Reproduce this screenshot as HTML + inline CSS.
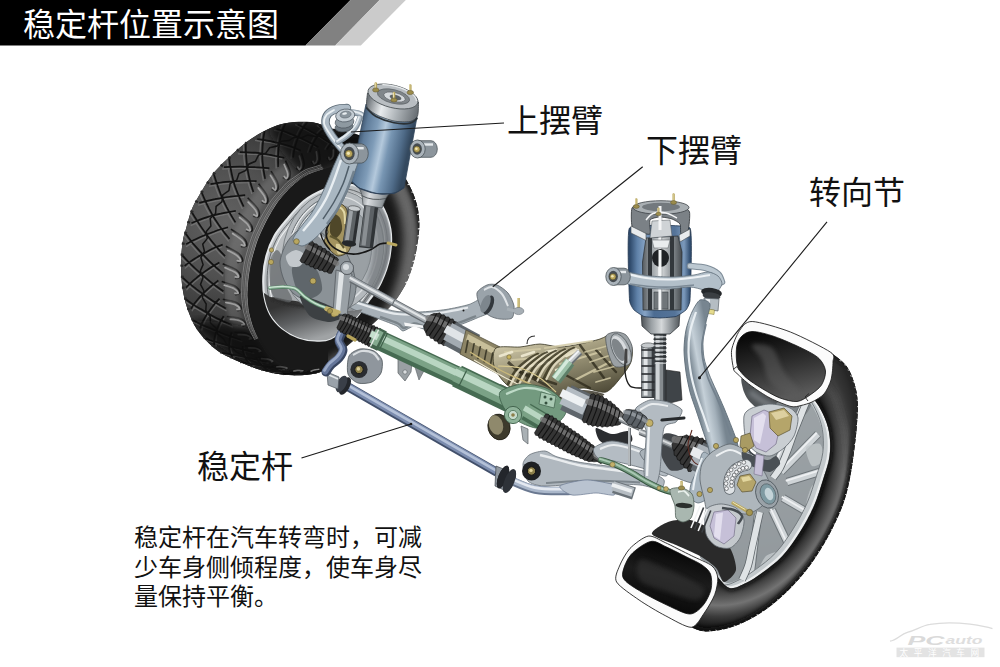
<!DOCTYPE html>
<html lang="zh-CN">
<head>
<meta charset="utf-8">
<title>稳定杆位置示意图</title>
<style>
html,body{margin:0;padding:0;background:#fff;}
body{width:1000px;height:667px;overflow:hidden;position:relative;font-family:"Liberation Sans","Noto Sans CJK SC",sans-serif;}
#stage{position:absolute;left:0;top:0;width:1000px;height:667px;display:block;}
.t{position:absolute;margin:0;color:transparent;white-space:nowrap;line-height:1;font-family:"Liberation Sans","Noto Sans CJK SC",sans-serif;}
</style>
</head>
<body>
<svg id="stage" width="1000" height="667" viewBox="0 0 1000 667">
<defs>

<radialGradient id="gTread" gradientUnits="userSpaceOnUse" cx="226" cy="222" r="140">
<stop offset="0" stop-color="#626262"/><stop offset=".4" stop-color="#505050"/><stop offset=".75" stop-color="#363636"/><stop offset="1" stop-color="#222"/></radialGradient>
<radialGradient id="gSide" gradientUnits="userSpaceOnUse" cx="330" cy="262" r="100" gradientTransform="rotate(15 330 262) translate(330 262) scale(.72 1) translate(-330 -262)">
<stop offset=".66" stop-color="#3b3b3b"/><stop offset=".8" stop-color="#4e4e4e"/><stop offset=".92" stop-color="#2b2b2b"/><stop offset="1" stop-color="#141414"/></radialGradient>
<linearGradient id="gRim" gradientUnits="userSpaceOnUse" x1="270" y1="200" x2="380" y2="330">
<stop offset="0" stop-color="#c9cdd0"/><stop offset=".5" stop-color="#a9adb0"/><stop offset="1" stop-color="#7d8185"/></linearGradient>
<linearGradient id="gBarrel" gradientUnits="userSpaceOnUse" x1="300" y1="300" x2="312" y2="340">
<stop offset="0" stop-color="#343434"/><stop offset=".45" stop-color="#5c5e60"/><stop offset="1" stop-color="#a0a3a5"/></linearGradient>
<clipPath id="cTread"><path d="M328.6 128.1C326 123.7 324.7 125.8 322.6 125.1C320.5 124.4 313.9 122.4 310.6 122.1C307.3 121.8 298.3 121.8 294.5 122.1C290.7 122.4 282.1 123.9 278.4 125.1C274.7 126.3 266.1 130.1 262.4 132.1C258.7 134.1 250.1 139.4 246.3 142.2C242.5 145 233.9 152.7 230.2 156.2C226.5 159.7 217.5 168.3 214.2 172.3C210.9 176.3 204.7 186.2 202.1 190.4C199.5 194.6 194 204 192.1 208.4C190.2 212.8 187.2 224.8 186.1 228.5C185 232.2 183.6 236.3 183 240C182.4 243.7 181.1 255 181 260.2C180.9 265.4 181.4 279.2 182 284.3C182.6 289.4 184.6 299.6 186 304.3C187.4 309 191.7 320.2 194 324.4C196.3 328.6 203 337.2 206.1 340.5C209.2 343.8 216.2 350 220.2 352.5C224.2 355 235.5 360.2 240.2 362.2C244.9 364.2 255.6 368.4 260.3 369.8C265 371.2 275.7 373.7 280.4 374.3C285.1 374.9 296.2 375.4 300.4 375.3C304.6 375.2 313.5 374 316.5 373.3C319.5 372.6 326.1 369.9 326.5 369.3C326.9 368.7 322.4 368.4 320 368.5C317.6 368.6 309.3 370 306 370C302.7 370 295.1 369.3 292 368.5C288.9 367.7 281.8 364.7 279 363C276.2 361.3 270.2 356.3 268 354C265.8 351.7 262.2 346 260.5 343C258.8 340 254.8 331.6 253.5 328C252.2 324.4 249.7 315.7 249 312C248.3 308.3 247.6 299.9 247.5 296C247.4 292.1 248 283 248.5 279C249 275 250.3 265.8 251.4 261.3C252.5 256.8 255.9 245 257.7 240.2C259.5 235.4 264.4 224.9 266.7 220.5C269 216.1 274.6 206.5 277.5 202.5C280.4 198.5 287.9 189.8 291.5 186.5C295.1 183.2 302.5 177.1 308 174.5C313.5 171.9 334.4 165.9 338.7 164.5C343 163.1 346.2 166.7 345 162.5C343.8 158.3 331.2 132.5 328.6 128.1Z"/></clipPath>
<clipPath id="cTire"><path d="M328.6 128.1C325.2 127.2 325.6 126.1 322.6 125.1C319.6 124.1 315.3 122.6 310.6 122.1C305.9 121.6 299.9 121.6 294.5 122.1C289.1 122.6 283.8 123.4 278.4 125.1C273 126.8 267.8 129.2 262.4 132.1C257 134.9 251.7 138.2 246.3 142.2C240.9 146.2 235.5 151.2 230.2 156.2C224.8 161.2 218.9 166.6 214.2 172.3C209.5 178 205.8 184.4 202.1 190.4C198.4 196.4 194.8 202.1 192.1 208.4C189.4 214.8 187.6 223.2 186.1 228.5C184.6 233.8 183.8 234.7 183 240C182.2 245.3 181.2 252.8 181 260.2C180.8 267.6 181.2 276.9 182 284.3C182.8 291.7 184 297.6 186 304.3C188 311 190.7 318.4 194 324.4C197.3 330.4 201.7 335.8 206.1 340.5C210.5 345.2 214.5 348.9 220.2 352.5C225.9 356.1 233.5 359.3 240.2 362.2C246.9 365.1 253.6 367.8 260.3 369.8C267 371.8 273.7 373.4 280.4 374.3C287.1 375.2 294.4 375.5 300.4 375.3C306.4 375.1 312.1 374.3 316.5 373.3C320.9 372.3 323.9 370.9 326.5 369.3C329.1 367.8 329.2 367.2 332 364C334.8 360.8 338.7 354.5 343 350C347.3 345.5 352.8 341.5 358 337C363.2 332.5 369 327.7 374 323C379 318.3 384 313.3 388 309C392 304.7 394.9 301.4 398 297C401.1 292.6 404.2 287.4 406.5 282.6C408.8 277.8 410.5 272.6 412 268C413.5 263.4 414.4 260.3 415.5 255C416.6 249.7 418 241.5 418.6 236C419.2 230.5 419.5 226.8 419.3 222C419.1 217.2 418.6 211.9 417.5 207C416.4 202.1 414.8 197.3 412.7 192.3C410.6 187.3 407.6 182.1 404.7 177C401.8 171.9 399.1 167 395 162C390.9 157 385.8 151.4 380 147C374.2 142.6 366.2 138.2 360 135.5C353.8 132.8 348.2 131.7 343 130.5C337.8 129.3 332 129 328.6 128.1Z"/></clipPath>
<clipPath id="cRim"><path d="M323.8 189.7C330.7 186.9 338.1 183.9 345 184C351.9 184.1 359.1 186.8 365 190C370.9 193.2 376.4 197 380.6 203.5C384.8 210 388.8 220.3 390.3 229.2C391.8 238.1 391 248.1 389.4 257C387.8 265.9 384.1 275.5 380.8 282.6C377.5 289.7 374.2 293.1 369.4 299.7C364.6 306.3 358.5 315.5 352 322C345.5 328.5 336.8 335.4 330.6 338.5C324.4 341.6 320 340.7 314.6 340.5C309.2 340.3 303.9 339.5 298.5 337.5C293.1 335.5 287.1 332.2 282.4 328.4C277.7 324.5 273.4 319.8 270.4 314.4C267.4 309 265.6 302.7 264.4 296.3C263.2 289.9 263.1 282.9 263.4 276.2C263.7 269.5 264.6 262.8 266.4 256.1C268.2 249.4 271 242 274.4 236C277.8 230 281.6 225.8 286.5 220C291.4 214.2 297.7 206.1 303.9 201C310.1 195.9 316.9 192.5 323.8 189.7Z"/></clipPath>
<filter id="b1"><feGaussianBlur stdDeviation="1"/></filter>
<filter id="b2"><feGaussianBlur stdDeviation="2"/></filter>
<filter id="b4"><feGaussianBlur stdDeviation="4"/></filter>


<radialGradient id="gRT" gradientUnits="userSpaceOnUse" cx="742" cy="470" r="150" gradientTransform="translate(742 470) rotate(20) scale(.78 1.08) translate(-742 -470)">
<stop offset=".70" stop-color="#171717"/><stop offset=".79" stop-color="#4a4a4a"/><stop offset=".86" stop-color="#737373"/><stop offset=".93" stop-color="#3c3c3c"/><stop offset="1" stop-color="#161616"/></radialGradient>
<linearGradient id="gCav" gradientUnits="userSpaceOnUse" x1="760" y1="335" x2="775" y2="400">
<stop offset="0" stop-color="#0a0a0a"/><stop offset=".45" stop-color="#2a2a2a"/><stop offset="1" stop-color="#5a5a5a"/></linearGradient>
<linearGradient id="gCav2" gradientUnits="userSpaceOnUse" x1="670" y1="545" x2="655" y2="605">
<stop offset="0" stop-color="#050505"/><stop offset=".5" stop-color="#1c1c1c"/><stop offset="1" stop-color="#0a0a0a"/></linearGradient>
<linearGradient id="gRimR" gradientUnits="userSpaceOnUse" x1="760" y1="400" x2="800" y2="590">
<stop offset="0" stop-color="#c9ced1"/><stop offset=".5" stop-color="#b4babd"/><stop offset="1" stop-color="#9aa0a4"/></linearGradient>
<clipPath id="cRT"><path d="M830.5 352.2C833.2 354.5 842.6 360.8 846.6 366.2C850.6 371.6 852.8 378.3 854.6 384.3C856.5 390.3 857.3 395.6 857.7 402.4C858.1 409.2 857.5 416.7 856.9 425C856.3 433.3 855.2 442.8 854 452C852.8 461.2 851.5 471.3 849.6 480.3C847.7 489.3 846 496.7 842.5 506C839 515.3 834 526 828.5 536C823 546 816.2 557 809.6 566C803 575 795.7 583 788.7 590C781.7 597 774.6 603.1 767.5 608.3C760.4 613.5 753 617.8 746 621.3C739 624.8 732.2 627.3 725.2 629C718.2 630.7 709.9 631.7 704.3 631.4C698.6 631.1 693.5 628 691.3 627.3L717.3 576.5C719.4 578.4 724.9 586.9 729.7 588C734.5 589.1 740.6 585.5 746 583C751.4 580.5 755.9 577.5 762 573C768.1 568.5 776.2 562.8 782.5 556C788.8 549.2 794.8 540.3 800 532C805.2 523.7 810.2 514.7 814 506C817.8 497.3 820.4 488.3 823 480C825.6 471.7 828.6 463.9 829.6 456C830.6 448.1 830.3 439.8 829.2 432.8C828.1 425.8 825.5 419.5 823 414C820.5 408.5 816.9 403 814.5 400C812.1 397 809.4 396.7 808.4 396Z"/></clipPath>


<linearGradient id="gGear" gradientUnits="userSpaceOnUse" x1="540" y1="335" x2="560" y2="410">
<stop offset="0" stop-color="#cfc8aa"/><stop offset=".3" stop-color="#a59e80"/><stop offset=".65" stop-color="#77725a"/><stop offset="1" stop-color="#45412f"/></linearGradient>
<linearGradient id="gCyl" gradientUnits="userSpaceOnUse" x1="0" y1="0" x2="0" y2="1">
<stop offset="0" stop-color="#6b7075"/><stop offset=".3" stop-color="#d4d8db"/><stop offset=".6" stop-color="#9da3a8"/><stop offset="1" stop-color="#4f5458"/></linearGradient>


<linearGradient id="gShk" gradientUnits="userSpaceOnUse" x1="357" y1="140" x2="408" y2="151">
<stop offset="0" stop-color="#3a5068"/><stop offset=".12" stop-color="#5f7c9a"/><stop offset=".32" stop-color="#7f9cb8"/><stop offset=".48" stop-color="#b4c9dc"/><stop offset=".62" stop-color="#7896b3"/><stop offset=".85" stop-color="#4f6b88"/><stop offset="1" stop-color="#34495f"/></linearGradient>
<linearGradient id="gCap" gradientUnits="userSpaceOnUse" x1="368" y1="100" x2="417" y2="114">
<stop offset="0" stop-color="#6f757a"/><stop offset=".3" stop-color="#e9ecee"/><stop offset=".6" stop-color="#b0b6ba"/><stop offset="1" stop-color="#6a7075"/></linearGradient>
<linearGradient id="gCol" gradientUnits="userSpaceOnUse" x1="358" y1="190" x2="392" y2="197">
<stop offset="0" stop-color="#5d6368"/><stop offset=".35" stop-color="#d9dcdf"/><stop offset=".7" stop-color="#9da3a7"/><stop offset="1" stop-color="#53595d"/></linearGradient>



<linearGradient id="gShkR" gradientUnits="userSpaceOnUse" x1="630" y1="0" x2="690" y2="0">
<stop offset="0" stop-color="#2f4a6b"/><stop offset=".12" stop-color="#5f81a8"/><stop offset=".25" stop-color="#86a3c4"/><stop offset=".4" stop-color="#4c6c92"/><stop offset=".75" stop-color="#557499"/><stop offset=".9" stop-color="#7b99bb"/><stop offset="1" stop-color="#324e70"/></linearGradient>
<linearGradient id="gIn" gradientUnits="userSpaceOnUse" x1="641" y1="0" x2="682" y2="0">
<stop offset="0" stop-color="#4a4f53"/><stop offset=".25" stop-color="#9aa0a4"/><stop offset=".5" stop-color="#d5d8da"/><stop offset=".75" stop-color="#8b9195"/><stop offset="1" stop-color="#454a4e"/></linearGradient>
<linearGradient id="gKn" gradientUnits="userSpaceOnUse" x1="686" y1="340" x2="708" y2="336">
<stop offset="0" stop-color="#7b8994"/><stop offset=".35" stop-color="#c5d0d8"/><stop offset=".7" stop-color="#a3b0ba"/><stop offset="1" stop-color="#778590"/></linearGradient>

</defs>
<rect width="1000" height="667" fill="#fff"/>
<!-- ===== illustration ===== -->
<g id="lwheel">
<path d="M328.6 128.1C325.2 127.2 325.6 126.1 322.6 125.1C319.6 124.1 315.3 122.6 310.6 122.1C305.9 121.6 299.9 121.6 294.5 122.1C289.1 122.6 283.8 123.4 278.4 125.1C273 126.8 267.8 129.2 262.4 132.1C257 134.9 251.7 138.2 246.3 142.2C240.9 146.2 235.5 151.2 230.2 156.2C224.8 161.2 218.9 166.6 214.2 172.3C209.5 178 205.8 184.4 202.1 190.4C198.4 196.4 194.8 202.1 192.1 208.4C189.4 214.8 187.6 223.2 186.1 228.5C184.6 233.8 183.8 234.7 183 240C182.2 245.3 181.2 252.8 181 260.2C180.8 267.6 181.2 276.9 182 284.3C182.8 291.7 184 297.6 186 304.3C188 311 190.7 318.4 194 324.4C197.3 330.4 201.7 335.8 206.1 340.5C210.5 345.2 214.5 348.9 220.2 352.5C225.9 356.1 233.5 359.3 240.2 362.2C246.9 365.1 253.6 367.8 260.3 369.8C267 371.8 273.7 373.4 280.4 374.3C287.1 375.2 294.4 375.5 300.4 375.3C306.4 375.1 312.1 374.3 316.5 373.3C320.9 372.3 323.9 370.9 326.5 369.3C329.1 367.8 329.2 367.2 332 364C334.8 360.8 338.7 354.5 343 350C347.3 345.5 352.8 341.5 358 337C363.2 332.5 369 327.7 374 323C379 318.3 384 313.3 388 309C392 304.7 394.9 301.4 398 297C401.1 292.6 404.2 287.4 406.5 282.6C408.8 277.8 410.5 272.6 412 268C413.5 263.4 414.4 260.3 415.5 255C416.6 249.7 418 241.5 418.6 236C419.2 230.5 419.5 226.8 419.3 222C419.1 217.2 418.6 211.9 417.5 207C416.4 202.1 414.8 197.3 412.7 192.3C410.6 187.3 407.6 182.1 404.7 177C401.8 171.9 399.1 167 395 162C390.9 157 385.8 151.4 380 147C374.2 142.6 366.2 138.2 360 135.5C353.8 132.8 348.2 131.7 343 130.5C337.8 129.3 332 129 328.6 128.1Z" fill="#191919"/>
<g clip-path="url(#cTire)">
<path d="M383.3 168.7C384.9 170.3 390 174.7 392.9 178.3C395.8 181.9 398.4 186 400.7 190.4C402.9 194.8 404.9 199.7 406.5 204.7C408.1 209.8 409.3 215.2 410.1 220.8C411 226.4 411.4 232.2 411.5 238.1C411.6 244 411.2 250.1 410.5 256.1C409.8 262.2 408.7 268.3 407.3 274.3C405.8 280.4 404 286.4 401.8 292.2C399.7 298 397.1 303.7 394.3 309.1C391.5 314.5 388.4 319.7 385 324.6C381.7 329.4 378 334 374.2 338.2C370.4 342.3 366.4 346.1 362.2 349.4C358.1 352.8 353.8 355.7 349.4 358.1C345.1 360.4 338.4 362.8 336.2 363.8" fill="none" stroke="#6e6e6e" stroke-width="17" filter="url(#b4)" opacity=".95" stroke-linecap="round"/>
<ellipse cx="331" cy="262" rx="90" ry="124" fill="none" transform="rotate(17 331 262)" stroke="#0c0c0c" stroke-width="10" filter="url(#b2)" opacity=".9"/>
</g>
<path d="M328.6 128.1C326 123.7 324.7 125.8 322.6 125.1C320.5 124.4 313.9 122.4 310.6 122.1C307.3 121.8 298.3 121.8 294.5 122.1C290.7 122.4 282.1 123.9 278.4 125.1C274.7 126.3 266.1 130.1 262.4 132.1C258.7 134.1 250.1 139.4 246.3 142.2C242.5 145 233.9 152.7 230.2 156.2C226.5 159.7 217.5 168.3 214.2 172.3C210.9 176.3 204.7 186.2 202.1 190.4C199.5 194.6 194 204 192.1 208.4C190.2 212.8 187.2 224.8 186.1 228.5C185 232.2 183.6 236.3 183 240C182.4 243.7 181.1 255 181 260.2C180.9 265.4 181.4 279.2 182 284.3C182.6 289.4 184.6 299.6 186 304.3C187.4 309 191.7 320.2 194 324.4C196.3 328.6 203 337.2 206.1 340.5C209.2 343.8 216.2 350 220.2 352.5C224.2 355 235.5 360.2 240.2 362.2C244.9 364.2 255.6 368.4 260.3 369.8C265 371.2 275.7 373.7 280.4 374.3C285.1 374.9 296.2 375.4 300.4 375.3C304.6 375.2 313.5 374 316.5 373.3C319.5 372.6 326.1 369.9 326.5 369.3C326.9 368.7 322.4 368.4 320 368.5C317.6 368.6 309.3 370 306 370C302.7 370 295.1 369.3 292 368.5C288.9 367.7 281.8 364.7 279 363C276.2 361.3 270.2 356.3 268 354C265.8 351.7 262.2 346 260.5 343C258.8 340 254.8 331.6 253.5 328C252.2 324.4 249.7 315.7 249 312C248.3 308.3 247.6 299.9 247.5 296C247.4 292.1 248 283 248.5 279C249 275 250.3 265.8 251.4 261.3C252.5 256.8 255.9 245 257.7 240.2C259.5 235.4 264.4 224.9 266.7 220.5C269 216.1 274.6 206.5 277.5 202.5C280.4 198.5 287.9 189.8 291.5 186.5C295.1 183.2 302.5 177.1 308 174.5C313.5 171.9 334.4 165.9 338.7 164.5C343 163.1 346.2 166.7 345 162.5C343.8 158.3 331.2 132.5 328.6 128.1Z" fill="url(#gTread)"/>
<g clip-path="url(#cTread)">
<path d="M328.6 128.1C328.9 128.7 329.7 130.5 330.3 131.7C330.9 132.8 331.4 134 332 135.2C332.6 136.4 333.1 137.6 333.7 138.8C334.2 139.9 334.8 141.1 335.4 142.3C335.9 143.5 336.5 144.7 337.1 145.9C337.6 147.1 338.5 148.8 338.8 149.4M328.6 128.1C328.9 128.7 329.7 130.5 330.3 131.7C330.9 132.8 331.4 134 332 135.2C332.6 136.4 333.9 137.8 333.7 138.8C333.4 139.8 331.6 140.2 330.6 141.3C329.5 142.3 328.4 143.7 327.4 145.1C326.4 146.5 325.1 148.8 324.7 149.6M325.8 126.7C325.2 127 323.2 127.7 322 128.6C320.7 129.4 319.4 130.5 318.2 131.8C317.1 133 316 134.5 314.9 136C313.9 137.6 312.9 139.4 311.9 141.2C311 143 310.2 144.8 309.5 146.7C308.7 148.6 307.8 151.8 307.5 152.8M304.4 122.1C303.8 122.9 301.9 125.2 300.9 127C299.8 128.7 298.7 130.5 297.8 132.5C296.9 134.4 296.1 136.5 295.3 138.6C294.5 140.7 293.8 142.6 293.2 144.8C292.6 146.9 292.1 149.2 291.7 151.5C291.3 153.9 291.1 157.6 291 158.8M282.4 124.4C282 125.4 280.6 128.6 279.9 130.9C279.2 133.2 278.6 135.8 278.1 138.2C277.6 140.6 277.1 143.1 276.8 145.6C276.4 148.1 276.2 150.6 276.1 153.2C275.9 155.8 275.9 158.4 275.9 160.9C275.9 163.4 276.1 167.2 276.2 168.4M261.9 132.5C261.7 133.8 261.1 137.9 260.8 140.5C260.5 143.2 260.3 145.8 260.2 148.5C260 151.1 259.9 153.6 260 156.3C260.1 159 260.4 161.8 260.7 164.6C261 167.3 261.4 170 261.9 172.7C262.3 175.4 263.2 179.3 263.4 180.6M243.4 144.7C243.5 146.1 243.5 150.4 243.7 153.3C243.8 156.1 244 158.9 244.3 161.6C244.6 164.4 245 167.1 245.4 169.8C245.9 172.6 246.4 175.3 247 178C247.7 180.7 248.4 183.4 249.2 186C250 188.7 251.5 192.7 251.9 194M226.9 159.5C227.1 160.9 227.6 165.2 228.1 168C228.6 170.8 229.2 173.6 229.8 176.3C230.5 179.1 231.2 181.8 232.1 184.6C233 187.3 234.1 190.2 235.2 193C236.3 195.7 237.4 198.4 238.6 201.1C239.8 203.7 241.8 207.6 242.4 208.9M211.9 175.8C212.4 177.2 213.7 181.7 214.7 184.6C215.7 187.5 216.7 190.3 217.8 193.1C218.9 195.9 220 198.6 221.3 201.3C222.6 204.1 224 206.8 225.4 209.4C226.8 212.1 228.3 214.7 229.8 217.2C231.3 219.7 233.6 223.4 234.4 224.6M199.9 194.4C200.5 195.8 202.3 200.1 203.6 202.9C204.9 205.7 206.2 208.4 207.7 211.1C209.1 213.8 210.7 216.5 212.3 219.1C214 221.7 215.8 224.4 217.6 226.9C219.4 229.5 221.3 231.9 223.1 234.4C225 236.8 227.9 240.2 228.8 241.4M190.3 214.3C191.2 215.7 193.8 220 195.6 222.7C197.4 225.4 199.2 228 201 230.6C202.8 233.2 204.7 235.7 206.6 238.2C208.4 240.6 210.3 243 212.3 245.4C214.3 247.7 216.4 250 218.4 252.2C220.5 254.4 223.7 257.5 224.8 258.6M184.2 235.6C185.2 236.9 188 240.8 190 243.4C192.1 245.9 194.3 248.4 196.5 250.8C198.7 253.2 200.8 255.5 203 257.7C205.2 260 207.3 262.2 209.6 264.3C211.8 266.4 214.2 268.5 216.4 270.4C218.7 272.4 222 275.2 223.2 276.2M181.3 257.6C182.4 258.8 185.9 262.4 188.2 264.7C190.6 267 193 269.2 195.4 271.4C197.7 273.5 200 275.6 202.4 277.6C204.7 279.6 207 281.6 209.3 283.4C211.7 285.3 214.1 287.1 216.5 288.8C218.9 290.5 222.4 292.9 223.5 293.8M181.8 279.7C183 280.8 186.6 284 189.1 286.1C191.6 288.1 194.3 290 196.8 291.9C199.4 293.8 201.8 295.6 204.3 297.4C206.7 299.1 209.1 300.8 211.6 302.4C214.1 304 216.8 305.4 219.3 306.9C221.8 308.3 225.4 310.3 226.6 311M185.5 301.6C186.8 302.5 190.9 305.2 193.6 307C196.3 308.7 199.1 310.3 201.8 311.9C204.4 313.4 207 315 209.6 316.4C212.2 317.9 214.6 319.3 217.3 320.5C219.9 321.8 222.8 322.9 225.4 324C228 325.1 231.7 326.7 233 327.2M193.2 322.3C194.7 323 199.1 325.2 202 326.5C204.9 327.8 208 329 210.8 330.2C213.6 331.3 216.3 332.6 219 333.6C221.8 334.7 224.4 335.7 227.1 336.6C229.7 337.6 232.5 338.3 235 339.2C237.5 340 241.1 341.3 242.3 341.7M206 340.4C207.5 340.8 212.3 342.2 215.3 343C218.3 343.9 221.2 344.8 224 345.6C226.8 346.5 229.4 347.4 232.1 348.2C234.8 348.9 237.5 349.3 240.1 349.9C242.7 350.5 245.2 351.1 247.5 351.7C249.9 352.3 253.2 353.3 254.3 353.6M223.4 354C224.8 354.3 229.5 355 232.3 355.5C235.2 356 238 356.5 240.7 357.1C243.3 357.6 245.8 358.2 248.3 358.8C250.8 359.3 253.1 359.8 255.4 360.3C257.8 360.8 260.1 361.3 262.3 361.8C264.5 362.3 267.6 363 268.6 363.3M243.4 363.4C244.8 363.6 248.9 364.2 251.5 364.6C254.1 365.1 256.6 365.5 259 365.9C261.4 366.4 263.7 366.9 266 367.3C268.3 367.6 270.5 367.9 272.7 368.1C274.8 368.4 277 368.6 279 368.9C281 369.1 283.9 369.5 284.9 369.6M264.4 370.7C265.6 370.8 269.3 371.1 271.7 371.3C274.1 371.5 276.4 371.8 278.6 371.9C280.9 372.1 283 372.3 285.1 372.4C287.2 372.4 289.3 372.3 291.3 372.3C293.2 372.2 295.2 372.1 297 372C298.9 371.9 301.4 371.8 302.3 371.7M286.1 374.6C287.3 374.5 290.7 374.4 292.8 374.3C295 374.2 297.1 374.2 299.1 374C301.1 373.8 303.1 373.5 305 373.2C306.8 372.9 308.6 372.6 310.4 372.2C312.1 371.8 313.8 371.5 315.3 371C316.9 370.6 319 369.7 319.7 369.5M308.3 374.3C309.2 374.1 312.3 373.7 314.2 373.1C316 372.6 317.8 371.8 319.5 371.1C321.1 370.5 323.6 369.5 324.3 369.1C325 368.8 324 369 323.8 369C323.6 368.9 323.4 368.9 323.1 368.9C322.9 368.9 322.6 368.8 322.5 368.8M326.5 369.3C326.4 369.3 326.1 369.2 325.8 369.2C325.6 369.2 325.4 369.2 325.2 369.1C324.9 369.1 324.7 369.1 324.5 369.1C324.3 369 324 369 323.8 369C323.6 368.9 323.4 368.9 323.1 368.9C322.9 368.9 322.6 368.8 322.5 368.8M326.5 369.3C326.4 369.3 326.1 369.2 325.8 369.2C325.6 369.2 325.4 369.2 325.2 369.1C324.9 369.1 324.7 369.1 324.5 369.1C324.3 369 324 369 323.8 369C323.6 368.9 323.4 368.9 323.1 368.9C322.9 368.9 322.6 368.8 322.5 368.8M326.5 369.3C326.4 369.3 326.1 369.2 325.8 369.2C325.6 369.2 325.4 369.2 325.2 369.1C324.9 369.1 324.7 369.1 324.5 369.1C324.3 369 324 369 323.8 369C323.6 368.9 323.4 368.9 323.1 368.9C322.9 368.9 322.6 368.8 322.5 368.8M329.4 129.8C329.6 130.3 330.3 131.7 330.8 132.7C331.2 133.6 331.7 134.6 332.2 135.6C332.6 136.5 333.1 137.5 333.5 138.4C334 139.4 334.4 140.3 334.9 141.3C335.3 142.2 335.8 143.2 336.3 144.2C336.7 145.1 337.4 146.5 337.6 147M329.4 129.8C329.6 130.3 330.3 131.7 330.8 132.7C331.2 133.6 331.7 134.6 332.2 135.6C332.6 136.5 333.1 137.5 333.5 138.4C334 139.4 334.4 140.3 334.9 141.3C335.3 142.2 335.8 143.2 336.3 144.2C336.7 145.1 337.4 146.5 337.6 147M316.8 125.5C317.9 126.2 321.2 128.4 323.3 129.9C325.4 131.4 327.6 133.1 329.3 134.5C331 135.9 332.6 137.3 333.5 138.4C334.5 139.5 334.4 140.3 334.9 141.3C335.3 142.2 335.8 143.2 336.3 144.2C336.7 145.1 337.4 146.5 337.6 147M295.2 124.6C296.4 125.2 300.1 127.1 302.4 128.3C304.8 129.6 307.1 130.8 309.4 132C311.7 133.2 313.9 134.3 316.1 135.5C318.2 136.7 320.3 138.1 322.3 139.4C324.4 140.6 326.4 141.9 328.3 143.1C330.2 144.3 333 146 333.9 146.6M274.1 130.1C275.4 130.4 279.1 131.3 281.6 132C284.1 132.8 286.6 133.8 289.1 134.8C291.5 135.8 294 136.8 296.3 137.8C298.7 138.8 301 139.8 303.3 140.8C305.6 141.9 307.8 143 310 144.1C312.2 145.2 315.3 146.8 316.4 147.4M255 140.4C256.3 140.6 260.2 141.1 262.7 141.5C265.3 141.9 267.7 142.2 270.2 142.7C272.7 143.2 275.2 143.9 277.6 144.5C280.1 145.1 282.4 145.7 284.8 146.3C287.2 147 289.5 147.7 291.8 148.5C294.1 149.3 297.5 150.7 298.7 151.1M237.9 153.8C239.2 153.8 243.1 153.9 245.7 154C248.3 154.1 250.8 154.2 253.2 154.4C255.7 154.5 258.2 154.7 260.6 155C263.1 155.3 265.7 155.8 268.2 156.2C270.6 156.6 273 157.1 275.4 157.5C277.8 158 281.3 158.8 282.4 159M222.2 169C223.6 168.9 227.6 168.7 230.3 168.6C233 168.5 235.6 168.5 238.2 168.4C240.8 168.4 243.3 168.4 245.9 168.4C248.4 168.5 251 168.6 253.5 168.8C256 168.9 258.4 169 260.8 169.2C263.2 169.4 266.7 169.7 267.9 169.8M209.1 186.3C210.4 186.1 214.4 185.4 217 185C219.6 184.6 222.1 184.2 224.7 183.9C227.2 183.6 229.7 183.3 232.3 183.1C234.9 182.9 237.6 182.9 240.1 182.8C242.7 182.7 245.2 182.6 247.7 182.6C250.1 182.6 253.8 182.7 255.1 182.7M198 205.1C199.4 204.8 203.4 203.8 206 203.1C208.6 202.5 211.2 201.9 213.7 201.3C216.3 200.8 218.8 200.3 221.4 199.8C223.9 199.4 226.5 199 229 198.6C231.6 198.3 234.1 198 236.6 197.7C239.1 197.5 242.8 197.1 244 197M190.7 225.6C191.9 225.1 195.5 223.6 197.9 222.6C200.2 221.7 202.6 220.8 205 219.9C207.3 219.1 209.6 218.2 212.1 217.5C214.6 216.8 217.2 216.2 219.7 215.6C222.3 215.1 224.8 214.5 227.3 214.1C229.8 213.6 233.5 212.9 234.8 212.7M185.9 246.8C186.9 246.2 190 244.2 192.2 243.1C194.4 241.9 196.9 240.8 199.2 239.7C201.5 238.6 203.9 237.6 206.2 236.7C208.6 235.7 210.9 234.8 213.3 233.9C215.6 233 217.9 232.2 220.3 231.4C222.6 230.6 226.1 229.6 227.2 229.2M184.7 268.5C185.6 267.8 188.4 265.6 190.3 264.1C192.2 262.7 194.2 261.4 196.2 260C198.2 258.7 200.4 257.5 202.5 256.2C204.6 255 206.7 253.8 208.8 252.7C210.9 251.6 213.1 250.5 215.3 249.5C217.5 248.5 221 247.2 222.1 246.7M186.4 290.2C187.2 289.4 189.3 286.9 191 285.3C192.6 283.7 194.4 282.1 196.2 280.6C198 279.1 199.8 277.6 201.7 276.2C203.5 274.7 205.4 273.4 207.3 272C209.2 270.7 211.1 269.4 213.1 268.2C215.1 266.9 218.1 265.2 219.1 264.6M191.9 311.3C192.4 310.4 193.9 307.8 195.1 306.1C196.3 304.3 197.6 302.6 199 301C200.4 299.3 201.9 297.6 203.4 296C205 294.4 206.5 292.8 208.1 291.3C209.7 289.8 211.4 288.3 213.1 286.9C214.8 285.5 217.5 283.4 218.4 282.7M201.7 330.5C201.9 329.7 202.6 327.2 203.2 325.5C203.8 323.8 204.5 322.2 205.4 320.4C206.3 318.7 207.5 316.9 208.6 315.2C209.7 313.5 210.9 311.8 212.1 310.2C213.3 308.5 214.5 306.9 215.8 305.3C217.1 303.8 219.2 301.5 219.9 300.7M216.2 346.6C216.2 345.8 216 343.6 216.1 342.1C216.1 340.6 216.1 339.2 216.4 337.6C216.7 336 217.3 334.2 217.8 332.6C218.4 330.9 219 329.3 219.6 327.7C220.3 326.1 221 324.5 221.8 322.9C222.6 321.3 224 319 224.4 318.2M234.4 358.1C234.1 357.5 233.1 355.9 232.6 354.7C232.1 353.6 231.7 352.4 231.4 351.2C231 350 230.8 348.7 230.8 347.3C230.7 345.9 230.9 344.4 231 342.9C231.1 341.4 231.4 339.9 231.6 338.4C231.9 337 232.5 334.8 232.7 334M254.4 366.7C253.9 366.3 252.3 365 251.4 364.1C250.5 363.1 249.6 362.3 248.8 361.3C248.1 360.3 247.4 359.3 246.9 358.2C246.3 357.1 245.9 355.9 245.5 354.7C245.1 353.6 244.7 352.4 244.5 351.2C244.3 350 244.2 348.1 244.1 347.5M275.3 372.7C274.6 372.4 272.6 371.5 271.3 370.9C270.1 370.3 268.8 369.7 267.7 369C266.6 368.4 265.5 367.7 264.6 366.8C263.6 366 262.7 365.1 261.9 364.1C261.1 363.2 260.3 362.3 259.6 361.3C258.9 360.4 258 359 257.7 358.5M296.9 374.8C296.1 374.7 293.7 374.3 292.2 374.1C290.7 373.8 289.2 373.6 287.8 373.3C286.3 373 285 372.7 283.7 372.2C282.4 371.8 281.2 371.1 280 370.5C278.8 369.9 277.7 369.3 276.6 368.7C275.5 368.1 274.1 367.1 273.5 366.8M318.5 372.3C317.6 372.4 315 372.9 313.3 373.1C311.6 373.3 309.9 373.3 308.3 373.3C306.7 373.4 305.1 373.4 303.6 373.4C302 373.3 300.5 373.2 299.1 373C297.7 372.8 296.3 372.4 294.9 372.2C293.6 371.9 291.6 371.5 291 371.4M326.2 369.3C326.1 369.2 325.8 369.2 325.6 369.2C325.5 369.2 325.5 369.1 325.1 369.1C324.7 369.2 324.2 369.3 323 369.6C321.9 369.8 319.8 370.4 318.2 370.8C316.7 371.1 315.1 371.4 313.6 371.6C312.1 371.7 309.9 371.7 309.1 371.7M326.2 369.3C326.1 369.2 325.8 369.2 325.6 369.2C325.5 369.2 325.3 369.1 325.1 369.1C324.9 369.1 324.7 369.1 324.6 369.1C324.4 369 324.2 369 324 369C323.8 369 323.6 368.9 323.5 368.9C323.3 368.9 323 368.9 322.9 368.9M326.2 369.3C326.1 369.2 325.8 369.2 325.6 369.2C325.5 369.2 325.3 369.1 325.1 369.1C324.9 369.1 324.7 369.1 324.6 369.1C324.4 369 324.2 369 324 369C323.8 369 323.6 368.9 323.5 368.9C323.3 368.9 323 368.9 322.9 368.9" fill="none" stroke="#8c8c8c" stroke-width="1.3" opacity=".5"/>
<path d="M328.6 128.1C328.9 128.7 329.7 130.5 330.3 131.7C330.9 132.8 331.4 134 332 135.2C332.6 136.4 333.1 137.6 333.7 138.8C334.2 139.9 334.8 141.1 335.4 142.3C335.9 143.5 336.5 144.7 337.1 145.9C337.6 147.1 338.5 148.8 338.8 149.4M328.6 128.1C328.9 128.7 329.7 130.5 330.3 131.7C330.9 132.8 331.4 134 332 135.2C332.6 136.4 333.5 137.7 333.7 138.8C333.9 139.9 333.7 140.7 333 141.8C332.4 142.8 330.9 143.8 329.9 145.1C328.9 146.4 327.5 148.7 327.1 149.5M328.6 128.1C328 128.3 326.1 128.6 324.8 129.3C323.6 130 322.2 131.1 321 132.2C319.9 133.3 318.7 134.4 317.7 135.9C316.6 137.4 315.5 139.2 314.6 140.9C313.6 142.7 312.8 144.5 312 146.3C311.2 148.2 310.2 151.2 309.9 152.2M307.5 122.1C306.9 122.9 305 125.2 303.8 126.9C302.7 128.5 301.6 130.1 300.7 132C299.7 133.8 298.8 136 298 138C297.2 140 296.5 142.1 295.8 144.2C295.2 146.3 294.6 148.4 294.1 150.6C293.7 152.8 293.3 156.4 293.1 157.5M285.5 123.8C285 124.8 283.5 127.7 282.7 129.9C281.9 132.1 281.3 134.6 280.7 137C280.1 139.4 279.6 141.9 279.3 144.3C278.9 146.8 278.5 149.2 278.3 151.7C278.1 154.3 278.1 156.9 278.1 159.5C278.1 162 278.2 165.8 278.2 167M264.7 131.1C264.4 132.4 263.7 136.3 263.3 138.9C263 141.6 262.8 144.3 262.6 146.9C262.4 149.5 262.3 152 262.3 154.7C262.3 157.3 262.4 160 262.7 162.7C262.9 165.4 263.3 168.2 263.7 170.9C264.1 173.6 264.9 177.5 265.2 178.9M245.8 142.7C245.8 144.1 245.8 148.4 245.9 151.3C246 154.1 246.2 156.9 246.5 159.7C246.7 162.5 247 165.2 247.4 167.9C247.8 170.6 248.3 173.4 248.9 176.1C249.5 178.7 250.1 181.4 250.8 184.1C251.6 186.7 253 190.7 253.4 192M229.1 157.3C229.3 158.7 229.8 163.1 230.2 165.9C230.7 168.7 231.2 171.5 231.8 174.2C232.4 177 233 179.7 233.8 182.4C234.6 185.2 235.6 188 236.7 190.7C237.7 193.5 238.9 196.2 240 198.9C241.2 201.6 243.1 205.4 243.7 206.7M213.6 173.2C214.1 174.7 215.4 179.2 216.4 182.1C217.3 185 218.3 187.9 219.4 190.7C220.4 193.5 221.5 196.2 222.7 198.9C223.9 201.7 225.3 204.4 226.6 207.1C228 209.7 229.5 212.4 230.9 214.9C232.4 217.5 234.7 221.2 235.5 222.4M201.4 191.7C202 193.1 203.8 197.5 205.1 200.3C206.3 203.1 207.7 205.9 209 208.6C210.4 211.3 211.7 213.9 213.3 216.5C214.8 219.1 216.7 221.8 218.5 224.4C220.2 226.9 222 229.4 223.9 231.9C225.7 234.3 228.6 237.8 229.5 239M191.2 211.3C192.1 212.8 194.7 217.1 196.5 219.8C198.2 222.6 200 225.2 201.8 227.9C203.6 230.5 205.4 233 207.3 235.5C209.2 238 211.1 240.4 213 242.8C214.9 245.1 216.9 247.4 218.9 249.6C220.9 251.9 224.1 255.1 225.1 256.1M185 232.6C185.9 233.9 188.6 237.9 190.6 240.4C192.5 243 194.7 245.5 196.9 247.9C199 250.3 201.2 252.7 203.3 255C205.5 257.3 207.6 259.5 209.8 261.6C212 263.8 214.3 265.9 216.6 267.9C218.8 269.9 222.2 272.7 223.3 273.7M181.6 254.5C182.7 255.7 185.9 259.4 188.2 261.7C190.5 264 193 266.3 195.3 268.5C197.7 270.7 200 272.8 202.3 274.8C204.7 276.9 207 278.9 209.3 280.8C211.6 282.7 213.9 284.5 216.3 286.3C218.6 288 222.2 290.5 223.4 291.3M181.7 276.6C182.9 277.7 186.3 281 188.8 283.1C191.2 285.2 193.9 287.1 196.4 289.1C198.9 291 201.4 292.8 203.9 294.6C206.3 296.4 208.7 298.1 211.1 299.7C213.6 301.4 216.2 302.9 218.6 304.4C221.1 305.9 224.8 307.9 226.1 308.6M184.8 298.5C186.1 299.5 189.9 302.4 192.6 304.1C195.2 305.9 198.1 307.5 200.8 309.1C203.5 310.7 206.2 312.3 208.7 313.8C211.3 315.3 213.7 316.8 216.3 318.1C218.8 319.4 221.6 320.6 224.2 321.7C226.8 322.9 230.6 324.5 231.9 325M192 319.5C193.4 320.2 197.4 322.7 200.3 324C203.2 325.4 206.3 326.6 209.2 327.8C212.1 329 214.9 330.2 217.6 331.3C220.3 332.4 222.8 333.6 225.4 334.6C228.1 335.6 230.8 336.4 233.4 337.2C236 338.1 239.6 339.3 240.9 339.7M204.1 337.9C205.6 338.4 210.1 340.1 213.1 341C216.1 342 219.1 342.8 222 343.6C224.8 344.5 227.5 345.4 230.2 346.2C232.9 347 235.5 347.6 238.1 348.3C240.7 349 243.2 349.5 245.6 350.1C248 350.8 251.4 351.7 252.5 352.1M220.6 352.7C222.1 352.9 226.8 353.6 229.7 354.1C232.7 354.6 235.5 355.1 238.2 355.6C240.9 356.2 243.5 356.8 246 357.3C248.5 357.9 250.8 358.5 253.2 359C255.5 359.6 257.8 360 260.1 360.5C262.3 361 265.4 361.8 266.5 362M240.5 362.3C241.9 362.5 246.1 363.1 248.7 363.5C251.4 363.9 253.9 364.4 256.4 364.8C258.8 365.2 261.2 365.8 263.5 366.2C265.8 366.6 268 367 270.1 367.3C272.3 367.7 274.5 367.9 276.5 368.1C278.6 368.4 281.5 368.7 282.5 368.9M261.3 370C262.6 370.1 266.4 370.4 268.8 370.6C271.2 370.8 273.6 371 275.8 371.2C278.1 371.4 280.3 371.8 282.4 371.9C284.5 372 286.6 372.1 288.6 372.1C290.6 372 292.5 371.9 294.4 371.8C296.3 371.8 299 371.7 299.9 371.6M283 374.4C284.2 374.4 287.7 374.2 289.9 374.1C292 374 294.2 374 296.2 373.9C298.3 373.7 300.3 373.7 302.2 373.4C304.1 373.2 305.9 372.8 307.7 372.5C309.5 372.2 311.2 371.8 312.8 371.4C314.4 371 316.6 370.3 317.4 370M305.2 374.7C306.2 374.5 309.3 373.9 311.2 373.5C313.1 373.1 315 372.7 316.7 372.1C318.5 371.5 320.5 370.5 321.7 370C322.8 369.5 323.6 369.2 323.8 369C324.1 368.8 323.4 368.9 323.1 368.9C322.9 368.9 322.6 368.8 322.5 368.8M326.5 369.3C326.4 369.3 326.1 369.2 325.8 369.2C325.6 369.2 325.4 369.2 325.2 369.1C324.9 369.1 324.7 369.1 324.5 369.1C324.3 369 324 369 323.8 369C323.6 368.9 323.4 368.9 323.1 368.9C322.9 368.9 322.6 368.8 322.5 368.8M326.5 369.3C326.4 369.3 326.1 369.2 325.8 369.2C325.6 369.2 325.4 369.2 325.2 369.1C324.9 369.1 324.7 369.1 324.5 369.1C324.3 369 324 369 323.8 369C323.6 368.9 323.4 368.9 323.1 368.9C322.9 368.9 322.6 368.8 322.5 368.8M326.5 369.3C326.4 369.3 326.1 369.2 325.8 369.2C325.6 369.2 325.4 369.2 325.2 369.1C324.9 369.1 324.7 369.1 324.5 369.1C324.3 369 324 369 323.8 369C323.6 368.9 323.4 368.9 323.1 368.9C322.9 368.9 322.6 368.8 322.5 368.8M329.4 129.8C329.6 130.3 330.3 131.7 330.8 132.7C331.2 133.6 331.7 134.6 332.2 135.6C332.6 136.5 333.1 137.5 333.5 138.4C334 139.4 334.4 140.3 334.9 141.3C335.3 142.2 335.8 143.2 336.3 144.2C336.7 145.1 337.4 146.5 337.6 147M329.4 129.8C329.6 130.3 330.3 131.7 330.8 132.7C331.2 133.6 331.7 134.6 332.2 135.6C332.6 136.5 333.1 137.5 333.5 138.4C334 139.4 334.4 140.3 334.9 141.3C335.3 142.2 335.8 143.2 336.3 144.2C336.7 145.1 337.4 146.5 337.6 147M319.3 126.1C320.4 126.8 323.6 129 325.7 130.6C327.7 132.1 330.2 134 331.5 135.3C332.8 136.6 333 137.4 333.5 138.4C334.1 139.4 334.4 140.3 334.9 141.3C335.3 142.2 335.8 143.2 336.3 144.2C336.7 145.1 337.4 146.5 337.6 147M297.8 124.5C299 125.1 302.6 127 305 128.3C307.3 129.5 309.6 130.7 311.8 131.9C314.1 133.1 316.3 134.3 318.4 135.5C320.5 136.8 322.6 138.3 324.6 139.5C326.6 140.8 328.6 142 330.5 143.2C332.4 144.4 335 146.2 335.9 146.8M276.5 129C277.8 129.4 281.6 130.4 284.1 131.3C286.6 132.2 289.1 133.3 291.5 134.3C294 135.3 296.3 136.3 298.7 137.3C301 138.3 303.3 139.3 305.6 140.4C307.8 141.4 310 142.7 312.2 143.8C314.3 144.9 317.5 146.6 318.5 147.1M257.2 139C258.5 139.2 262.3 139.7 264.9 140.1C267.4 140.6 269.9 141 272.4 141.6C274.9 142.1 277.4 142.8 279.8 143.4C282.2 144 284.5 144.6 286.9 145.3C289.2 146 291.6 146.8 293.9 147.6C296.2 148.5 299.6 150.1 300.8 150.6M239.8 152.1C241.1 152.1 245 152.2 247.6 152.3C250.1 152.4 252.6 152.5 255.1 152.7C257.6 152.9 260.1 153.3 262.7 153.7C265.2 154 267.7 154.5 270.1 154.9C272.6 155.4 274.9 155.8 277.3 156.3C279.7 156.8 283.1 157.6 284.3 157.8M224 167.1C225.4 167.1 229.4 166.9 232.1 166.8C234.7 166.7 237.3 166.7 239.9 166.7C242.5 166.7 245.1 166.7 247.6 166.8C250.2 166.9 252.7 167 255.2 167.2C257.6 167.3 260 167.5 262.4 167.7C264.8 167.8 268.3 168.2 269.4 168.3M210.5 184.1C211.8 183.9 215.8 183.3 218.4 182.9C221 182.5 223.5 182.1 226 181.8C228.6 181.6 231.3 181.4 233.9 181.3C236.5 181.2 239.1 181.1 241.6 181C244.2 181 246.6 180.9 249.1 180.9C251.6 180.9 255.3 181.1 256.6 181.1M199.3 202.8C200.6 202.5 204.6 201.5 207.2 200.9C209.8 200.3 212.4 199.7 214.9 199.2C217.5 198.6 220 198.2 222.6 197.8C225.2 197.3 227.8 197 230.3 196.7C232.8 196.4 235.3 196.1 237.8 195.8C240.3 195.6 243.9 195.3 245.2 195.2M191.5 223.1C192.7 222.6 196.2 221.1 198.6 220.2C201 219.3 203.3 218.4 205.7 217.6C208.1 216.8 210.5 216 213.1 215.3C215.6 214.7 218.2 214.1 220.8 213.6C223.3 213 225.9 212.5 228.4 212.1C230.9 211.6 234.5 211 235.8 210.8M186.1 244.2C187.2 243.6 190.5 241.7 192.8 240.6C195 239.4 197.5 238.4 199.8 237.3C202.2 236.3 204.5 235.3 206.9 234.3C209.2 233.4 211.6 232.5 213.9 231.7C216.3 230.8 218.6 230 220.9 229.3C223.3 228.5 226.8 227.5 228 227.2M184.6 265.9C185.6 265.2 188.3 263 190.3 261.6C192.2 260.2 194.4 258.9 196.5 257.6C198.6 256.3 200.6 255.1 202.8 253.9C204.9 252.7 207 251.5 209.1 250.4C211.3 249.3 213.5 248.3 215.7 247.3C218 246.4 221.5 245 222.7 244.6M185.9 287.7C186.7 286.9 189.1 284.4 190.8 282.8C192.5 281.2 194.3 279.6 196.2 278.1C198 276.6 199.8 275.2 201.7 273.8C203.5 272.4 205.4 271 207.4 269.7C209.3 268.4 211.2 267.1 213.2 265.9C215.2 264.7 218.3 263 219.4 262.4M190.9 308.8C191.5 308 193.1 305.4 194.3 303.6C195.6 301.9 197.1 300.2 198.5 298.5C200 296.9 201.5 295.2 203.1 293.6C204.7 292.1 206.2 290.5 207.9 289C209.5 287.5 211.1 286.1 212.9 284.7C214.6 283.2 217.5 281.2 218.4 280.5M200.1 328.4C200.4 327.6 201 325.1 201.8 323.4C202.5 321.7 203.6 319.9 204.6 318.1C205.6 316.4 206.7 314.6 207.8 312.9C209 311.2 210.2 309.6 211.4 307.9C212.6 306.3 213.8 304.8 215.2 303.2C216.5 301.6 218.8 299.4 219.5 298.6M214.2 344.9C214.2 344.1 214.1 341.9 214.2 340.4C214.3 338.8 214.6 337.2 215 335.6C215.4 334 216 332.2 216.6 330.6C217.1 328.9 217.8 327.3 218.5 325.7C219.2 324.1 219.9 322.5 220.7 320.9C221.6 319.4 223.2 316.9 223.7 316.1M232.1 356.9C231.8 356.3 230.9 354.7 230.4 353.5C230 352.3 229.5 351.3 229.3 349.9C229.1 348.6 229.1 347.1 229.1 345.6C229.1 344.2 229.3 342.7 229.5 341.2C229.6 339.7 229.8 338.2 230.2 336.8C230.6 335.3 231.4 333 231.6 332.2M251.9 365.8C251.4 365.3 249.9 364 249.1 363.1C248.2 362.2 247.4 361.2 246.7 360.2C246 359.2 245.4 358 244.9 356.9C244.4 355.8 244 354.6 243.6 353.4C243.2 352.3 242.9 351.1 242.8 349.9C242.6 348.6 242.6 346.7 242.6 346M272.7 372.1C272.1 371.8 270.1 370.9 268.9 370.3C267.6 369.7 266.4 369.1 265.4 368.3C264.3 367.6 263.3 366.7 262.4 365.9C261.5 365 260.6 364 259.8 363.1C259 362.2 258.3 361.3 257.6 360.3C257 359.3 256.3 357.8 256 357.3M294.3 374.7C293.5 374.6 291.2 374.2 289.7 373.9C288.2 373.7 286.7 373.4 285.3 373.1C283.9 372.7 282.6 372.3 281.3 371.7C280.1 371.2 278.9 370.5 277.7 369.9C276.6 369.3 275.5 368.7 274.4 368C273.4 367.4 272 366.3 271.5 366M316 373.1C315.1 373.2 312.5 373.3 310.8 373.4C309.1 373.5 307.4 373.6 305.8 373.6C304.2 373.6 302.7 373.6 301.2 373.5C299.7 373.4 298.2 373.1 296.8 372.8C295.4 372.6 294 372.3 292.7 372C291.3 371.7 289.5 371.3 288.8 371.1M326.2 369.3C326.1 369.2 325.8 369.2 325.6 369.2C325.5 369.2 325.9 368.9 325.1 369.1C324.3 369.3 322.3 369.9 320.8 370.3C319.3 370.7 317.6 371.2 316 371.4C314.5 371.7 312.9 371.7 311.4 371.8C309.9 371.9 307.7 371.9 307 372M326.2 369.3C326.1 369.2 325.8 369.2 325.6 369.2C325.5 369.2 325.3 369.1 325.1 369.1C324.9 369.1 324.7 369.1 324.6 369.1C324.4 369 324.2 369 324 369C323.8 369 323.6 368.9 323.5 368.9C323.3 368.9 323 368.9 322.9 368.9M326.2 369.3C326.1 369.2 325.8 369.2 325.6 369.2C325.5 369.2 325.3 369.1 325.1 369.1C324.9 369.1 324.7 369.1 324.6 369.1C324.4 369 324.2 369 324 369C323.8 369 323.6 368.9 323.5 368.9C323.3 368.9 323 368.9 322.9 368.9" fill="none" stroke="#131313" stroke-width="1.7"/>
<path d="M333.2 137.7L327.8 137.4L320.6 135L314.9 136.5L307.4 135.1L301.9 137.7L294.2 137.2L289 140.6L281.4 141.3L277 146.1L269.7 147.7L265.8 153.1L258.5 155.1L255.4 161.3L248.6 164.2L245.8 170.4L239 173.6L236.8 180.1L230.2 183.6L228.9 190.6L222.8 194.9L221.9 201.8L216.1 206.5L215.6 213.5L210.2 218.5L210.9 225.9L206.3 231.4L207.2 238.6L202.7 244.3L204.5 251.5L200.9 257.6L203.1 264.6L200.3 271L203 277.8L200.5 284.4L204 291L202.4 297.6L206.2 304L205.8 310.5L210.2 316.5L210.5 323L216.2 328.1L217.7 334.2L223.6 338.8L226.5 344L232.7 348.1L236.5 352.3L243.3 355.3L247.7 359.2L254.4 361.8L259.6 364.9L266.3 367.3L272.1 369.5L279 370.9L285.1 372.6L292 372.9L298.5 373.5L305.2 373.2L311.8 372.6L318.2 371.1L324.7 369.1" fill="none" stroke="#151515" stroke-width="1.5"/>
<path d="M336 148.6C335.9 149.8 336.5 154.3 335.7 156.3C334.9 158.4 332.5 160.4 331 160.7C329.6 160.9 327.6 158.4 326.9 157.9M318.8 149.5C319 151.2 320.4 157 319.9 159.5C319.4 162.1 317.3 164.4 315.8 164.8C314.4 165.2 311.9 162.4 311.1 161.9M301.5 153.2C302 155 304.3 161.1 304.2 164C304.1 166.8 302.4 169.6 301.1 170.3C299.8 171 297 168.6 296.1 168.2M285.5 160.6C286.3 162.6 289.7 169.1 290.2 172.2C290.6 175.4 289.4 178.5 288.1 179.4C286.9 180.2 283.6 177.8 282.7 177.5M271.1 171.1C272.2 173 276.7 179.5 277.7 182.7C278.7 186 278 189.5 277 190.6C276 191.7 272.3 189.6 271.4 189.4M258.6 183.8C259.9 185.6 265.2 191.6 266.6 194.8C268 198 268 201.7 267.2 203C266.3 204.2 262.3 202.4 261.4 202.3M247.7 197.8C249.3 199.5 255.7 205.3 257.6 208.4C259.4 211.5 259.6 215.1 258.8 216.4C258.1 217.8 253.9 216.3 252.9 216.3M238.6 213.1C240.4 214.7 247.6 219.9 249.8 222.8C252 225.8 252.7 229.4 252 230.8C251.4 232.1 246.9 231.1 245.9 231.1M231 229.2C233.1 230.7 240.8 235.1 243.4 237.9C246 240.6 247.1 244.2 246.7 245.7C246.2 247.1 241.8 246.5 240.8 246.7M225.9 246.3C228.1 247.5 236 251.2 238.8 253.6C241.6 256 242.9 259.5 242.6 260.9C242.3 262.4 237.9 262.3 237 262.6M222.7 263.8C224.9 264.8 233.1 267.6 236 269.7C239 271.9 240.5 275.1 240.4 276.6C240.2 278.2 236 278.5 235.1 278.8M221.7 281.6C223.9 282.3 231.9 284.2 234.9 286C237.9 287.9 239.7 290.9 239.7 292.4C239.8 294 235.8 294.7 235 295.2M222.8 299.3C225 299.8 232.7 300.8 235.8 302.3C238.9 303.8 241 306.6 241.3 308.1C241.5 309.6 238 310.8 237.3 311.3M226.8 316.5C228.9 316.8 236.2 317 239.3 318.2C242.4 319.3 244.9 321.8 245.4 323.2C246 324.7 243.1 326 242.6 326.6M234.4 332.3C236.3 332.4 242.7 332.1 245.7 332.9C248.6 333.8 251.3 336.1 252 337.4C252.8 338.7 250.7 340.1 250.4 340.6M245 345.9C246.6 346 251.8 345.5 254.4 346.2C257.1 346.9 259.8 349 260.8 350.1C261.8 351.2 260.5 352.4 260.5 352.9M257.9 357.2C259.2 357.3 263.2 357 265.7 357.5C268.1 358.1 271.1 359.7 272.3 360.5C273.6 361.4 273 362.3 273.2 362.6M273.1 366C274.1 365.9 277.3 365.5 279.5 365.8C281.7 366 284.9 367 286.4 367.5C287.8 368 287.8 368.7 288.1 368.9M290 371C290.9 370.8 293.2 370.2 295.2 370.1C297.1 370 300.3 370.2 301.8 370.3C303.3 370.4 303.9 370.7 304.3 370.8M307.8 371.6C308.4 371.4 309.9 370.7 311.5 370.3C313.1 369.9 316 369.4 317.5 369.1C319 368.9 320 368.9 320.5 368.8" fill="none" stroke="#161616" stroke-width="1.6"/>
<path d="M333.4 150C333.3 151 333.6 154.7 333 156.3C332.4 158 330.6 159.5 329.9 159.7C329.2 159.9 329 157.9 328.8 157.5M316.4 151.9C316.5 153.2 317.4 157.7 317.1 159.7C316.8 161.6 315.2 163.5 314.5 163.8C313.8 164 313.2 161.8 313 161.4M299.4 156.1C299.7 157.4 301.3 162.1 301.4 164.4C301.4 166.6 300.2 169 299.6 169.5C299.1 170 298.1 167.5 297.8 167.1M284.2 164.5C284.7 165.9 287.2 170.9 287.6 173.3C288 175.6 287 178.1 286.5 178.6C285.9 179.1 284.6 176.8 284.3 176.4M270.5 175.3C271.3 176.8 274.6 181.7 275.4 184.2C276.2 186.6 275.7 189.4 275.3 190C274.9 190.7 273.2 188.3 272.7 188M258.3 188C259.4 189.4 263.3 194.1 264.5 196.5C265.7 198.9 265.7 201.9 265.4 202.5C265 203.2 263 201 262.5 200.7M248.2 202.2C249.4 203.5 254.1 208 255.6 210.3C257 212.6 257.3 215.5 257 216.2C256.7 216.9 254.4 214.8 253.8 214.6M239.6 217.5C241 218.7 246.2 222.7 248 224.9C249.7 227.1 250.3 229.9 250.1 230.7C249.8 231.4 247.2 229.5 246.7 229.3M232.7 233.5C234.2 234.7 239.9 238.1 241.9 240.2C244 242.2 244.9 245 244.8 245.8C244.7 246.5 241.9 245 241.3 244.8M227.8 250.4C229.4 251.3 235.3 254.2 237.5 256C239.6 257.8 240.8 260.5 240.7 261.3C240.7 262 237.8 260.7 237.3 260.6M225.1 267.7C226.8 268.5 232.8 270.7 235.1 272.3C237.3 273.8 238.6 276.4 238.6 277.1C238.6 277.9 235.8 276.9 235.3 276.9M224.3 285.2C226 285.8 232 287.3 234.3 288.7C236.6 290 238 292.4 238.2 293.1C238.3 293.9 235.5 293.2 235 293.2M225.9 302.5C227.5 302.9 233.3 303.9 235.6 304.9C238 306 239.7 308.2 239.9 309C240.1 309.7 237.5 309.3 237 309.4M230.3 319.3C231.9 319.5 237.4 319.9 239.7 320.7C242 321.5 244 323.5 244.4 324.2C244.7 324.8 242.3 324.7 241.9 324.8M238.2 334.6C239.6 334.7 244.4 334.7 246.6 335.3C248.8 335.9 250.9 337.7 251.4 338.3C251.8 338.9 249.7 338.9 249.4 339M248.7 347.8C249.9 347.9 253.9 347.7 255.9 348.3C257.8 348.8 260 350.3 260.5 350.9C261.1 351.4 259.4 351.3 259.2 351.4M261.7 358.7C262.6 358.8 265.8 358.7 267.6 359.1C269.4 359.5 271.8 360.7 272.4 361.1C273.1 361.5 271.7 361.5 271.6 361.6M276.9 366.8C277.7 366.8 280.2 366.6 281.9 366.8C283.5 367 286 367.7 286.7 367.9C287.5 368.2 286.4 368.2 286.3 368.3M293.8 371C294.4 370.9 296.3 370.5 297.8 370.4C299.2 370.3 301.7 370.4 302.4 370.5C303.2 370.5 302.4 370.7 302.4 370.7M311.2 371.1C311.7 370.9 313 370.3 314.1 370C315.3 369.7 317.6 369.2 318.3 369.1C319 368.9 318.5 369.1 318.6 369.2" fill="none" stroke="#c9c9c9" stroke-width="1.7" opacity=".75" stroke-linecap="round"/>
<path d="M288.5 168.9C287 170 282.2 173 279.4 175.4C276.5 177.9 274.1 180.8 271.6 183.5C269 186.2 266.3 188.8 263.9 191.7C261.6 194.6 259.5 197.6 257.4 200.7C255.3 203.8 253.3 207 251.4 210.3C249.6 213.5 247.9 216.8 246.3 220.2C244.6 223.5 242.9 226.9 241.5 230.3C240.1 233.8 239.1 237.4 237.9 241C236.8 244.5 235.7 248.1 234.8 251.7C234 255.4 233.3 259.1 232.7 262.7C232.2 266.4 231.8 270.1 231.5 273.9C231.2 277.6 231 281.3 230.9 285C230.9 288.8 230.9 292.5 231.2 296.2C231.6 299.9 232.3 303.6 233 307.2C233.7 310.8 234.5 314.5 235.7 318C236.8 321.4 239.3 326.4 240 328.1" fill="none" stroke="#8a8a8a" stroke-width="13" opacity=".35" filter="url(#b2)"/>
<path d="M328.6 128.1C321.6 121.4 313 121.9 303.1 122.1C293.1 122.3 268.3 120.3 268.7 129.3C269.1 138.4 295.2 170 305.6 176.3C315.9 182.6 324.2 169.4 330.8 167.1C337.3 164.8 345.4 169 345 162.5C344.6 156 335.6 134.8 328.6 128.1Z" fill="#0e0e0e" filter="url(#b4)" opacity=".75"/>
<path d="M193.7 323.6C194.8 330.2 239.2 362.4 261.3 370C283.5 377.7 316.7 369.6 326.5 369.3C336.3 369 328.3 369.8 320 368.5C311.7 367.2 287.9 367.7 277 361.3C266.1 355 268.5 336.6 254.6 330.3C240.7 324 192.5 317 193.7 323.6Z" fill="#0e0e0e" filter="url(#b4)" opacity=".85"/>
<path d="M321.1 164.9C319.8 165.3 316.1 166.4 313.6 167.2C311.1 167.9 308.5 168.5 306.1 169.5C303.8 170.6 301.7 172.1 299.5 173.6C297.3 175 295.2 176.6 293.1 178.1C291 179.6 288.8 181 286.8 182.7C284.9 184.5 283.3 186.6 281.6 188.5C279.8 190.4 278 192.3 276.3 194.3C274.6 196.3 272.9 198.2 271.4 200.3C269.8 202.4 268.5 204.7 267.1 206.9C265.8 209.1 264.4 211.3 263.1 213.5C261.8 215.8 260.5 218.1 259.3 220.4C258.1 222.7 257.1 225.1 256 227.5C254.9 229.8 253.7 232.2 252.7 234.6C251.7 237 250.9 239.4 250.1 241.9C249.2 244.4 248.6 246.9 247.8 249.4C247.1 251.9 246.3 254.4 245.7 256.9C245.1 259.5 244.6 262 244.1 264.6C243.7 267.1 243.3 269.7 243 272.3C242.7 274.9 242.3 277.5 242.1 280.1C241.9 282.6 241.9 285.3 241.8 287.9C241.7 290.5 241.5 293.1 241.6 295.7C241.7 298.2 242.1 300.8 242.4 303.4C242.7 306 242.9 308.6 243.4 311.1C244 313.7 244.8 316.1 245.5 318.6C246.3 321.1 247 323.6 248 326C248.9 328.4 250 330.7 251.1 333C252.3 335.3 254.2 338.7 254.8 339.8" fill="none" stroke="#9a9a9a" stroke-width="0.8" opacity=".8"/>
<path d="M321.7 166.1C320.5 166.5 316.8 167.6 314.4 168.4C311.9 169.1 309.3 169.7 307 170.7C304.7 171.8 302.6 173.3 300.5 174.7C298.3 176.2 296.2 177.7 294.2 179.2C292.1 180.7 289.9 182.1 288 183.8C286.1 185.6 284.5 187.6 282.8 189.6C281.1 191.5 279.3 193.4 277.6 195.3C276 197.3 274.2 199.2 272.7 201.3C271.2 203.3 270 205.6 268.6 207.8C267.3 210 265.9 212.2 264.6 214.4C263.3 216.6 262.1 218.9 260.9 221.2C259.7 223.5 258.7 225.8 257.6 228.2C256.5 230.5 255.4 232.8 254.4 235.2C253.4 237.6 252.6 240 251.8 242.5C251 244.9 250.3 247.4 249.6 249.9C248.8 252.3 248 254.8 247.4 257.3C246.8 259.8 246.3 262.3 245.9 264.9C245.4 267.4 245.1 269.9 244.7 272.5C244.4 275 244 277.6 243.7 280.1C243.5 282.7 243.5 285.3 243.4 287.9C243.3 290.4 243.1 293 243.2 295.6C243.2 298.1 243.6 300.7 243.9 303.2C244.2 305.8 244.4 308.4 244.9 310.9C245.3 313.4 246.1 315.9 246.8 318.3C247.6 320.8 248.3 323.2 249.2 325.6C250.1 328 251.1 330.4 252.2 332.7C253.3 335 255.1 338.3 255.7 339.5" fill="none" stroke="#7c7c7c" stroke-width="0.7" opacity=".8"/>
<path d="M322.4 167.3C321.2 167.7 317.6 168.8 315.1 169.6C312.7 170.3 310.1 170.8 307.9 171.9C305.6 173 303.5 174.5 301.4 175.9C299.3 177.3 297.3 178.9 295.2 180.4C293.2 181.9 291 183.2 289.1 184.9C287.2 186.6 285.7 188.7 284 190.6C282.3 192.5 280.6 194.4 278.9 196.3C277.3 198.3 275.6 200.2 274.1 202.2C272.6 204.3 271.4 206.6 270.1 208.7C268.8 210.9 267.4 213.1 266.1 215.3C264.9 217.5 263.6 219.7 262.5 222C261.4 224.2 260.4 226.6 259.3 228.9C258.2 231.2 257.1 233.5 256.1 235.8C255.1 238.2 254.3 240.6 253.5 243C252.7 245.4 252 247.9 251.3 250.3C250.6 252.8 249.8 255.2 249.2 257.7C248.5 260.1 248 262.6 247.6 265.1C247.1 267.6 246.8 270.2 246.4 272.7C246 275.2 245.6 277.7 245.4 280.2C245.2 282.8 245.2 285.3 245 287.9C244.9 290.4 244.7 293 244.7 295.5C244.8 298 245.2 300.6 245.4 303.1C245.7 305.6 245.8 308.2 246.3 310.7C246.7 313.2 247.5 315.6 248.2 318C248.8 320.5 249.5 322.9 250.4 325.3C251.2 327.7 252.2 330 253.3 332.3C254.3 334.6 256.1 338 256.7 339.1" fill="none" stroke="#9c9c9c" stroke-width="0.8" opacity=".8"/>
<path d="M323 168.2C321.8 168.6 318.2 169.8 315.8 170.5C313.4 171.3 310.8 171.8 308.6 172.9C306.3 173.9 304.3 175.4 302.2 176.8C300.1 178.3 298.1 179.8 296.1 181.3C294 182.8 291.9 184.1 290 185.8C288.2 187.5 286.7 189.6 285 191.5C283.3 193.4 281.6 195.2 280 197.2C278.4 199.1 276.7 201 275.2 203C273.8 205.1 272.6 207.3 271.3 209.5C270 211.6 268.6 213.8 267.4 216C266.1 218.1 264.9 220.3 263.8 222.6C262.7 224.9 261.7 227.2 260.6 229.5C259.6 231.8 258.4 234 257.5 236.4C256.5 238.7 255.6 241.1 254.9 243.5C254.1 245.8 253.4 248.3 252.7 250.7C252 253.1 251.2 255.5 250.5 258C249.9 260.4 249.4 262.9 249 265.4C248.5 267.8 248.1 270.3 247.8 272.8C247.4 275.3 247 277.8 246.7 280.3C246.5 282.8 246.5 285.4 246.3 287.9C246.2 290.4 245.9 292.9 246 295.4C246 297.9 246.4 300.5 246.6 303C246.9 305.5 247 308 247.4 310.5C247.8 313 248.6 315.4 249.2 317.8C249.9 320.2 250.5 322.7 251.4 325C252.2 327.4 253.1 329.7 254.1 332C255.2 334.3 256.9 337.7 257.4 338.8" fill="none" stroke="#858585" stroke-width="0.7" opacity=".8"/>
<path d="M323.5 169.2C322.3 169.6 318.8 170.7 316.4 171.5C314 172.3 311.5 172.7 309.2 173.8C307 174.9 305 176.4 303 177.8C300.9 179.2 298.9 180.7 296.9 182.2C294.9 183.7 292.7 185 290.9 186.7C289.1 188.4 287.6 190.5 286 192.3C284.3 194.2 282.6 196.1 281 198C279.4 199.9 277.8 201.7 276.3 203.8C274.9 205.8 273.8 208.1 272.5 210.2C271.2 212.4 269.8 214.5 268.6 216.6C267.4 218.8 266.2 221 265.1 223.2C263.9 225.5 263 227.8 261.9 230.1C260.9 232.3 259.8 234.6 258.8 236.9C257.9 239.2 257 241.5 256.2 243.9C255.4 246.3 254.8 248.7 254.1 251.1C253.4 253.5 252.6 255.8 251.9 258.3C251.3 260.7 250.8 263.1 250.3 265.6C249.9 268 249.5 270.5 249.1 273C248.8 275.4 248.3 277.9 248.1 280.4C247.8 282.9 247.8 285.4 247.7 287.9C247.5 290.4 247.2 292.9 247.2 295.4C247.3 297.9 247.6 300.3 247.8 302.8C248.1 305.3 248.1 307.8 248.6 310.3C249 312.8 249.7 315.2 250.3 317.6C250.9 320 251.5 322.4 252.3 324.8C253.1 327.1 254 329.5 255 331.8C256 334 257.7 337.4 258.2 338.5" fill="none" stroke="#b8b8b8" stroke-width="0.9" opacity=".8"/>
</g>
<path d="M245.2 142.2L247.1 144M236.8 149.4L238.8 151.2M228.5 156.8L230.7 158.5M220.6 164.7L222.9 166.4M212.9 172.7L215.4 174.3M206.7 182L209.3 183.4M200.6 191.3L203.3 192.6M195.2 201L198 202.3M190.4 211L193.3 212.1M187.2 221.7L190.1 222.6M184.2 232.4L187.1 233.2M181.8 243.3L184.7 243.9M180.7 254.4L183.6 254.8M180.4 265.5L183.3 265.8M180.9 276.6L183.7 276.8M181.9 287.7L184.6 287.7M184.1 298.6L186.7 298.4M187.2 309.2L189.7 309M191.4 319.6L193.7 319.2M196.8 329.2L199.1 328.7M203.6 338L205.6 337.5M211.5 345.7L213.3 345.2M220.1 352.8L221.7 352.2M230.2 357.7L231.5 357.1M240.2 362.5L241.3 362M250.7 366.4L251.5 366M261.1 370.1L261.8 369.8M272 372.5L272.5 372.2M283 374.5L283.3 374.2M294.1 375.1L294.2 374.8M305.2 374.8L305.2 374.6M316.2 373.4L316.1 373.2" fill="none" stroke="#2a2a2a" stroke-width="2.2"/>
<path d="M405.3 282.6l2.6 -0.6M408.1 275.3l2.6 -0.6M410.8 268l2.6 -0.6M412.6 261.5l2.6 -0.6M414.3 255l2.6 -0.6M415.9 245.5l2.6 -0.6M417.4 236l2.6 -0.6M417.8 229l2.6 -0.6M418.1 222l2.6 -0.6M417.2 214.5l2.6 -0.6M416.3 207l2.6 -0.6M413.9 199.7l2.6 -0.6M411.5 192.3l2.6 -0.6M407.5 184.7l2.6 -0.6M403.5 177l2.6 -0.6M398.7 169.5l2.6 -0.6M393.8 162l2.6 -0.6M386.3 154.5l2.6 -0.6" fill="none" stroke="#fff" stroke-width="1.1" opacity=".9"/>
<path d="M323.8 189.7C330.7 186.9 338.1 183.9 345 184C351.9 184.1 359.1 186.8 365 190C370.9 193.2 376.4 197 380.6 203.5C384.8 210 388.8 220.3 390.3 229.2C391.8 238.1 391 248.1 389.4 257C387.8 265.9 384.1 275.5 380.8 282.6C377.5 289.7 374.2 293.1 369.4 299.7C364.6 306.3 358.5 315.5 352 322C345.5 328.5 336.8 335.4 330.6 338.5C324.4 341.6 320 340.7 314.6 340.5C309.2 340.3 303.9 339.5 298.5 337.5C293.1 335.5 287.1 332.2 282.4 328.4C277.7 324.5 273.4 319.8 270.4 314.4C267.4 309 265.6 302.7 264.4 296.3C263.2 289.9 263.1 282.9 263.4 276.2C263.7 269.5 264.6 262.8 266.4 256.1C268.2 249.4 271 242 274.4 236C277.8 230 281.6 225.8 286.5 220C291.4 214.2 297.7 206.1 303.9 201C310.1 195.9 316.9 192.5 323.8 189.7Z" fill="url(#gRim)" stroke="#e4e7e9" stroke-width="2.2"/>
<g clip-path="url(#cRim)">
<path d="M323.8 189.7C330.7 186.9 338.1 183.9 345 184C351.9 184.1 359.1 186.8 365 190C370.9 193.2 376.4 197 380.6 203.5C384.8 210 388.8 220.3 390.3 229.2C391.8 238.1 391 248.1 389.4 257C387.8 265.9 384.1 275.5 380.8 282.6C377.5 289.7 374.2 293.1 369.4 299.7C364.6 306.3 358.5 315.5 352 322C345.5 328.5 336.8 335.4 330.6 338.5C324.4 341.6 320 340.7 314.6 340.5C309.2 340.3 303.9 339.5 298.5 337.5C293.1 335.5 287.1 332.2 282.4 328.4C277.7 324.5 273.4 319.8 270.4 314.4C267.4 309 265.6 302.7 264.4 296.3C263.2 289.9 263.1 282.9 263.4 276.2C263.7 269.5 264.6 262.8 266.4 256.1C268.2 249.4 271 242 274.4 236C277.8 230 281.6 225.8 286.5 220C291.4 214.2 297.7 206.1 303.9 201C310.1 195.9 316.9 192.5 323.8 189.7Z" fill="none" stroke="#5d6164" stroke-width="1" transform="translate(327 263) scale(.94) translate(-327 -263)"/>
<path d="M323.8 189.7C330.7 186.9 338.1 183.9 345 184C351.9 184.1 359.1 186.8 365 190C370.9 193.2 376.4 197 380.6 203.5C384.8 210 388.8 220.3 390.3 229.2C391.8 238.1 391 248.1 389.4 257C387.8 265.9 384.1 275.5 380.8 282.6C377.5 289.7 374.2 293.1 369.4 299.7C364.6 306.3 358.5 315.5 352 322C345.5 328.5 336.8 335.4 330.6 338.5C324.4 341.6 320 340.7 314.6 340.5C309.2 340.3 303.9 339.5 298.5 337.5C293.1 335.5 287.1 332.2 282.4 328.4C277.7 324.5 273.4 319.8 270.4 314.4C267.4 309 265.6 302.7 264.4 296.3C263.2 289.9 263.1 282.9 263.4 276.2C263.7 269.5 264.6 262.8 266.4 256.1C268.2 249.4 271 242 274.4 236C277.8 230 281.6 225.8 286.5 220C291.4 214.2 297.7 206.1 303.9 201C310.1 195.9 316.9 192.5 323.8 189.7Z" fill="none" stroke="#eef0f1" stroke-width="1.2" transform="translate(327 263) scale(.90) translate(-327 -263)"/>
<path d="M268 298C270.7 295.7 280.5 299 288 300C295.5 301 304.7 302.2 313 304C321.3 305.8 329.8 309.7 338 311C346.2 312.3 359.7 309.5 362 312C364.3 314.5 357 321.9 352 326C347 330.1 338.3 334.4 332 336.5C325.7 338.6 319.7 338.7 314 338.5C308.3 338.3 303.3 337.4 298 335.5C292.7 333.6 286.3 330.6 282 327C277.7 323.4 274.3 318.8 272 314C269.7 309.2 265.3 300.3 268 298Z" fill="url(#gBarrel)"/>
<path d="M270 262C271 255.3 274.7 250 277 250C279.3 250 282.5 256.2 284 262C285.5 267.8 284.7 278.7 286 285C287.3 291.3 293 297 292 300C291 303 283.5 304.7 280 303C276.5 301.3 272.7 296.8 271 290C269.3 283.2 269 268.7 270 262Z" fill="#6b6f72" opacity=".8"/>
</g>
</g>
<g id="rwheel">
<path d="M808.4 396C811.7 396.3 812.6 397.6 814.5 400C816.4 402.4 821 409.6 823 414C825 418.4 828.3 427.2 829.2 432.8C830.1 438.4 830.4 449.7 829.6 456C828.8 462.3 825.1 473.3 823 480C820.9 486.7 817.1 499.1 814 506C810.9 512.9 804.2 525.3 800 532C795.8 538.7 787.6 550.5 782.5 556C777.4 561.5 766.9 569.4 762 573C757.1 576.6 750.3 581 746 583C741.7 585 733.5 588.9 729.7 588C725.9 587.1 719.7 579.4 717.3 576.5C714.9 573.6 714.3 568.7 712 566C709.7 563.3 698.7 559.5 700 556C701.3 552.5 716.7 546.1 722 540C727.3 533.9 736 519.3 740 510C744 500.7 749.1 480.7 752 470C754.9 459.3 758.8 438.8 762 430C765.2 421.2 772.3 408.3 776 404C779.7 399.7 785.7 399.1 790 398C794.3 396.9 805.1 395.7 808.4 396Z" fill="url(#gRimR)"/>
<path d="M742 378C744.1 377.5 754.9 385.3 760 388C765.1 390.7 774.7 395.6 780 398C785.3 400.4 795.7 405.5 800 406C804.3 406.5 811.2 400.9 812 402C812.8 403.1 808.7 411.1 806 414C803.3 416.9 795.7 423.2 792 424C788.3 424.8 782 421.6 778 420C774 418.4 765.7 414.4 762 412C758.3 409.6 752.4 404.7 750 402C747.6 399.3 745.1 395.2 744 392C742.9 388.8 739.9 378.5 742 378Z" fill="#4f5356"/>
<path d="M750 392C752.3 393.7 759 399 764 402C769 405 775 408 780 410C785 412 791.7 413.3 794 414" fill="none" stroke="#777c80" stroke-width="5" filter="url(#b2)"/>
<path d="M808.4 396C811.7 396.3 812.6 397.6 814.5 400C816.4 402.4 821 409.6 823 414C825 418.4 828.3 427.2 829.2 432.8C830.1 438.4 830.4 449.7 829.6 456C828.8 462.3 825.1 473.3 823 480C820.9 486.7 817.1 499.1 814 506C810.9 512.9 804.2 525.3 800 532C795.8 538.7 787.6 550.5 782.5 556C777.4 561.5 766.9 569.4 762 573C757.1 576.6 750.3 581 746 583C741.7 585 733.5 588.9 729.7 588C725.9 587.1 719.7 579.4 717.3 576.5C714.9 573.6 714.3 568.7 712 566C709.7 563.3 698.7 559.5 700 556C701.3 552.5 716.7 546.1 722 540C727.3 533.9 736 519.3 740 510C744 500.7 749.1 480.7 752 470C754.9 459.3 758.8 438.8 762 430C765.2 421.2 772.3 408.3 776 404C779.7 399.7 785.7 399.1 790 398C794.3 396.9 805.1 395.7 808.4 396Z" fill="#8d9498" opacity=".75"/>
<path d="M781 472L818 434" fill="none" stroke="#6d7478" stroke-width="8.2" stroke-linecap="butt"/>
<path d="M781 472L818 434" fill="none" stroke="#cfd4d7" stroke-width="6.2" stroke-linecap="butt"/>
<path d="M781 472L818 434" fill="none" stroke="#eef0f2" stroke-width="1.8" transform="translate(-1.2 -1.2)"/>
<path d="M787 482L826 470" fill="none" stroke="#6d7478" stroke-width="8.2" stroke-linecap="butt"/>
<path d="M787 482L826 470" fill="none" stroke="#cfd4d7" stroke-width="6.2" stroke-linecap="butt"/>
<path d="M787 482L826 470" fill="none" stroke="#eef0f2" stroke-width="1.8" transform="translate(-1.2 -1.2)"/>
<path d="M783 498L814 516" fill="none" stroke="#6d7478" stroke-width="8.2" stroke-linecap="butt"/>
<path d="M783 498L814 516" fill="none" stroke="#cfd4d7" stroke-width="6.2" stroke-linecap="butt"/>
<path d="M783 498L814 516" fill="none" stroke="#eef0f2" stroke-width="1.8" transform="translate(-1.2 -1.2)"/>
<path d="M772 510L790 548" fill="none" stroke="#6d7478" stroke-width="8.2" stroke-linecap="butt"/>
<path d="M772 510L790 548" fill="none" stroke="#cfd4d7" stroke-width="6.2" stroke-linecap="butt"/>
<path d="M772 510L790 548" fill="none" stroke="#eef0f2" stroke-width="1.8" transform="translate(-1.2 -1.2)"/>
<path d="M758 514L750 580" fill="none" stroke="#6d7478" stroke-width="8.2" stroke-linecap="butt"/>
<path d="M758 514L750 580" fill="none" stroke="#cfd4d7" stroke-width="6.2" stroke-linecap="butt"/>
<path d="M758 514L750 580" fill="none" stroke="#eef0f2" stroke-width="1.8" transform="translate(-1.2 -1.2)"/>
<path d="M778 460L804 404" fill="none" stroke="#6d7478" stroke-width="8.2" stroke-linecap="butt"/>
<path d="M778 460L804 404" fill="none" stroke="#cfd4d7" stroke-width="6.2" stroke-linecap="butt"/>
<path d="M778 460L804 404" fill="none" stroke="#eef0f2" stroke-width="1.8" transform="translate(-1.2 -1.2)"/>
<path d="M806 448C807.1 445.1 817.6 442.4 820 444C822.4 445.6 825.1 457.1 824 460C822.9 462.9 814.4 467.6 812 466C809.6 464.4 804.9 450.9 806 448Z" fill="#bfc5c8" opacity=".85"/>
<path d="M812 486C814.1 483.3 821.5 483.6 822 486C822.5 488.4 818.1 501.3 816 504C813.9 506.7 806.5 508.4 806 506C805.5 503.6 809.9 488.7 812 486Z" fill="#bfc5c8" opacity=".85"/>
<path d="M796 528C798.7 524.8 806 521.9 806 524C806 526.1 798.7 540.8 796 544C793.3 547.2 786 550.1 786 548C786 545.9 793.3 531.2 796 528Z" fill="#bfc5c8" opacity=".85"/>
<path d="M766 556C768.9 553.3 779.5 550.7 780 552C780.5 553.3 772.9 563.3 770 566C767.1 568.7 758.5 573.3 758 572C757.5 570.7 763.1 558.7 766 556Z" fill="#bfc5c8" opacity=".85"/>
<path d="M717.3 576.5C719.4 578.4 724.9 586.9 729.7 588C734.5 589.1 740.6 585.5 746 583C751.4 580.5 755.9 577.5 762 573C768.1 568.5 776.2 562.8 782.5 556C788.8 549.2 794.8 540.3 800 532C805.2 523.7 810.2 514.7 814 506C817.8 497.3 820.4 488.3 823 480C825.6 471.7 828.6 463.9 829.6 456C830.6 448.1 830.3 439.8 829.2 432.8C828.1 425.8 825.5 419.5 823 414C820.5 408.5 816.9 403 814.5 400C812.1 397 809.4 396.7 808.4 396" fill="none" stroke="#c3c9cc" stroke-width="7" transform="translate(-3.4 -1.6)"/>
<path d="M717.3 576.5C719.4 578.4 724.9 586.9 729.7 588C734.5 589.1 740.6 585.5 746 583C751.4 580.5 755.9 577.5 762 573C768.1 568.5 776.2 562.8 782.5 556C788.8 549.2 794.8 540.3 800 532C805.2 523.7 810.2 514.7 814 506C817.8 497.3 820.4 488.3 823 480C825.6 471.7 828.6 463.9 829.6 456C830.6 448.1 830.3 439.8 829.2 432.8C828.1 425.8 825.5 419.5 823 414C820.5 408.5 816.9 403 814.5 400C812.1 397 809.4 396.7 808.4 396" fill="none" stroke="#eceeef" stroke-width="2.2" transform="translate(-1.4 -0.7)"/>
<path d="M717.3 576.5C719.4 578.4 724.9 586.9 729.7 588C734.5 589.1 740.6 585.5 746 583C751.4 580.5 755.9 577.5 762 573C768.1 568.5 776.2 562.8 782.5 556C788.8 549.2 794.8 540.3 800 532C805.2 523.7 810.2 514.7 814 506C817.8 497.3 820.4 488.3 823 480C825.6 471.7 828.6 463.9 829.6 456C830.6 448.1 830.3 439.8 829.2 432.8C828.1 425.8 825.5 419.5 823 414C820.5 408.5 816.9 403 814.5 400C812.1 397 809.4 396.7 808.4 396" fill="none" stroke="#6f767a" stroke-width="0.9" transform="translate(-6.8 -3.2)"/>
<path d="M809 396C808 398.3 805.3 404.3 803 410C800.7 415.7 797.7 423 795 430C792.3 437 789.5 445.7 787 452C784.5 458.3 782.3 463.7 780 468C777.7 472.3 774.2 476.3 773 478" fill="none" stroke="#5f666a" stroke-width="7.6"/>
<path d="M809 396C808 398.3 805.3 404.3 803 410C800.7 415.7 797.7 423 795 430C792.3 437 789.5 445.7 787 452C784.5 458.3 782.3 463.7 780 468C777.7 472.3 774.2 476.3 773 478" fill="none" stroke="#dfe3e5" stroke-width="6"/>
<path d="M760 512C759.3 515 757.3 524 756 530C754.7 536 753.3 542 752 548C750.7 554 749.7 560.7 748 566C746.3 571.3 743 577.7 742 580" fill="none" stroke="#5f666a" stroke-width="7.6"/>
<path d="M760 512C759.3 515 757.3 524 756 530C754.7 536 753.3 542 752 548C750.7 554 749.7 560.7 748 566C746.3 571.3 743 577.7 742 580" fill="none" stroke="#dfe3e5" stroke-width="6"/>
<path d="M830.5 352.2C833.2 354.5 842.6 360.8 846.6 366.2C850.6 371.6 852.8 378.3 854.6 384.3C856.5 390.3 857.3 395.6 857.7 402.4C858.1 409.2 857.5 416.7 856.9 425C856.3 433.3 855.2 442.8 854 452C852.8 461.2 851.5 471.3 849.6 480.3C847.7 489.3 846 496.7 842.5 506C839 515.3 834 526 828.5 536C823 546 816.2 557 809.6 566C803 575 795.7 583 788.7 590C781.7 597 774.6 603.1 767.5 608.3C760.4 613.5 753 617.8 746 621.3C739 624.8 732.2 627.3 725.2 629C718.2 630.7 709.9 631.7 704.3 631.4C698.6 631.1 693.5 628 691.3 627.3L717.3 576.5C719.4 578.4 724.9 586.9 729.7 588C734.5 589.1 740.6 585.5 746 583C751.4 580.5 755.9 577.5 762 573C768.1 568.5 776.2 562.8 782.5 556C788.8 549.2 794.8 540.3 800 532C805.2 523.7 810.2 514.7 814 506C817.8 497.3 820.4 488.3 823 480C825.6 471.7 828.6 463.9 829.6 456C830.6 448.1 830.3 439.8 829.2 432.8C828.1 425.8 825.5 419.5 823 414C820.5 408.5 816.9 403 814.5 400C812.1 397 809.4 396.7 808.4 396Z" fill="url(#gRT)"/>
<g clip-path="url(#cRT)">
<path d="M830.5 352.2C833.2 354.5 842.6 360.8 846.6 366.2C850.6 371.6 852.8 378.3 854.6 384.3C856.5 390.3 857.3 395.6 857.7 402.4C858.1 409.2 857.5 416.7 856.9 425C856.3 433.3 855.2 442.8 854 452C852.8 461.2 851.5 471.3 849.6 480.3C847.7 489.3 846 496.7 842.5 506C839 515.3 834 526 828.5 536C823 546 816.2 557 809.6 566C803 575 795.7 583 788.7 590C781.7 597 774.6 603.1 767.5 608.3C760.4 613.5 753 617.8 746 621.3C739 624.8 732.2 627.3 725.2 629C718.2 630.7 709.9 631.7 704.3 631.4C698.6 631.1 693.5 628 691.3 627.3" fill="none" stroke="#111" stroke-width="7" filter="url(#b2)"/>
<path d="M717.3 576.5C719.4 578.4 724.9 586.9 729.7 588C734.5 589.1 740.6 585.5 746 583C751.4 580.5 755.9 577.5 762 573C768.1 568.5 776.2 562.8 782.5 556C788.8 549.2 794.8 540.3 800 532C805.2 523.7 810.2 514.7 814 506C817.8 497.3 820.4 488.3 823 480C825.6 471.7 828.6 463.9 829.6 456C830.6 448.1 830.3 439.8 829.2 432.8C828.1 425.8 825.5 419.5 823 414C820.5 408.5 816.9 403 814.5 400C812.1 397 809.4 396.7 808.4 396" fill="none" stroke="#0e0e0e" stroke-width="5" filter="url(#b2)" opacity=".9"/>
<path d="M826 350L860 372L864 430L858 470L850 470L846 430L836 396L818 372Z" fill="#2c2c2c" filter="url(#b4)" opacity=".8"/>
</g>
<path d="M839.5 360.5l1.8 .5M844.3 364.7l1.8 .5M847.7 369.9l1.8 .5M850.2 375.7l1.8 .5M852.8 381.6l1.8 .5M854.6 387.6l1.8 .5M855.6 393.9l1.8 .5M856.7 400.1l1.8 .5M857 406.5l1.8 .5M856.7 412.8l1.8 .5M856.5 419.2l1.8 .5M856.2 425.5l1.8 .5M855.6 431.8l1.8 .5M854.9 438.1l1.8 .5M854.2 444.5l1.8 .5M853.5 450.8l1.8 .5M852.6 457.1l1.8 .5M851.6 463.3l1.8 .5M850.7 469.6l1.8 .5M849.7 475.9l1.8 .5M848.5 482.1l1.8 .5M846.8 488.3l1.8 .5M845.1 494.4l1.8 .5M843.4 500.5l1.8 .5M841.6 506.6l1.8 .5M838.9 512.4l1.8 .5M836.2 518.1l1.8 .5M833.6 523.9l1.8 .5M830.9 529.6l1.8 .5M828.2 535.4l1.8 .5M824.9 540.8l1.8 .5M821.5 546.2l1.8 .5M818.1 551.6l1.8 .5M814.7 556.9l1.8 .5M811.3 562.3l1.8 .5M807.7 567.5l1.8 .5M803.5 572.3l1.8 .5M799.3 577.1l1.8 .5M795.2 581.9l1.8 .5M791 586.7l1.8 .5M786.6 591.3l1.8 .5M781.8 595.4l1.8 .5M777 599.6l1.8 .5M772.2 603.7l1.8 .5M767.4 607.9l1.8 .5M762 611.3l1.8 .5M756.6 614.5l1.8 .5M751.1 617.8l1.8 .5M745.7 621.1l1.8 .5M739.8 623.4l1.8 .5M733.8 625.6l1.8 .5M727.8 627.8l1.8 .5M721.7 629.3l1.8 .5M715.4 630.1l1.8 .5M709.1 630.8l1.8 .5M702.8 631.1l1.8 .5" fill="none" stroke="#fff" stroke-width="0.9" opacity=".8"/>
<path d="M733.6 369C732.9 365.9 730.8 355.3 731.6 350.2C732.4 345.1 736.9 334.3 739.6 330.5C742.3 326.7 745.4 321.3 752.2 321.5C759 321.7 780 327.9 790.4 332C800.8 336.1 824.8 348.2 830.5 352.2C836.2 356.2 832.9 358.3 833 362C833.1 365.7 832.2 375.7 831 380C829.8 384.3 826.5 391.1 824 394C821.5 396.9 815.1 400.5 812 402C808.9 403.5 803.8 404.9 801 405.5C798.2 406.1 795.1 407.5 791 406.5C786.9 405.5 775.5 400.9 770 398C764.5 395.1 754.4 388.3 750 385C745.6 381.7 739.2 375.6 737 373.5C734.8 371.4 734.3 372.1 733.6 369Z" fill="#fbfbfb" stroke="#222" stroke-width="0.9"/>
<path d="M736.5 348C737 343.6 738.7 339.5 741 337C743.3 334.5 747 331.6 752 331.5C757 331.4 766.7 333.9 774.3 336.5C781.9 339.1 795.7 345.2 802.4 348.5C809.1 351.8 815.5 355.1 819 358.5C822.5 361.9 825.1 367 825.5 371C825.9 375 823.8 381.4 821.5 385C819.2 388.6 813.7 392.5 810 395C806.3 397.5 801.5 401.1 797 401.5C792.5 401.9 785.2 399.9 780 398C774.8 396.1 767.1 391.6 762 388.5C756.9 385.4 749.7 380.9 746 377.5C742.3 374.1 738.9 370.4 737.5 366C736.1 361.6 736 352.4 736.5 348Z" fill="url(#gCav)" stroke="#111" stroke-width="0.8"/>
<path d="M752 345C750.3 347 759 353.8 762 360C765 366.2 765.3 376 770 382C774.7 388 785 394.3 790 396C795 397.7 801 396 800 392C799 388 788.7 379.3 784 372C779.3 364.7 777.3 352.5 772 348C766.7 343.5 753.7 343 752 345Z" fill="#5c5c5c" filter="url(#b2)" opacity=".55"/>
<path d="M733.6 369l3.5-2.5 2 3.5 4 2.5" fill="none" stroke="#222" stroke-width="0.9"/>
<path d="M808 401l-3-4 4-3.5" fill="none" stroke="#222" stroke-width="0.9"/>
<path d="M652 534C650.9 530.9 662.9 523.9 668 522C673.1 520.1 684.1 518.9 690 520C695.9 521.1 706.7 526.3 712 530C717.3 533.7 726.8 542.7 730 548C733.2 553.3 736.8 565.5 736 570C735.2 574.5 726.7 582.3 724 582C721.3 581.7 719.2 571.5 716 568C712.8 564.5 705.3 559.1 700 556C694.7 552.9 682.4 547.9 676 545C669.6 542.1 653.1 537.1 652 534Z" fill="#2a2a2a"/>
<path d="M648.2 536.1C643.5 536.9 633.8 544.4 630 548.4C626.2 552.4 621.3 561.5 619.5 566C617.7 570.5 614 577.5 616.6 582C619.2 586.5 632.6 595.5 639.1 600C645.6 604.5 658.2 612 665.2 615.6C672.2 619.2 686.1 627.6 691.3 627.3C696.5 627 701.2 617.3 704.3 613C707.4 608.7 712.9 599.4 714.7 594.7C716.5 590 718.1 581.8 717.8 578C717.5 574.2 715.6 569 712.1 566C708.6 563 697.6 558.7 691.3 555.6C685 552.5 670.9 545.2 665.2 542.6C659.5 540 652.9 535.3 648.2 536.1Z" fill="#fbfbfb" stroke="#222" stroke-width="0.9"/>
<path d="M650.5 541.5C645.2 542.7 635.2 550 631 554.6C626.8 559.2 623.6 568 622.8 572C622 576 622.7 578 625.5 581C628.3 584 635.4 588.3 641.7 592C648 595.7 660.6 602.2 667.8 605.5C675 608.8 684.7 614.1 690 614C695.3 613.9 700.1 608.7 703.3 605C706.4 601.3 709.9 594.1 711 589.5C712.1 584.9 711.9 577.7 710.5 574C709.1 570.3 705.5 567.5 702 565C698.5 562.5 692.4 559.9 687 557.2C681.6 554.5 671.5 549.2 666 546.8C660.5 544.4 655.8 540.3 650.5 541.5Z" fill="url(#gCav2)" stroke="#111" stroke-width="0.8"/>
<path d="M640 560C643.3 557.7 651.7 562.7 660 566C668.3 569.3 682.7 576 690 580C697.3 584 703 586.7 704 590C705 593.3 702 599.7 696 600C690 600.3 677.3 595.3 668 592C658.7 588.7 644.7 585.3 640 580C635.3 574.7 636.7 562.3 640 560Z" fill="#3a3a3a" filter="url(#b2)" opacity=".5"/>
</g>
<g id="mid">
<path d="M353 300C356.1 299.9 372.9 305.7 378 307C383.1 308.3 392.1 310.9 397 311.5C401.9 312.1 414.3 312.2 420 312C425.7 311.8 440.3 310.4 446 309.5C451.7 308.6 464.4 305.9 469 304.5C473.6 303.1 482.4 296.7 485 297.5C487.6 298.3 491.9 308.6 491 311C490.1 313.4 480.9 316.3 477 318C473.1 319.7 462.3 324.2 458 325.5C453.7 326.8 444 328.6 440 329C436 329.4 427 329.4 424 329C421 328.6 416.4 325.8 414 326C411.6 326.2 405 331 403 331C401 331 399.9 327.5 397 326C394.1 324.5 383.4 320.6 378 318.5C372.6 316.4 353.9 310.2 351 308C348.1 305.8 349.9 300.1 353 300Z" fill="#a7b0b7" stroke="#656e75" stroke-width="0.8"/>
<path d="M356 302.5C359.7 303.7 371.2 307.6 378 309.5C384.8 311.4 390 313.2 397 314C404 314.8 411.8 314.8 420 314.5C428.2 314.2 438 313.2 446 312C454 310.8 464.3 308.2 468 307.5" fill="none" stroke="#e6eaed" stroke-width="2.2"/>
<path d="M380 317C383 318.1 394 321.7 398 323.5C402 325.3 401.3 328 404 328C406.7 328 410.3 323.8 414 323.5C417.7 323.2 421.3 326 426 326.5C430.7 327 436.7 327.1 442 326.5C447.3 325.9 452.3 324.8 458 323C463.7 321.2 473 317.2 476 316" fill="none" stroke="#737c83" stroke-width="2.4" opacity=".85"/>
<path d="M404 322.5L423 325.5L423 328L405 326Z" fill="#f4f5f6"/>
<path d="M477 293C477.8 289.9 484.3 286.1 487 285C489.7 283.9 494.2 283.9 497 285C499.8 286.1 505.7 290.2 508 293C510.3 295.8 513.5 302.7 514 306C514.5 309.3 513.9 316.3 512 318C510.1 319.7 502.9 319.3 500 319C497.1 318.7 492.5 317.5 490 316C487.5 314.5 482.7 311.1 481 308C479.3 304.9 476.2 296.1 477 293Z" fill="#9aa3aa" stroke="#5a6268" stroke-width="0.8"/>
<path d="M484 290C485.3 289.5 489 286.3 492 287C495 287.7 499.3 290.8 502 294C504.7 297.2 507 304 508 306" fill="none" stroke="#dfe3e6" stroke-width="2"/>
<ellipse cx="488.5" cy="305" rx="4.6" ry="10" fill="#33383d" transform="rotate(22 488.5 305)"/>
<ellipse cx="485.5" cy="303.8" rx="4.2" ry="9.4" fill="#7d868d" transform="rotate(22 485.5 303.8)"/>
<path d="M518.6 298v11" fill="none" stroke="#b7a45a" stroke-width="2.4"/>
<path d="M518 298v9" fill="none" stroke="#eee4b0" stroke-width="0.8"/>
<ellipse cx="518.6" cy="311" rx="5.2" ry="3.6" fill="#a7afb5" stroke="#6a7278" stroke-width="0.6"/>
<path d="M507 309l8 2" fill="none" stroke="#a7afb5" stroke-width="3"/>
<path d="M354 280.5C360 283.8 377.7 293.8 390 300.5C402.3 307.2 421.7 317.6 428 321" fill="none" stroke="#666c71" stroke-width="7.4" stroke-linecap="butt" stroke-linejoin="round"/>
<path d="M354 280.5C360 283.8 377.7 293.8 390 300.5C402.3 307.2 421.7 317.6 428 321" fill="none" stroke="#a5abb0" stroke-width="5.3" stroke-linecap="butt" stroke-linejoin="round" transform="translate(-0.7 -0.7)"/>
<path d="M354 280.5C360 283.8 377.7 293.8 390 300.5C402.3 307.2 421.7 317.6 428 321" fill="none" stroke="#e1e4e6" stroke-width="2.2" stroke-linecap="butt" stroke-linejoin="round" transform="translate(-1.3 -1.3)"/>
<path d="M430.2 315.1L433.8 313.5L436.6 313.6L439.8 312.8L441.4 315L444.2 314.8L445.7 317L448.6 316.9L450.1 319.1L453 318.9L454.3 321.5L456.8 322L457.9 324.9L446.1 345.1L443.1 345.6L441.4 343.7L438.5 343.8L437.3 341.2L434.6 341L433.3 338.5L430.6 338.3L429.3 335.7L426.7 335.5L425.7 332.3L424.3 329.9L423.8 325.9Z" fill="#353535" stroke="#0c0c0c" stroke-width="0.6" stroke-linejoin="round"/>
<path d="M428.4 318.1L431 318.4L433.6 318.8L435.9 319.6L438 320.7L440.1 321.9L442.3 323L444.4 324.1L446.5 325.3L448.6 326.4L450.7 327.7L452.7 329.1L454.6 330.5" fill="none" stroke="#7a7a7a" stroke-width="6" opacity=".8" stroke-linecap="round"/>
<path d="M436.7 313.4Q432.6 323.7 425.6 332.5M441.5 314.7Q436.7 326.1 429.2 335.9M445.8 316.8Q440.9 328.6 433.2 338.7M450.2 318.9Q445.1 331 437.1 341.4M454.4 321.2Q449.2 333.4 441.3 343.9" fill="none" stroke="#121212" stroke-width="1.1"/>
<path d="M450 333.5L474 346.5" fill="none" stroke="#5f666c" stroke-width="26" stroke-linecap="butt" stroke-linejoin="round"/>
<path d="M450 333.5L474 346.5" fill="none" stroke="#a3abb2" stroke-width="18.7" stroke-linecap="butt" stroke-linejoin="round" transform="translate(-2.3 -2.3)"/>
<path d="M450 333.5L474 346.5" fill="none" stroke="#e0e4e7" stroke-width="7.8" stroke-linecap="butt" stroke-linejoin="round" transform="translate(-4.7 -4.7)"/>
<path d="M466 330L500 347L498 374L460 354Z" fill="#8c8465" stroke="#4a4632" stroke-width="0.7"/>
<path d="M468 334L498 350L497 356L466 340Z" fill="#c8bf9a"/>
<path d="M468 340l-2.5 13" fill="none" stroke="#3f3c2b" stroke-width="1.6"/>
<path d="M474.2 343.1l-2.5 13" fill="none" stroke="#3f3c2b" stroke-width="1.6"/>
<path d="M480.4 346.2l-2.5 13" fill="none" stroke="#3f3c2b" stroke-width="1.6"/>
<path d="M486.6 349.3l-2.5 13" fill="none" stroke="#3f3c2b" stroke-width="1.6"/>
<path d="M492.8 352.4l-2.5 13" fill="none" stroke="#3f3c2b" stroke-width="1.6"/>
<path d="M496 348C499.5 345.5 514.1 347.5 520 347C525.9 346.5 534.7 344 540 344C545.3 344 554.7 347 560 347C565.3 347 574.7 345.1 580 344C585.3 342.9 595.5 340.5 600 339C604.5 337.5 610.7 333.4 614 333C617.3 332.6 622.6 334 625 336C627.4 338 631.2 344.5 632 348C632.8 351.5 632.3 358.3 631 362C629.7 365.7 625.3 372 622 376C618.7 380 611.1 390.4 606 392C600.9 393.6 589.3 388 584 388C578.7 388 570.3 389.7 566 392C561.7 394.3 556.8 404.1 552 405C547.2 405.9 536.1 401.8 530 399C523.9 396.2 510.8 388.4 506 384C501.2 379.6 495.3 370.8 494 366C492.7 361.2 492.5 350.5 496 348Z" fill="url(#gGear)" stroke="#35321f" stroke-width="0.8"/>
<path d="M505 352L540 349" fill="none" stroke="#d2caa6" stroke-width="2.2" stroke-linecap="round" opacity=".85"/>
<path d="M512 360L560 356" fill="none" stroke="#d2caa6" stroke-width="2.2" stroke-linecap="round" opacity=".85"/>
<path d="M545 348L592 341" fill="none" stroke="#d2caa6" stroke-width="2.2" stroke-linecap="round" opacity=".85"/>
<path d="M560 364L600 352" fill="none" stroke="#d2caa6" stroke-width="2.2" stroke-linecap="round" opacity=".85"/>
<path d="M575 380L610 362" fill="none" stroke="#d2caa6" stroke-width="2.2" stroke-linecap="round" opacity=".85"/>
<path d="M520 372L556 384" fill="none" stroke="#2f2c1d" stroke-width="2.4" stroke-linecap="round" opacity=".8"/>
<path d="M560 372L590 388" fill="none" stroke="#2f2c1d" stroke-width="2.4" stroke-linecap="round" opacity=".8"/>
<path d="M596 350L616 372" fill="none" stroke="#2f2c1d" stroke-width="2.4" stroke-linecap="round" opacity=".8"/>
<path d="M580 345L604 378" fill="none" stroke="#2f2c1d" stroke-width="2.4" stroke-linecap="round" opacity=".8"/>
<path d="M610 340L624 362" fill="none" stroke="#2f2c1d" stroke-width="2.4" stroke-linecap="round" opacity=".8"/>
<path d="M585 352L607 346" fill="none" stroke="#cfc7a2" stroke-width="1.8" stroke-linecap="round" opacity=".85"/>
<path d="M590 362L614 354" fill="none" stroke="#cfc7a2" stroke-width="1.8" stroke-linecap="round" opacity=".85"/>
<path d="M594 372L616 366" fill="none" stroke="#cfc7a2" stroke-width="1.8" stroke-linecap="round" opacity=".85"/>
<path d="M596 382L610 378" fill="none" stroke="#cfc7a2" stroke-width="1.8" stroke-linecap="round" opacity=".85"/>
<path d="M500 356L512 352" fill="none" stroke="#efead2" stroke-width="2.6" stroke-linecap="round" opacity=".9"/>
<path d="M522 356L534 352" fill="none" stroke="#efead2" stroke-width="2.6" stroke-linecap="round" opacity=".9"/>
<path d="M546 352L556 350" fill="none" stroke="#efead2" stroke-width="2.6" stroke-linecap="round" opacity=".9"/>
<path d="M566 356L578 350" fill="none" stroke="#efead2" stroke-width="2.6" stroke-linecap="round" opacity=".9"/>
<path d="M530 366L548 362" fill="none" stroke="#efead2" stroke-width="2.6" stroke-linecap="round" opacity=".9"/>
<path d="M556 370L572 366" fill="none" stroke="#efead2" stroke-width="2.6" stroke-linecap="round" opacity=".9"/>
<path d="M508 362C510 363.7 515.3 369 520 372C524.7 375 530.7 377.3 536 380C541.3 382.7 549.3 386.7 552 388" fill="none" stroke="#2d2a1c" stroke-width="3" opacity=".75"/>
<circle cx="509" cy="357" r="2.2" fill="#c9b45f" stroke="#5b5230" stroke-width="0.5"/>
<circle cx="537" cy="356" r="2.2" fill="#c9b45f" stroke="#5b5230" stroke-width="0.5"/>
<path d="M508 384C509.3 381.7 512.3 374.3 516 370C519.7 365.7 526.3 360.7 530 358C533.7 355.3 536.7 354.7 538 354" fill="none" stroke="#37331f" stroke-width="2.6" opacity=".8" stroke-linecap="round"/>
<path d="M510.5 385C511.8 382.7 514.8 375.3 518.5 371C522.2 366.7 528.9 361.7 532.5 359C536.1 356.3 538.8 355.7 540 355" fill="none" stroke="#e4dec4" stroke-width="2.2" opacity=".9" stroke-linecap="round"/>
<path d="M517 382.5C518.3 380.2 521.3 372.8 525 368.5C528.7 364.2 535.3 359.2 539 356.5C542.7 353.8 545.7 353.2 547 352.5" fill="none" stroke="#37331f" stroke-width="2.6" opacity=".8" stroke-linecap="round"/>
<path d="M519.5 383.5C520.8 381.2 523.8 373.8 527.5 369.5C531.2 365.2 537.9 360.2 541.5 357.5C545.1 354.8 547.8 354.2 549 353.5" fill="none" stroke="#e4dec4" stroke-width="2.2" opacity=".9" stroke-linecap="round"/>
<path d="M526 381C527.3 378.7 530.3 371.3 534 367C537.7 362.7 544.3 357.7 548 355C551.7 352.3 554.7 351.7 556 351" fill="none" stroke="#37331f" stroke-width="2.6" opacity=".8" stroke-linecap="round"/>
<path d="M528.5 382C529.8 379.7 532.8 372.3 536.5 368C540.2 363.7 546.9 358.7 550.5 356C554.1 353.3 556.8 352.7 558 352" fill="none" stroke="#e4dec4" stroke-width="2.2" opacity=".9" stroke-linecap="round"/>
<path d="M535 379.5C536.3 377.2 539.3 369.8 543 365.5C546.7 361.2 553.3 356.2 557 353.5C560.7 350.8 563.7 350.2 565 349.5" fill="none" stroke="#37331f" stroke-width="2.6" opacity=".8" stroke-linecap="round"/>
<path d="M537.5 380.5C538.8 378.2 541.8 370.8 545.5 366.5C549.2 362.2 555.9 357.2 559.5 354.5C563.1 351.8 565.8 351.2 567 350.5" fill="none" stroke="#e4dec4" stroke-width="2.2" opacity=".9" stroke-linecap="round"/>
<path d="M544 378C545.3 375.7 548.3 368.3 552 364C555.7 359.7 562.3 354.7 566 352C569.7 349.3 572.7 348.7 574 348" fill="none" stroke="#37331f" stroke-width="2.6" opacity=".8" stroke-linecap="round"/>
<path d="M546.5 379C547.8 376.7 550.8 369.3 554.5 365C558.2 360.7 564.9 355.7 568.5 353C572.1 350.3 574.8 349.7 576 349" fill="none" stroke="#e4dec4" stroke-width="2.2" opacity=".9" stroke-linecap="round"/>
<path d="M500 384C500 382.9 514 391.3 520 394C526 396.7 538.9 404 545 404C551.1 404 560.8 395.9 566 394C571.2 392.1 578.9 390 584 390C589.1 390 602.4 392.9 604 394C605.6 395.1 600.3 396.7 596 398C591.7 399.3 578.4 402.4 572 404C565.6 405.6 554.9 410.3 548 410C541.1 409.7 526.4 405.5 520 402C513.6 398.5 500 385.1 500 384Z" fill="#2f2c1e" opacity=".8"/>
<path d="M606 336C607.1 333.3 613.3 332.1 616 332C618.7 331.9 623.9 333.1 626 335C628.1 336.9 631.3 342.9 632 346C632.7 349.1 631.9 355.3 631 358C630.1 360.7 627.3 364.9 625 366C622.7 367.1 616.3 367.9 614 366C611.7 364.1 609.1 356 608 352C606.9 348 604.9 338.7 606 336Z" fill="#9ba1a5" stroke="#4a5054" stroke-width="0.7"/>
<ellipse cx="621" cy="349.5" rx="8.5" ry="17" fill="#aeb4b8" transform="rotate(-24 621 349.5)" stroke="#50565a" stroke-width="0.7"/>
<ellipse cx="620" cy="349.5" rx="6.6" ry="14.4" fill="#d9dcdf" transform="rotate(-24 620 349.5)"/>
<ellipse cx="618.5" cy="349.8" rx="5" ry="12" fill="#7f8589" transform="rotate(-24 618.5 349.8)"/>
<path d="M470 352C475 355 490 364.7 500 370C510 375.3 521.3 379.8 530 384C538.7 388.2 546.7 392.3 552 395C557.3 397.7 560.3 399.2 562 400" fill="none" stroke="#c9b77a" stroke-width="1.4"/>
<path d="M474 360C478.7 362.7 492.7 371 502 376C511.3 381 521.7 386 530 390C538.3 394 548.3 398.3 552 400" fill="none" stroke="#efe9d3" stroke-width="1.1"/>
<path d="M498 366C501.7 366.3 513 366 520 368C527 370 534 374 540 378C546 382 553.3 389.7 556 392" fill="none" stroke="#d8c98f" stroke-width="1.2"/>
<path d="M580 352L564 368" fill="none" stroke="#6a7075" stroke-width="6.5" stroke-linecap="butt" stroke-linejoin="round"/>
<path d="M580 352L564 368" fill="none" stroke="#c4c9cc" stroke-width="4.7" stroke-linecap="butt" stroke-linejoin="round" transform="translate(-0.6 -0.6)"/>
<path d="M580 352L564 368" fill="none" stroke="#f2f4f5" stroke-width="1.9" stroke-linecap="butt" stroke-linejoin="round" transform="translate(-1.2 -1.2)"/>
<path d="M570 362L556 380" fill="none" stroke="#5f8069" stroke-width="11" stroke-linecap="butt" stroke-linejoin="round"/>
<path d="M570 362L556 380" fill="none" stroke="#9cc0a8" stroke-width="7.9" stroke-linecap="butt" stroke-linejoin="round" transform="translate(-1 -1)"/>
<path d="M570 362L556 380" fill="none" stroke="#d6eadc" stroke-width="3.3" stroke-linecap="butt" stroke-linejoin="round" transform="translate(-2 -2)"/>
<path d="M527 344c0-6 3-8 8-8" fill="none" stroke="#333" stroke-width="1.2"/>
<ellipse cx="499" cy="427" rx="11" ry="13" fill="#3d3a2c" transform="rotate(-15 499 427)" stroke="#1f1d14" stroke-width="0.8"/>
<ellipse cx="496" cy="425" rx="7" ry="10" fill="#8f896c" transform="rotate(-15 496 425)"/>
<path d="M398 356L412 362L411 372L405 381L398 373Z" fill="#9aa0a4" stroke="#5b6165" stroke-width="0.7"/>
<circle cx="405" cy="372" r="2.2" fill="#d9dcde" stroke="#5b6165" stroke-width="0.6"/>
<path d="M414 364L425 369L419 380Z" fill="#8d9397" stroke="#5b6165" stroke-width="0.6"/>
<path d="M376 338.5C388.3 344.2 424 360.8 450 373C476 385.2 518.3 405.1 532 411.5" fill="none" stroke="#466b52" stroke-width="20" stroke-linecap="butt" stroke-linejoin="round"/>
<path d="M376 338.5C388.3 344.2 424 360.8 450 373C476 385.2 518.3 405.1 532 411.5" fill="none" stroke="#7ba286" stroke-width="14.4" stroke-linecap="butt" stroke-linejoin="round" transform="translate(-1 -2)"/>
<path d="M376 338.5C388.3 344.2 424 360.8 450 373C476 385.2 518.3 405.1 532 411.5" fill="none" stroke="#b9d6c2" stroke-width="6" stroke-linecap="butt" stroke-linejoin="round" transform="translate(-2 -4)"/>
<path d="M457 376L532 412" fill="none" stroke="#466b52" stroke-width="22.5" stroke-linecap="butt" stroke-linejoin="round"/>
<path d="M457 376L532 412" fill="none" stroke="#7ba286" stroke-width="16.2" stroke-linecap="butt" stroke-linejoin="round" transform="translate(-1.1 -2.2)"/>
<path d="M457 376L532 412" fill="none" stroke="#b9d6c2" stroke-width="6.8" stroke-linecap="butt" stroke-linejoin="round" transform="translate(-2.2 -4.5)"/>
<path d="M387.6 333l-7.6 15.6" fill="none" stroke="#3e5f49" stroke-width="1.2"/>
<path d="M466.6 370.5l-7.6 15.6" fill="none" stroke="#3e5f49" stroke-width="1.2"/>
<path d="M500 392C502.4 388.8 515.9 384.5 522 384C528.1 383.5 540.9 386.1 546 388C551.1 389.9 557.3 394.8 560 398C562.7 401.2 566.5 408.5 566 412C565.5 415.5 560 421.9 556 424C552 426.1 541.3 428.5 536 428C530.7 427.5 520.3 422.7 516 420C511.7 417.3 506.1 411.7 504 408C501.9 404.3 497.6 395.2 500 392Z" fill="#739a7f" stroke="#3e5f49" stroke-width="0.8"/>
<path d="M506 394C509 393 517.7 388.5 524 388C530.3 387.5 538.7 389.2 544 391C549.3 392.8 554 397.7 556 399" fill="none" stroke="#bedac7" stroke-width="2.2"/>
<path d="M541 392L556 396L554 408L539 404Z" fill="#a9c9b3" stroke="#3e5f49" stroke-width="0.7"/>
<circle cx="545" cy="397" r="1.5" fill="#35503e"/>
<circle cx="551" cy="399" r="1.5" fill="#35503e"/>
<circle cx="546" cy="403" r="1.5" fill="#35503e"/>
<path d="M526 411.5C529.5 413.6 543.5 421.9 547 424" fill="none" stroke="#466b52" stroke-width="18" stroke-linecap="butt" stroke-linejoin="round"/>
<path d="M526 411.5C529.5 413.6 543.5 421.9 547 424" fill="none" stroke="#7ba286" stroke-width="13" stroke-linecap="butt" stroke-linejoin="round" transform="translate(-0.9 -1.8)"/>
<path d="M526 411.5C529.5 413.6 543.5 421.9 547 424" fill="none" stroke="#b9d6c2" stroke-width="5.4" stroke-linecap="butt" stroke-linejoin="round" transform="translate(-1.8 -3.6)"/>
<circle cx="513" cy="415" r="8.6" fill="#8fb39a" stroke="#3e5f49" stroke-width="0.9"/>
<circle cx="513" cy="415" r="4.6" fill="#c7dccd" stroke="#4d7359" stroke-width="0.8"/>
<circle cx="513" cy="415" r="1.8" fill="#8c7f4a"/>
<path d="M521 426L528 429L528 444L523 440Z" fill="#a9b0b4" stroke="#5b6165" stroke-width="0.7"/>
<path d="M545.5 414.2L548.3 414.1L549.8 416.1L552.5 415.8L553.7 418.2L556.3 418.4L557.5 420.8L560.1 421L561.3 423.3L563.8 423.5L565.1 425.8L567.6 426.1L568.9 428.4L571.3 428.7L572.6 430.9L575.1 431.2L576.4 433.5L578.9 433.8L580.2 436L582.5 436.5L583.8 438.8L586.1 439.3L587.4 441.6L589.7 442.2L591.1 444.4L593.3 445L594.7 447.2L596.6 448.3L597.6 451.1L599.2 452.8L600.3 455.4L596.7 461.6L593.9 461.8L591.6 461.2L588.7 461.7L586.7 460.5L584.2 460.3L582.5 458.6L580 458.5L578.4 456.7L575.8 456.7L574.2 454.9L571.6 454.9L570 453L567.4 452.9L566 450.9L563.4 450.8L562 448.7L559.4 448.7L557.9 446.6L555.3 446.6L553.9 444.5L551.3 444.5L549.9 442.4L547.2 442.4L545.9 440.2L543.2 440.3L541.9 438.1L539.2 438.2L538 435.6L535.6 435.3L534.5 432.8Z" fill="#353535" stroke="#0c0c0c" stroke-width="0.6" stroke-linejoin="round"/>
<path d="M542.5 419.4L544.5 420.4L546.5 421.5L548.5 422.5L550.4 423.8L552.4 425L554.3 426.2L556.2 427.4L558.1 428.6L560.1 429.8L562 431L563.9 432.2L565.8 433.4L567.7 434.7L569.7 435.9L571.6 437.1L573.5 438.3L575.4 439.5L577.4 440.7L579.2 442L581.1 443.3L583 444.5L584.9 445.8L586.8 447.1L588.7 448.3L590.6 449.6L592.5 450.9L594.2 452.3L595.9 453.9L597.6 455.5L599.3 457.1" fill="none" stroke="#7a7a7a" stroke-width="5" opacity=".8" stroke-linecap="round"/>
<path d="M549.9 415.8Q545.3 426.7 537.9 435.8M553.9 418Q549.2 429 541.7 438.3M557.7 420.6Q553.1 431.3 545.7 440.4M561.4 423.1Q557 433.7 549.8 442.6M565.2 425.6Q560.9 436 553.8 444.7M569 428.2Q564.8 438.3 557.8 446.8M572.7 430.7Q568.7 440.7 561.9 448.9M576.5 433.3Q572.6 443 565.9 451.1M580.3 435.8Q576.5 445.3 569.9 453.2M583.9 438.6Q580.4 447.7 574.1 455M587.5 441.4Q584.3 450 578.3 456.9M591.2 444.2Q588.2 452.3 582.4 458.8M594.8 447Q592.1 454.7 586.6 460.6M597.7 451Q596 457 591.5 461.3" fill="none" stroke="#121212" stroke-width="1.1"/>
<path d="M595 456.4L603 461.2" fill="none" stroke="#2a2a2a" stroke-width="7" stroke-linecap="butt" stroke-linejoin="round"/>
<path d="M595 456.4L603 461.2" fill="none" stroke="#555" stroke-width="5" stroke-linecap="butt" stroke-linejoin="round" transform="translate(-0.6 -0.6)"/>
<path d="M595 456.4L603 461.2" fill="none" stroke="#888" stroke-width="2.1" stroke-linecap="butt" stroke-linejoin="round" transform="translate(-1.3 -1.3)"/>
<path d="M596 428C597.6 427.1 607.7 433.6 612 434C616.3 434.4 625.3 430.1 628 431C630.7 431.9 633.6 438.7 632 441C630.4 443.3 620.3 448 616 448C611.7 448 602.7 443.7 600 441C597.3 438.3 594.4 428.9 596 428Z" fill="#2b2d30"/>
<path d="M566 397.5L589 408.5" fill="none" stroke="#5f666c" stroke-width="27" stroke-linecap="butt" stroke-linejoin="round"/>
<path d="M566 397.5L589 408.5" fill="none" stroke="#b3bbc2" stroke-width="19.4" stroke-linecap="butt" stroke-linejoin="round" transform="translate(-2.4 -2.4)"/>
<path d="M566 397.5L589 408.5" fill="none" stroke="#eef1f3" stroke-width="8.1" stroke-linecap="butt" stroke-linejoin="round" transform="translate(-4.9 -4.9)"/>
<path d="M590.8 394.7L593.6 393.7L595.5 395.6L598.3 394.5L600.1 396.4L602.7 396.1L604.3 398.8L606.8 398.6L608.4 401.3L610.9 401.2L612.4 403.9L614.7 404.5L616.2 407.3L618.4 408.1L620 410.8L622 412.2L623.6 414.8L620.4 424.2L617.6 425.3L615.1 425.2L612.2 426.4L610 425.7L607.1 427L604.9 426.1L602 427.3L600.1 425.7L597.3 426.9L595.4 425.2L592.5 426.4L590.6 424.6L588 425L586.4 422.4L583.8 422.8L582.2 420.3Z" fill="#353535" stroke="#0c0c0c" stroke-width="0.6" stroke-linejoin="round"/>
<path d="M588.4 401.8L590.7 402.4L593 403L595.2 403.6L597.5 404.2L599.6 405.2L601.8 406.2L603.9 407.1L606.1 408.1L608.2 409L610.4 410.1L612.4 411.2L614.5 412.4L616.6 413.6L618.6 414.8L620.7 416.1L622.7 417.4" fill="none" stroke="#7a7a7a" stroke-width="6.3" opacity=".8" stroke-linecap="round"/>
<path d="M595.6 395.3Q592.5 409.5 586.3 422.7M600.2 396.1Q596.9 411 590.5 424.9M604.4 398.6Q601.3 412.5 595.3 425.4M608.5 401Q605.8 414 600 426M612.5 403.6Q610.2 415.5 604.8 426.4M616.3 407.1Q614.6 417 609.9 425.9M620 410.7Q619.1 418.5 615.1 425.3" fill="none" stroke="#121212" stroke-width="1.1"/>
<path d="M620 419L640 428" fill="none" stroke="#5e6468" stroke-width="6" stroke-linecap="butt" stroke-linejoin="round"/>
<path d="M620 419L640 428" fill="none" stroke="#9a9fa3" stroke-width="4.3" stroke-linecap="butt" stroke-linejoin="round" transform="translate(-0.5 -0.5)"/>
<path d="M620 419L640 428" fill="none" stroke="#d8dbdd" stroke-width="1.8" stroke-linecap="butt" stroke-linejoin="round" transform="translate(-1.1 -1.1)"/>
<path d="M346 385.6C358.3 392.7 394.8 413.7 420 428.2C445.2 442.7 484.2 465 497 472.4" fill="none" stroke="#42506b" stroke-width="9" stroke-linecap="butt" stroke-linejoin="round"/>
<path d="M346 385.6C358.3 392.7 394.8 413.7 420 428.2C445.2 442.7 484.2 465 497 472.4" fill="none" stroke="#7b8cae" stroke-width="6.5" stroke-linecap="butt" stroke-linejoin="round" transform="translate(-0.4 -0.9)"/>
<path d="M346 385.6C358.3 392.7 394.8 413.7 420 428.2C445.2 442.7 484.2 465 497 472.4" fill="none" stroke="#b4c1d8" stroke-width="2.7" stroke-linecap="butt" stroke-linejoin="round" transform="translate(-0.7 -1.8)"/>
<ellipse cx="345" cy="386" rx="4.6" ry="9.6" fill="#23262b" transform="rotate(28 345 386)"/>
<ellipse cx="341.5" cy="384" rx="4.6" ry="9" fill="#3a3f48" transform="rotate(28 341.5 384)"/>
<path d="M327 372L339 377L338 389L328 385Z" fill="#9aa2aa" stroke="#4d555b" stroke-width="0.7"/>
<path d="M329 375l9 4" fill="none" stroke="#e4e8eb" stroke-width="1.6"/>
<path d="M496 466L506 470L504 490L495 486Z" fill="#8f979f" stroke="#3d444a" stroke-width="0.7"/>
<ellipse cx="503" cy="477" rx="4.6" ry="12" fill="#23262b" transform="rotate(22 503 477)"/>
<ellipse cx="509.5" cy="481" rx="5" ry="12.5" fill="#2e3238" transform="rotate(22 509.5 481)"/>
<path d="M349 356C350.6 352.7 356.7 349.7 360 349C363.3 348.3 371.1 349.5 374 351C376.9 352.5 381.1 357.1 382 360C382.9 362.9 382.3 370.1 381 373C379.7 375.9 375.1 380.7 372 382C368.9 383.3 361.2 384.1 358 383C354.8 381.9 349.2 377.6 348 374C346.8 370.4 347.4 359.3 349 356Z" fill="#8f969d" stroke="#4e555b" stroke-width="0.8"/>
<path d="M353 355C354.5 354.3 358.7 351.3 362 351C365.3 350.7 370.2 351.5 373 353C375.8 354.5 378 358.8 379 360" fill="none" stroke="#d9dde0" stroke-width="2.2"/>
<circle cx="359" cy="369.5" r="8.6" fill="#2a2d31"/>
<circle cx="359" cy="369.5" r="4.2" fill="#8c7f4a" stroke="#1a1a1a" stroke-width="1"/>
<circle cx="358.4" cy="368.9" r="1.8" fill="#d8cc97"/>
</g>
<g id="lsusp">
<g clip-path="url(#cRim)">
<ellipse cx="333" cy="252" rx="50" ry="62" fill="#b4b9bd" transform="rotate(14 333 252)" stroke="#70767a" stroke-width="0.8"/>
<ellipse cx="333" cy="252" rx="44" ry="56" fill="none" transform="rotate(14 333 252)" stroke="#dde0e2" stroke-width="1.4"/>
<ellipse cx="334" cy="253" rx="37" ry="48" fill="#9aa0a4" transform="rotate(14 334 253)" stroke="#7c8286" stroke-width="0.8"/>
<path d="M372 200C374.1 200.1 383.3 209.7 386 215C388.7 220.3 391.7 232.7 392 240C392.3 247.3 390.1 263.1 388 270C385.9 276.9 378.9 289.9 376 292C373.1 294.1 366.5 290 366 286C365.5 282 370.9 268.7 372 262C373.1 255.3 374.3 242.4 374 236C373.7 229.6 370.3 218.8 370 214C369.7 209.2 369.9 199.9 372 200Z" fill="#777c80" filter="url(#b2)" opacity=".8"/>
<path d="M291.7 233.5C292.2 232.3 293.7 228.6 294.8 226.3C296 224 297.3 221.7 298.7 219.6C300.1 217.4 301.7 215.4 303.3 213.5C304.9 211.6 306.6 209.8 308.4 208.1C310.2 206.5 312.1 205 314 203.6C316 202.3 318 201.1 320 200.1C322.1 199 324.2 198.2 326.3 197.5C328.4 196.8 330.5 196.3 332.6 196C334.7 195.7 337.9 195.7 339 195.6" fill="none" stroke="#686e72" stroke-width="1"/>
<path d="M292.6 234.4C293.1 233.2 294.6 229.5 295.7 227.2C296.9 224.9 298.2 222.6 299.6 220.5C301 218.3 302.6 216.3 304.2 214.4C305.8 212.5 307.5 210.7 309.3 209C311.1 207.4 313 205.9 314.9 204.5C316.9 203.2 318.9 202 320.9 201C323 199.9 325.1 199.1 327.2 198.4C329.3 197.7 331.4 197.2 333.5 196.9C335.6 196.6 338.8 196.6 339.9 196.5" fill="none" stroke="#eceeef" stroke-width="1"/>
<path d="M295.5 235.2C296 234.1 297.3 230.8 298.4 228.7C299.5 226.5 300.7 224.5 301.9 222.5C303.2 220.6 304.6 218.7 306.1 217C307.5 215.3 309.1 213.6 310.7 212.1C312.4 210.6 314.1 209.3 315.8 208C317.6 206.8 319.4 205.7 321.3 204.8C323.1 203.9 325 203.1 326.9 202.5C328.8 201.9 330.8 201.4 332.7 201.1C334.6 200.9 337.5 200.8 338.5 200.8" fill="none" stroke="#686e72" stroke-width="1"/>
<path d="M296.4 236.1C296.9 235 298.2 231.7 299.3 229.6C300.4 227.4 301.6 225.4 302.8 223.4C304.1 221.5 305.5 219.6 307 217.9C308.4 216.2 310 214.5 311.6 213C313.3 211.5 315 210.2 316.7 208.9C318.5 207.7 320.3 206.6 322.2 205.7C324 204.8 325.9 204 327.8 203.4C329.7 202.8 331.7 202.3 333.6 202C335.5 201.8 338.4 201.7 339.4 201.7" fill="none" stroke="#eceeef" stroke-width="1"/>
<path d="M299.4 236.9C299.8 236 301 232.9 302 231C302.9 229.1 304 227.3 305.1 225.5C306.3 223.8 307.5 222.1 308.9 220.5C310.2 219 311.6 217.5 313 216.2C314.5 214.8 316 213.6 317.6 212.5C319.2 211.4 320.8 210.4 322.5 209.6C324.1 208.7 325.9 208 327.6 207.5C329.3 206.9 331 206.5 332.7 206.3C334.5 206 337.1 206 337.9 205.9" fill="none" stroke="#686e72" stroke-width="1"/>
<path d="M300.3 237.8C300.7 236.9 301.9 233.8 302.9 231.9C303.8 230 304.9 228.2 306 226.4C307.2 224.7 308.4 223 309.8 221.4C311.1 219.9 312.5 218.4 313.9 217.1C315.4 215.7 316.9 214.5 318.5 213.4C320.1 212.3 321.7 211.3 323.4 210.5C325 209.6 326.8 208.9 328.5 208.4C330.2 207.8 331.9 207.4 333.6 207.2C335.4 206.9 338 206.9 338.8 206.8" fill="none" stroke="#eceeef" stroke-width="1"/>
<path d="M303.3 238.6C303.6 237.8 304.7 235.1 305.5 233.4C306.4 231.7 307.3 230.1 308.4 228.5C309.4 226.9 310.5 225.5 311.6 224.1C312.8 222.7 314.1 221.4 315.4 220.2C316.6 219 318 217.9 319.4 216.9C320.8 215.9 322.3 215.1 323.7 214.3C325.2 213.6 326.7 212.9 328.2 212.5C329.7 212 331.3 211.6 332.8 211.4C334.3 211.1 336.6 211.1 337.4 211.1" fill="none" stroke="#686e72" stroke-width="1"/>
<path d="M304.2 239.5C304.5 238.7 305.6 236 306.4 234.3C307.3 232.6 308.2 231 309.3 229.4C310.3 227.8 311.4 226.4 312.5 225C313.7 223.6 315 222.3 316.3 221.1C317.5 219.9 318.9 218.8 320.3 217.8C321.7 216.8 323.2 216 324.6 215.2C326.1 214.5 327.6 213.8 329.1 213.4C330.6 212.9 332.2 212.5 333.7 212.3C335.2 212 337.5 212 338.3 212" fill="none" stroke="#eceeef" stroke-width="1"/>
<path d="M262 292C263.1 291.7 268.3 296.5 272 298C275.7 299.5 284.4 301.8 290 303C295.6 304.2 307.6 305.8 314 307C320.4 308.2 331.1 311.6 338 312C344.9 312.4 363.6 308.1 366 310C368.4 311.9 360.3 322.2 356 326C351.7 329.8 339.6 336.6 334 338.5C328.4 340.4 318.8 340.6 314 340.5C309.2 340.4 302.3 339.1 298 337.5C293.7 335.9 285.7 331.5 282 328.4C278.3 325.3 272.4 318.2 270 314.4C267.6 310.6 265.1 303 264 300C262.9 297 260.9 292.3 262 292Z" fill="url(#gBarrel)"/>
<path d="M272 299C275 299.8 283 302.5 290 304C297 305.5 306 306.5 314 308C322 309.5 334 312.2 338 313" fill="none" stroke="#2c2c2c" stroke-width="2.5" filter="url(#b1)"/>
<path d="M296 232C299.5 229.6 307.7 225.2 312 226C316.3 226.8 323.7 234.8 328 238C332.3 241.2 340.8 246.3 344 250C347.2 253.7 350.4 261.2 352 266C353.6 270.8 356 280.9 356 286C356 291.1 354.1 300.3 352 304C349.9 307.7 344 312.9 340 314C336 315.1 326.3 313.6 322 312C317.7 310.4 311.7 304.4 308 302C304.3 299.6 297.2 296.9 294 294C290.8 291.1 285.9 284.3 284 280C282.1 275.7 279.7 266.8 280 262C280.3 257.2 283.9 248 286 244C288.1 240 292.5 234.4 296 232Z" fill="#8b9297" stroke="#565c61" stroke-width="0.8"/>
<path d="M300 236C302.3 235.3 309.7 231 314 232C318.3 233 322.3 238.3 326 242C329.7 245.7 334.3 252 336 254" fill="none" stroke="#d6dadd" stroke-width="3"/>
<path d="M292 268C293.1 264 302.5 261.5 306 262C309.5 262.5 315.9 268.3 318 272C320.1 275.7 322.8 286.5 322 290C321.2 293.5 315.2 297.7 312 298C308.8 298.3 300.7 296 298 292C295.3 288 290.9 272 292 268Z" fill="#5f666b"/>
<path d="M286 256C286.8 253.9 293.3 250 296 250C298.7 250 305.5 253.9 306 256C306.5 258.1 302.1 264.7 300 266C297.9 267.3 291.9 267.3 290 266C288.1 264.7 285.2 258.1 286 256Z" fill="#c3c8cc"/>
<path d="M300 296C300.8 293.9 311.5 298.4 316 300C320.5 301.6 330.3 305.9 334 308C337.7 310.1 344.5 314.1 344 316C343.5 317.9 334.5 322 330 322C325.5 322 314 319.5 310 316C306 312.5 299.2 298.1 300 296Z" fill="#3c4043"/>
</g>
<path d="M270 288C272.3 287.8 279.7 286.8 284 287C288.3 287.2 292.5 287.3 296 289C299.5 290.7 301.7 294.5 305 297C308.3 299.5 311.8 301.9 316 304C320.2 306.1 327.7 308.6 330 309.5" fill="none" stroke="#4f7a5e" stroke-width="3.6" stroke-linecap="round" stroke-linejoin="round"/>
<path d="M270 288C272.3 287.8 279.7 286.8 284 287C288.3 287.2 292.5 287.3 296 289C299.5 290.7 301.7 294.5 305 297C308.3 299.5 311.8 301.9 316 304C320.2 306.1 327.7 308.6 330 309.5" fill="none" stroke="#8fb79c" stroke-width="2.6" stroke-linecap="round" stroke-linejoin="round" transform="translate(-0.3 -0.3)"/>
<path d="M270 288C272.3 287.8 279.7 286.8 284 287C288.3 287.2 292.5 287.3 296 289C299.5 290.7 301.7 294.5 305 297C308.3 299.5 311.8 301.9 316 304C320.2 306.1 327.7 308.6 330 309.5" fill="none" stroke="#cfe6d6" stroke-width="1.1" stroke-linecap="round" stroke-linejoin="round" transform="translate(-0.6 -0.6)"/>
<circle cx="271" cy="262" r="2.6" fill="#b9a75f" stroke="#5b5230" stroke-width="0.5"/>
<circle cx="271.5" cy="250" r="2.2" fill="#b9a75f" stroke="#5b5230" stroke-width="0.5"/>
<path d="M310 241.4L312.6 241.5L314.2 243.7L316.8 243.9L318.4 246.1L321.1 246.2L322.6 248.4L325.3 248.5L326.7 251L329.2 251.5L330.6 253.9L333.1 254.5L334.6 256.8L337 257.5L338.5 259.7L331.5 273.3L328.8 273.3L326.8 271.8L324.1 271.9L322.2 270.2L319.4 270.4L317.6 268.7L314.7 269L313.1 266.9L310.4 266.9L308.7 264.8L306 264.8L304.4 262.7L301.7 262.7L300 260.6Z" fill="#353535" stroke="#0c0c0c" stroke-width="0.6" stroke-linejoin="round"/>
<path d="M307.2 246.7L309.3 247.9L311.5 249L313.6 250.1L315.7 251.3L317.9 252.4L320 253.5L322.1 254.7L324.2 255.9L326.2 257.2L328.3 258.4L330.4 259.7L332.4 261L334.5 262.2L336.6 263.5" fill="none" stroke="#7a7a7a" stroke-width="5.1" opacity=".8" stroke-linecap="round"/>
<path d="M314.3 243.5Q310.7 253.9 304.3 262.9M318.5 245.9Q315 256.2 308.6 265M322.7 248.2Q319.3 258.4 313 267.1M326.8 250.8Q323.6 260.6 317.5 268.9M330.7 253.7Q327.9 262.8 322.1 270.4M334.7 256.6Q332.1 265 326.8 271.9" fill="none" stroke="#121212" stroke-width="1.1"/>
<path d="M336 270L352 274L347 316L333 312Z" fill="#9aa1a6" stroke="#555b60" stroke-width="0.8"/>
<path d="M339 272L344 273.2L340 313L335.5 312Z" fill="#dfe3e5"/>
<circle cx="347" cy="268" r="6.5" fill="#a5acb1" stroke="#50565a" stroke-width="0.8"/>
<circle cx="346" cy="267" r="3" fill="#d9dde0"/>
<circle cx="313" cy="281" r="3" fill="#b9a75f" stroke="#5b5230" stroke-width="0.6"/>
<circle cx="334" cy="314" r="3" fill="#b9a75f" stroke="#5b5230" stroke-width="0.6"/>
<path d="M327 308l12 4" fill="none" stroke="#c2b06a" stroke-width="3.4" stroke-linecap="round"/>
<path d="M328 207C329.9 204.5 335.6 202.9 338 203C340.4 203.1 344.5 205.5 346 208C347.5 210.5 348.2 217.7 349 222C349.8 226.3 352.1 236 352 240C351.9 244 349.9 249.9 348 252C346.1 254.1 340.4 256.3 338 256C335.6 255.7 331.9 251.9 330 250C328.1 248.1 324.3 244.4 324 242C323.7 239.6 328 234.7 328 232C328 229.3 324 225.3 324 222C324 218.7 326.1 209.5 328 207Z" fill="#a3935f" stroke="#3f3922" stroke-width="0.9"/>
<path d="M332 214C333.3 212.1 338.7 215.9 340 218C341.3 220.1 342.5 227.3 342 230C341.5 232.7 337.6 237.7 336 238C334.4 238.3 330.5 235.2 330 232C329.5 228.8 330.7 215.9 332 214Z" fill="#4f4729"/>
<path d="M336 244C336.8 242.9 342.7 244.9 344 246C345.3 247.1 346.8 250.9 346 252C345.2 253.1 339.3 255.1 338 254C336.7 252.9 335.2 245.1 336 244Z" fill="#d9cd98"/>
<path d="M330 210C331.3 209.5 335.7 206.7 338 207C340.3 207.3 342.8 209.2 344 212C345.2 214.8 344.8 222 345 224" fill="none" stroke="#e2d8a6" stroke-width="2"/>
<path d="M330 236C331.3 236.7 335.7 238 338 240C340.3 242 343 246.7 344 248" fill="none" stroke="#5e562f" stroke-width="2.2"/>
<path d="M354 209L349 243" fill="none" stroke="#2c2f32" stroke-width="12.5" stroke-linecap="butt" stroke-linejoin="round"/>
<path d="M354 209L349 243" fill="none" stroke="#5e6366" stroke-width="9" stroke-linecap="butt" stroke-linejoin="round" transform="translate(-1.1 -1.1)"/>
<path d="M354 209L349 243" fill="none" stroke="#9da2a6" stroke-width="3.8" stroke-linecap="butt" stroke-linejoin="round" transform="translate(-2.2 -2.2)"/>
<ellipse cx="354.3" cy="208.5" rx="6.2" ry="2.6" fill="#c9cdd0" transform="rotate(8 354.3 208.5)" stroke="#3a3d40" stroke-width="0.6"/>
<ellipse cx="349" cy="243.5" rx="7.2" ry="3" fill="#25282a" transform="rotate(8 349 243.5)"/>
<path d="M330 222C329.3 223.7 326 228.3 326 232C326 235.7 327.3 240.7 330 244C332.7 247.3 337.7 250.3 342 252C346.3 253.7 351.3 254.3 356 254C360.7 253.7 366 251.7 370 250C374 248.3 376.7 245.2 380 244C383.3 242.8 388.3 243.2 390 243" fill="none" stroke="#161616" stroke-width="1.6"/>
<path d="M324 214C323.3 216 320.3 222 320 226C319.7 230 320.3 234 322 238C323.7 242 328.7 248 330 250" fill="none" stroke="#161616" stroke-width="1.4"/>
<path d="M388 243l8 2" fill="none" stroke="#b9a75f" stroke-width="3" stroke-linecap="round"/>
<path d="M372 200L366 248" fill="none" stroke="#303437" stroke-width="14" stroke-linecap="butt" stroke-linejoin="round"/>
<path d="M372 200L366 248" fill="none" stroke="#5c6165" stroke-width="10.1" stroke-linecap="butt" stroke-linejoin="round" transform="translate(-1.3 -1.3)"/>
<path d="M372 200L366 248" fill="none" stroke="#8a8f93" stroke-width="4.2" stroke-linecap="butt" stroke-linejoin="round" transform="translate(-2.5 -2.5)"/>
<path d="M356.5 181L394 187L386 198L382 208L363 205L362 195Z" fill="url(#gCol)" stroke="#4b5054" stroke-width="0.7"/>
<path d="M361.5 195.5q11 6 24.5 3" fill="none" stroke="#4b5054" stroke-width="0.9"/>
<path d="M348 112C350 112.3 356 112.3 360 114C364 115.7 370 120.7 372 122" fill="none" stroke="#7f8d99" stroke-width="6" stroke-linecap="round" stroke-linejoin="round"/>
<path d="M348 112C350 112.3 356 112.3 360 114C364 115.7 370 120.7 372 122" fill="none" stroke="#aebbc6" stroke-width="4.3" stroke-linecap="round" stroke-linejoin="round" transform="translate(-0.5 -0.5)"/>
<path d="M348 112C350 112.3 356 112.3 360 114C364 115.7 370 120.7 372 122" fill="none" stroke="#e6ecf0" stroke-width="1.8" stroke-linecap="round" stroke-linejoin="round" transform="translate(-1.1 -1.1)"/>
<path d="M366 104L417 117L404 188L394 193.5L376 193.5L359 188L350.5 180.5Z" fill="url(#gShk)" stroke="#2f4258" stroke-width="0.8"/>
<path d="M350.5 180.5C352.2 181.9 356.1 186.8 361 189C365.9 191.2 374.2 193.4 380 194C385.8 194.6 392 193.7 396 192.5C400 191.3 402.7 187.9 404 187" fill="none" stroke="#2f4258" stroke-width="1.2"/>
<path d="M367.5 93C367.4 94.9 365.7 104.1 367 107C368.3 109.9 373.4 113.1 377 115C380.6 116.9 389.6 120.1 394 121C398.4 121.9 406.9 122.2 410 121.5C413.1 120.8 416.4 118.6 417.5 116C418.6 113.4 418.4 103.9 418.5 102Z" fill="url(#gCap)" stroke="#3f4549" stroke-width="0.8"/>
<path d="M366 107.5C367.7 109 371.3 114 376 116.5C380.7 119 388.3 121.7 394 122.8C399.7 123.9 406.1 124.1 410 123.3C413.9 122.5 416.2 118.9 417.5 118" fill="none" stroke="#2b3135" stroke-width="1.6"/>
<ellipse cx="393" cy="96.5" rx="25.6" ry="11.2" fill="#b9bec2" transform="rotate(14 393 96.5)" stroke="#4a5054" stroke-width="0.8"/>
<ellipse cx="393" cy="96" rx="24" ry="10" fill="none" transform="rotate(14 393 96)" stroke="#e6e9eb" stroke-width="1.2" stroke-dasharray="40 200" stroke-dashoffset="-70"/>
<ellipse cx="393.5" cy="96.5" rx="16.5" ry="6.8" fill="#80868a" transform="rotate(14 393.5 96.5)" stroke="#4f5559" stroke-width="0.6"/>
<ellipse cx="394.5" cy="97" rx="11" ry="4.4" fill="#d5d9dc" transform="rotate(14 394.5 97)" stroke="#5a6064" stroke-width="0.6"/>
<ellipse cx="395.5" cy="97.5" rx="6" ry="2.5" fill="#5d6367" transform="rotate(14 395.5 97.5)"/>
<path d="M375.8 83.5v6.5" fill="none" stroke="#b9a75f" stroke-width="2.6" stroke-linecap="round"/><path d="M375.3 83.5v5.2" fill="none" stroke="#efe6bb" stroke-width="0.9" stroke-linecap="round"/><ellipse cx="375.8" cy="90" rx="3.2" ry="2.1" fill="#9b8c4c" stroke="#5b5230" stroke-width="0.5"/>
<path d="M410.3 85.5v7" fill="none" stroke="#b9a75f" stroke-width="2.6" stroke-linecap="round"/><path d="M409.8 85.5v5.6" fill="none" stroke="#efe6bb" stroke-width="0.9" stroke-linecap="round"/><ellipse cx="410.3" cy="92.5" rx="3.2" ry="2.1" fill="#9b8c4c" stroke="#5b5230" stroke-width="0.5"/>
<path d="M394 93v7" fill="none" stroke="#b9a75f" stroke-width="2.6" stroke-linecap="round"/><path d="M393.5 93v5.6" fill="none" stroke="#efe6bb" stroke-width="0.9" stroke-linecap="round"/><ellipse cx="394" cy="100" rx="3.2" ry="2.1" fill="#9b8c4c" stroke="#5b5230" stroke-width="0.5"/>
<path d="M417.5 140.7h13.5a6.3 8.3 0 0 1 0 16.6h-13.5z" fill="#8c959c" stroke="#4d555b" stroke-width="0.8"/>
<path d="M417.5 144.5h15.5" fill="none" stroke="#e4e8eb" stroke-width="2.4"/>
<ellipse cx="417.5" cy="149" rx="7.7" ry="9" fill="#aab3ba" stroke="#4d555b" stroke-width="0.8"/>
<ellipse cx="417.2" cy="149" rx="4.7" ry="5.8" fill="#464c51"/>
<circle cx="416.9" cy="149.2" r="3.2" fill="#b9a55a" stroke="#3a3a2a" stroke-width="0.6"/>
<circle cx="416.4" cy="148.8" r="1.3" fill="#efe5b5"/>
<path d="M349 156C347.3 154.2 342.2 148.8 339 145C335.8 141.2 332.2 136.7 330 133C327.8 129.3 325.8 126.2 325.5 123C325.2 119.8 326.1 116.3 328 114C329.9 111.7 333.8 110 337 109C340.2 108 345.3 108.2 347 108" fill="none" stroke="#5f6d78" stroke-width="8.4" stroke-linecap="round"/>
<path d="M349 156C347.3 154.2 342.2 148.8 339 145C335.8 141.2 332.2 136.7 330 133C327.8 129.3 325.8 126.2 325.5 123C325.2 119.8 326.1 116.3 328 114C329.9 111.7 333.8 110 337 109C340.2 108 345.3 108.2 347 108" fill="none" stroke="#aebbc6" stroke-width="6.6" stroke-linecap="round"/>
<path d="M347 155C345.3 153.2 340.1 147.8 337 144C333.9 140.2 330.7 135.5 328.5 132C326.3 128.5 324.3 125.8 324 123C323.7 120.2 324.8 117.2 326.5 115C328.2 112.8 332.8 110.8 334 110" fill="none" stroke="#eaf0f3" stroke-width="1.8" stroke-linecap="round"/>
<path d="M338 142C339.5 141 344 138.5 347 136C350 133.5 353.8 130 356 127C358.2 124 359.3 119.5 360 118" fill="none" stroke="#7f8d99" stroke-width="5.6" stroke-linecap="round" stroke-linejoin="round"/>
<path d="M338 142C339.5 141 344 138.5 347 136C350 133.5 353.8 130 356 127C358.2 124 359.3 119.5 360 118" fill="none" stroke="#aebbc6" stroke-width="4" stroke-linecap="round" stroke-linejoin="round" transform="translate(-0.5 -0.5)"/>
<path d="M338 142C339.5 141 344 138.5 347 136C350 133.5 353.8 130 356 127C358.2 124 359.3 119.5 360 118" fill="none" stroke="#e6ecf0" stroke-width="1.7" stroke-linecap="round" stroke-linejoin="round" transform="translate(-1 -1)"/>
<ellipse cx="344" cy="127" rx="9" ry="4.8" fill="#6f7a83" transform="rotate(-8 344 127)" stroke="#434c53" stroke-width="0.7"/>
<ellipse cx="344.5" cy="122" rx="9.4" ry="6" fill="#8e99a1" transform="rotate(-8 344.5 122)" stroke="#4d565d" stroke-width="0.7"/>
<ellipse cx="345.2" cy="115.5" rx="9.6" ry="6.4" fill="#c3ccd3" transform="rotate(-8 345.2 115.5)" stroke="#57616a" stroke-width="0.8"/>
<ellipse cx="345.6" cy="114.6" rx="5.6" ry="3.4" fill="#8a959d" transform="rotate(-8 345.6 114.6)" stroke="#57616a" stroke-width="0.5"/>
<ellipse cx="344.6" cy="113.6" rx="2.4" ry="1.2" fill="#e8edf0" transform="rotate(-8 344.6 113.6)"/>
<path d="M343 150C346.1 149.3 356.5 154.8 358 158C359.5 161.2 355.5 169.5 354 174C352.5 178.5 349.1 187.2 347 192C344.9 196.8 340.8 205.3 338 210C335.2 214.7 329.3 223 326 227C322.7 231 316.2 237.5 313 240C309.8 242.5 304.7 246 302 246C299.3 246 293.3 242.4 293 240C292.7 237.6 297.6 231.5 300 228C302.4 224.5 308.3 218 311 214C313.7 210 317.7 202.5 320 198C322.3 193.5 326 184.7 328 180C330 175.3 333 167 335 163C337 159 339.9 150.7 343 150Z" fill="#a9b7c2" stroke="#5f6d78" stroke-width="0.9"/>
<path d="M341 160C339.8 163.3 336.5 173.5 334 180C331.5 186.5 329 193.2 326 199C323 204.8 319.8 209.7 316 215C312.2 220.3 305.2 228.3 303 231" fill="none" stroke="#e8eef2" stroke-width="2.4"/>
<path d="M354 171C352.8 174.2 349.7 183.8 347 190C344.3 196.2 341.3 202.3 338 208C334.7 213.7 328.8 221.3 327 224" fill="none" stroke="#73828e" stroke-width="2.4"/>
<path d="M349 166C348 169 345.5 178 343 184C340.5 190 337.3 196.2 334 202C330.7 207.8 324.8 216.2 323 219" fill="none" stroke="#4f5d68" stroke-width="1.5"/>
<circle cx="296.5" cy="241.5" r="2.8" fill="#b9a75f" stroke="#5b5230" stroke-width="0.6"/>
<path d="M351 279C354.5 280.9 364.8 286.6 372 290.5C379.2 294.4 390.3 300.6 394 302.6" fill="none" stroke="#666c71" stroke-width="7.4" stroke-linecap="butt" stroke-linejoin="round"/>
<path d="M351 279C354.5 280.9 364.8 286.6 372 290.5C379.2 294.4 390.3 300.6 394 302.6" fill="none" stroke="#a5abb0" stroke-width="5.3" stroke-linecap="butt" stroke-linejoin="round" transform="translate(-0.7 -0.7)"/>
<path d="M351 279C354.5 280.9 364.8 286.6 372 290.5C379.2 294.4 390.3 300.6 394 302.6" fill="none" stroke="#e1e4e6" stroke-width="2.2" stroke-linecap="butt" stroke-linejoin="round" transform="translate(-1.3 -1.3)"/>
<circle cx="347" cy="268" r="6.5" fill="#a5acb1" stroke="#50565a" stroke-width="0.8"/>
<circle cx="346" cy="267" r="3" fill="#d9dde0"/>
<path d="M349.5 143.8h12.2a7.3 9.7 0 0 1 0 19.3h-12.2z" fill="#8c959c" stroke="#4d555b" stroke-width="0.8"/>
<path d="M349.5 148.2h14.2" fill="none" stroke="#e4e8eb" stroke-width="2.4"/>
<ellipse cx="349.5" cy="153.5" rx="9" ry="10.5" fill="#aab3ba" stroke="#4d555b" stroke-width="0.8"/>
<ellipse cx="349.2" cy="153.5" rx="5.5" ry="6.7" fill="#464c51"/>
<circle cx="348.9" cy="153.7" r="3.8" fill="#b9a55a" stroke="#3a3a2a" stroke-width="0.6"/>
<circle cx="348.4" cy="153.3" r="1.6" fill="#efe5b5"/>
</g>
<g id="front">
<path d="M343 331C342.3 332.7 339 337.8 339 341C339 344.2 343 347.2 343 350C343 352.8 341 355.5 339 358C337 360.5 333.2 362.7 331 365C328.8 367.3 326.8 370.8 326 372" fill="none" stroke="#394661" stroke-width="9" stroke-linecap="round" stroke-linejoin="round"/>
<path d="M343 331C342.3 332.7 339 337.8 339 341C339 344.2 343 347.2 343 350C343 352.8 341 355.5 339 358C337 360.5 333.2 362.7 331 365C328.8 367.3 326.8 370.8 326 372" fill="none" stroke="#65769a" stroke-width="6.5" stroke-linecap="round" stroke-linejoin="round" transform="translate(-0.8 -0.8)"/>
<path d="M343 331C342.3 332.7 339 337.8 339 341C339 344.2 343 347.2 343 350C343 352.8 341 355.5 339 358C337 360.5 333.2 362.7 331 365C328.8 367.3 326.8 370.8 326 372" fill="none" stroke="#9aa9c6" stroke-width="2.7" stroke-linecap="round" stroke-linejoin="round" transform="translate(-1.6 -1.6)"/>
<path d="M343.1 314.5L345.3 313.9L346.8 314.9L349 314.2L350.2 315.8L352.2 315.7L353.3 317.3L355.3 317.1L356.5 318.7L358.5 318.5L359.6 320.1L361.7 319.9L362.8 321.6L364.8 321.3L366 323L368 322.8L369.1 324.4L371.2 324.2L372.3 325.9L374.3 325.6L375.4 327.3L377.4 327.1L378.5 328.9L380.5 328.7L381.6 330.5L373.4 347.5L371.4 347.8L370.2 346.1L368.2 346.4L367.1 344.7L365.1 344.9L364 343.1L362 343.3L360.9 341.6L358.9 341.7L357.8 340L355.8 340.2L354.7 338.4L352.7 338.6L351.6 336.9L349.6 337L348.5 335.3L346.5 335.4L345.4 333.7L343.4 333.8L342.3 332.2L340.4 332.3L339.5 330.1L337.8 329.6L336.9 327.5Z" fill="#353535" stroke="#0c0c0c" stroke-width="0.6" stroke-linejoin="round"/>
<path d="M341.4 318.1L343.1 318.6L344.8 319.1L346.4 319.6L348 320.4L349.6 321.1L351.1 321.8L352.7 322.6L354.3 323.3L355.8 324L357.4 324.8L359 325.5L360.5 326.3L362.1 327L363.7 327.7L365.3 328.5L366.8 329.2L368.4 329.9L370 330.7L371.5 331.4L373.1 332.1L374.7 332.9L376.2 333.7L377.8 334.4L379.3 335.2" fill="none" stroke="#7a7a7a" stroke-width="4.6" opacity=".8" stroke-linecap="round"/>
<path d="M346.9 314.7Q344.6 323.2 339.4 330.3M350.3 315.7Q347.7 324.7 342.2 332.3M353.4 317.1Q350.8 326.2 345.3 333.9M356.6 318.5Q353.9 327.7 348.4 335.5M359.7 320Q357.1 329.2 351.5 337M362.9 321.4Q360.2 330.7 354.6 338.6M366 322.8Q363.3 332.2 357.7 340.2M369.2 324.2Q366.4 333.7 360.8 341.8M372.4 325.7Q369.6 335.2 363.9 343.3M375.5 327.1Q372.7 336.7 367 344.9M378.6 328.7Q375.8 338.2 370.1 346.3" fill="none" stroke="#121212" stroke-width="1.1"/>
<path d="M374.5 337.4L382 341.2" fill="none" stroke="#42644d" stroke-width="21.5" stroke-linecap="butt" stroke-linejoin="round"/>
<path d="M374.5 337.4L382 341.2" fill="none" stroke="#84aa8f" stroke-width="15.5" stroke-linecap="butt" stroke-linejoin="round" transform="translate(-1.9 -1.9)"/>
<path d="M374.5 337.4L382 341.2" fill="none" stroke="#c5dfcd" stroke-width="6.5" stroke-linecap="butt" stroke-linejoin="round" transform="translate(-3.9 -3.9)"/>
<path d="M378.6 329.6l-8.2 16.8" fill="none" stroke="#dfe9e2" stroke-width="1.4"/>
<path d="M348 336l7 4" fill="none" stroke="#b7a45a" stroke-width="3.2" stroke-linecap="round"/>
<path d="M326 309l11 5" fill="none" stroke="#c2b06a" stroke-width="3.6" stroke-linecap="round"/>
<circle cx="330" cy="311" r="2.6" fill="#a5954f" stroke="#5b5230" stroke-width="0.5"/>
</g>
<g id="rsusp">
<path d="M594 448C595.9 445.7 605.9 441 612 441C618.1 441 632.5 445.2 640 448C647.5 450.8 664.5 458.3 668 462C671.5 465.7 669.5 475.2 666 476C662.5 476.8 648.9 470 642 468C635.1 466 619.9 462.3 614 461C608.1 459.7 600.7 459.7 598 458C595.3 456.3 592.1 450.3 594 448Z" fill="#b4bcc3" stroke="#687178" stroke-width="0.8"/>
<path d="M600 449C602.3 448.3 607.7 444.7 614 445C620.3 445.3 630.3 448.2 638 451C645.7 453.8 656.3 460.2 660 462" fill="none" stroke="#e9ecee" stroke-width="2.2"/>
<path d="M523 464C523.3 460.5 527.1 456.2 530 454.5C532.9 452.8 541.5 450.7 545 451C548.5 451.3 551.6 455 556 456.5C560.4 458 571.2 460.7 578 462C584.8 463.3 599.8 465.1 607 466C614.2 466.9 626 468.1 632 469C638 469.9 647.7 471.5 652 473C656.3 474.5 662.9 477.9 664 480C665.1 482.1 663.2 488.3 660 489C656.8 489.7 646.7 485.7 640 485C633.3 484.3 618.3 484.1 610 484C601.7 483.9 586.8 483.7 578 484C569.2 484.3 550.7 486.4 544 486C537.3 485.6 530.8 483.9 528 481C525.2 478.1 522.7 467.5 523 464Z" fill="#b0b8bf" stroke="#687178" stroke-width="0.8"/>
<path d="M540 455C542 455.5 545.7 456.3 552 458C558.3 459.7 569 463.2 578 465C587 466.8 597.3 467.8 606 469C614.7 470.2 626 471.5 630 472" fill="none" stroke="#e9ecee" stroke-width="2.4"/>
<path d="M546 483C551.3 482.7 567.3 481.3 578 481C588.7 480.7 599.7 480.8 610 481C620.3 481.2 635 482.2 640 482.5" fill="none" stroke="#7d868d" stroke-width="2"/>
<circle cx="531.5" cy="471" r="9.5" fill="#1e2023"/>
<circle cx="531.5" cy="471" r="4.2" fill="#8c7f4a" stroke="#111" stroke-width="1"/>
<circle cx="531" cy="470.4" r="1.7" fill="#e2d69e"/>
<path d="M512 481C515.8 482.4 526.2 487.8 535 489.5C543.8 491.2 555 491.2 565 491C575 490.8 585.5 488.6 595 488.5C604.5 488.4 617.5 490.2 622 490.5" fill="none" stroke="#6a7890" stroke-width="8.6" stroke-linecap="butt" stroke-linejoin="round"/>
<path d="M512 481C515.8 482.4 526.2 487.8 535 489.5C543.8 491.2 555 491.2 565 491C575 490.8 585.5 488.6 595 488.5C604.5 488.4 617.5 490.2 622 490.5" fill="none" stroke="#aab7ca" stroke-width="6.2" stroke-linecap="butt" stroke-linejoin="round" transform="translate(-0.2 -0.9)"/>
<path d="M512 481C515.8 482.4 526.2 487.8 535 489.5C543.8 491.2 555 491.2 565 491C575 490.8 585.5 488.6 595 488.5C604.5 488.4 617.5 490.2 622 490.5" fill="none" stroke="#e4e9f1" stroke-width="2.6" stroke-linecap="butt" stroke-linejoin="round" transform="translate(-0.4 -1.9)"/>
<path d="M560 486C561.7 484 578.7 480.4 585 480C591.3 479.6 603 482.2 607 483C611 483.8 614.1 484.4 615 486C615.9 487.6 616.5 494.1 614 495C611.5 495.9 601.6 493 596 493C590.4 493 576.8 495.9 572 495C567.2 494.1 558.3 488 560 486Z" fill="#b9c3d0" stroke="#6a7890" stroke-width="0.7"/>
<path d="M614 487L634 493.5" fill="none" stroke="#6a7278" stroke-width="12.5" stroke-linecap="butt" stroke-linejoin="round"/>
<path d="M614 487L634 493.5" fill="none" stroke="#b6bdc3" stroke-width="9" stroke-linecap="butt" stroke-linejoin="round" transform="translate(-1.1 -1.1)"/>
<path d="M614 487L634 493.5" fill="none" stroke="#eceff1" stroke-width="3.8" stroke-linecap="butt" stroke-linejoin="round" transform="translate(-2.2 -2.2)"/>
<ellipse cx="503" cy="477" rx="4.6" ry="12" fill="#23262b" transform="rotate(22 503 477)"/>
<ellipse cx="509.5" cy="481" rx="5" ry="12.5" fill="#2e3238" transform="rotate(22 509.5 481)"/>
<path d="M640 452C641.3 449.1 654.1 444.8 660 444C665.9 443.2 678.1 444.4 684 446C689.9 447.6 699.7 452.8 704 456C708.3 459.2 715.7 466.3 716 470C716.3 473.7 709.7 482.4 706 484C702.3 485.6 693.1 483.3 688 482C682.9 480.7 673.1 476.1 668 474C662.9 471.9 653.7 468.9 650 466C646.3 463.1 638.7 454.9 640 452Z" fill="#a9b2b9" stroke="#626b72" stroke-width="0.8"/>
<path d="M646 452C648.7 451.3 655.7 448.3 662 448C668.3 447.7 677.7 448.3 684 450C690.3 451.7 697.3 456.7 700 458" fill="none" stroke="#e6e9eb" stroke-width="2.2"/>
<path d="M664 434C666.5 431.7 676.8 434.6 680 437C683.2 439.4 687.5 447.9 688 452C688.5 456.1 686.4 465.6 684 468C681.6 470.4 673.1 471.9 670 470C666.9 468.1 661.8 458.8 661 454C660.2 449.2 661.5 436.3 664 434Z" fill="#43474b"/>
<path d="M640 432C643.3 433.3 653.7 437.3 660 440C666.3 442.7 675 446.7 678 448" fill="none" stroke="#5e6468" stroke-width="6.5" stroke-linecap="butt" stroke-linejoin="round"/>
<path d="M640 432C643.3 433.3 653.7 437.3 660 440C666.3 442.7 675 446.7 678 448" fill="none" stroke="#9a9fa3" stroke-width="4.7" stroke-linecap="butt" stroke-linejoin="round" transform="translate(-0.6 -0.6)"/>
<path d="M640 432C643.3 433.3 653.7 437.3 660 440C666.3 442.7 675 446.7 678 448" fill="none" stroke="#d8dbdd" stroke-width="1.9" stroke-linecap="butt" stroke-linejoin="round" transform="translate(-1.2 -1.2)"/>
<path d="M676.1 437.6L679.8 436.4L682.8 436.4L686.8 434.8L688.8 436.3L692.2 435.7L694.1 437.4L697.6 436.6L699.4 438.6L702.7 438L704.2 440.5L707.5 439.9L709 442.4L691 471.6L688.1 471.4L687.2 468.2L684.3 468L683.3 464.8L680.7 464.1L679.9 460.6L677.5 459.7L676.5 456.3L674.2 455.2L673.9 450.9L672.5 448.3L671.9 444.4Z" fill="#353535" stroke="#0c0c0c" stroke-width="0.6" stroke-linejoin="round"/>
<path d="M674.9 439.5L677.6 439.9L680.3 440.4L683 440.9L685.4 441.9L687.8 442.9L690.2 443.8L692.6 444.8L694.9 445.8L697.2 447L699.5 448.2L701.7 449.4L704 450.5" fill="none" stroke="#7a7a7a" stroke-width="6.7" opacity=".8" stroke-linecap="round"/>
<path d="M682.9 436.2Q679.7 444.5 673.8 451.1M689 436.1Q684 447.2 676.4 456.6M694.3 437.1Q688.4 449.8 679.7 460.9M699.6 438.3Q692.7 452.5 683.1 465.1M704.4 440.2Q697 455.2 687 468.5" fill="none" stroke="#121212" stroke-width="1.1"/>
<path d="M697 456L712 463" fill="none" stroke="#5f666c" stroke-width="30" stroke-linecap="butt" stroke-linejoin="round"/>
<path d="M697 456L712 463" fill="none" stroke="#aab2b9" stroke-width="21.6" stroke-linecap="butt" stroke-linejoin="round" transform="translate(-2.7 -2.7)"/>
<path d="M697 456L712 463" fill="none" stroke="#e8ebee" stroke-width="9" stroke-linecap="butt" stroke-linejoin="round" transform="translate(-5.4 -5.4)"/>
<path d="M692 430C691.3 432.7 687.7 440.7 688 446C688.3 451.3 690.7 458.3 694 462C697.3 465.7 705.7 467 708 468" fill="none" stroke="#5a2a22" stroke-width="1.1"/>
<circle cx="709" cy="468.5" r="2.2" fill="#b98a5f" stroke="#3a2a1a" stroke-width="0.5"/>
<path d="M660 330L660 404" fill="none" stroke="#3d4246" stroke-width="12" stroke-linecap="butt" stroke-linejoin="round"/>
<path d="M660 330L660 404" fill="none" stroke="#858b8f" stroke-width="8.6" stroke-linecap="butt" stroke-linejoin="round" transform="translate(-1.1 -1.1)"/>
<path d="M660 330L660 404" fill="none" stroke="#cfd3d6" stroke-width="3.6" stroke-linecap="butt" stroke-linejoin="round" transform="translate(-2.2 -2.2)"/>
<path d="M653.5 326h13" fill="none" stroke="#2f3336" stroke-width="1.5"/>
<path d="M653.5 328h13" fill="none" stroke="#d9dcde" stroke-width="1"/>
<path d="M653.5 330.4h13" fill="none" stroke="#2f3336" stroke-width="1.5"/>
<path d="M653.5 332.4h13" fill="none" stroke="#d9dcde" stroke-width="1"/>
<path d="M653.5 334.8h13" fill="none" stroke="#2f3336" stroke-width="1.5"/>
<path d="M653.5 336.8h13" fill="none" stroke="#d9dcde" stroke-width="1"/>
<path d="M653.5 339.2h13" fill="none" stroke="#2f3336" stroke-width="1.5"/>
<path d="M653.5 341.2h13" fill="none" stroke="#d9dcde" stroke-width="1"/>
<path d="M653.5 343.6h13" fill="none" stroke="#2f3336" stroke-width="1.5"/>
<path d="M653.5 345.6h13" fill="none" stroke="#d9dcde" stroke-width="1"/>
<path d="M653.5 348h13" fill="none" stroke="#2f3336" stroke-width="1.5"/>
<path d="M653.5 350h13" fill="none" stroke="#d9dcde" stroke-width="1"/>
<path d="M653.5 352.4h13" fill="none" stroke="#2f3336" stroke-width="1.5"/>
<path d="M653.5 354.4h13" fill="none" stroke="#d9dcde" stroke-width="1"/>
<path d="M653.5 356.8h13" fill="none" stroke="#2f3336" stroke-width="1.5"/>
<path d="M653.5 358.8h13" fill="none" stroke="#d9dcde" stroke-width="1"/>
<path d="M653.5 361.2h13" fill="none" stroke="#2f3336" stroke-width="1.5"/>
<path d="M653.5 363.2h13" fill="none" stroke="#d9dcde" stroke-width="1"/>
<path d="M641 311L680 311L679 326L670 334L651 334L642 326Z" fill="url(#gIn)" stroke="#33383c" stroke-width="0.8"/>
<path d="M648 346L648 398" fill="none" stroke="#3a3e42" stroke-width="13.5" stroke-linecap="butt" stroke-linejoin="round"/>
<path d="M648 346L648 398" fill="none" stroke="#8f9599" stroke-width="9.7" stroke-linecap="butt" stroke-linejoin="round" transform="translate(-1.2 -1.2)"/>
<path d="M648 346L648 398" fill="none" stroke="#e1e4e6" stroke-width="4" stroke-linecap="butt" stroke-linejoin="round" transform="translate(-2.4 -2.4)"/>
<path d="M641.5 350h13" fill="none" stroke="#2a2d30" stroke-width="1.6"/>
<path d="M641.5 358h13" fill="none" stroke="#2a2d30" stroke-width="1.6"/>
<path d="M641.5 366h13" fill="none" stroke="#2a2d30" stroke-width="1.6"/>
<path d="M641.5 374h13" fill="none" stroke="#2a2d30" stroke-width="1.6"/>
<path d="M641.5 382h13" fill="none" stroke="#2a2d30" stroke-width="1.6"/>
<path d="M641.5 390h13" fill="none" stroke="#2a2d30" stroke-width="1.6"/>
<ellipse cx="648" cy="345.5" rx="6.8" ry="2.6" fill="#c5c9cc" stroke="#33373a" stroke-width="0.6"/>
<path d="M626 352C625.8 355.3 624.3 366.3 625 372C625.7 377.7 627.2 383.3 630 386C632.8 388.7 640 387.7 642 388" fill="none" stroke="#1d1d1d" stroke-width="1.4"/>
<path d="M626 350v12" fill="none" stroke="#444" stroke-width="3" stroke-linecap="round"/>
<path d="M666 370L680 372L682 400L666 404Z" fill="#3f4448" stroke="#222" stroke-width="0.6"/>
<path d="M636 408C637.6 405.7 646.3 400.7 650 400C653.7 399.3 664.3 400.8 668 402C671.7 403.2 681.1 407.7 682 410C682.9 412.3 678.1 419.9 676 422C673.9 424.1 665.9 422.4 664 428C662.1 433.6 660.9 463.5 660 470C659.1 476.5 657.6 482.6 656 484C654.4 485.4 647.4 483.9 646 482C644.6 480.1 644 474.1 644 468C644 461.9 646.9 435.6 646 430C645.1 424.4 637.2 422.6 636 420C634.8 417.4 634.4 410.3 636 408Z" fill="#b3bbc2" stroke="#626b72" stroke-width="0.8"/>
<path d="M649 426C648.8 430 648.3 441.7 648 450C647.7 458.3 647.2 471.7 647 476" fill="none" stroke="#eef1f3" stroke-width="2.4"/>
<path d="M640 410C642 409 647.3 404.7 652 404C656.7 403.3 665.3 405.7 668 406" fill="none" stroke="#e9ecee" stroke-width="2"/>
<circle cx="649.5" cy="423" r="3.6" fill="#c2b06a" stroke="#5b5230" stroke-width="0.6"/>
<path d="M662 420l22-2" fill="none" stroke="#26292c" stroke-width="3" stroke-linecap="round"/>
<path d="M629.5 428L629.5 466" fill="none" stroke="#5e6468" stroke-width="3" stroke-linecap="butt" stroke-linejoin="round"/>
<path d="M629.5 428L629.5 466" fill="none" stroke="#9a9fa3" stroke-width="2.2" stroke-linecap="butt" stroke-linejoin="round" transform="translate(-0.3 -0.3)"/>
<path d="M629.5 428L629.5 466" fill="none" stroke="#d8dbdd" stroke-width="0.9" stroke-linecap="butt" stroke-linejoin="round" transform="translate(-0.5 -0.5)"/>
<path d="M625.7 409.8L629.2 409.4L632.1 410L635.3 410L637.6 411.9L640.7 412.3L642.8 414.6L645.4 416L647.3 418.6L642.7 428.4L639.4 428.5L636.7 427.4L633.6 427.2L631.4 425.1L628.4 424.5L626.4 422L624.1 420.1L622.3 417.2Z" fill="#5a6066" stroke="#0c0c0c" stroke-width="0.6" stroke-linejoin="round"/>
<path d="M624.8 411.9L627.6 412.6L630.5 413.3L633.3 414.3L635.9 415.6L638.5 416.8L641.1 418.2L643.6 419.7L646 421.3" fill="none" stroke="#9aa0a6" stroke-width="3.6" opacity=".8" stroke-linecap="round"/>
<path d="M632.2 409.8Q630.7 416.7 626.3 422.2M637.7 411.8Q635.9 419.2 631.3 425.2M642.9 414.5Q641.2 421.7 636.6 427.5" fill="none" stroke="#2d3236" stroke-width="1.1"/>
<path d="M629.5 228C632.5 224.4 687 224.4 690 228C693 231.6 690.2 295.9 690 300C689.8 304.1 686.7 309.2 686 310C685.3 310.8 677.3 316.1 676 316.5C674.7 316.9 661.6 318 660 318C658.4 318 645.3 316.9 644 316.5C642.7 316.1 634.7 310.8 634 310C633.3 309.2 629.7 304.1 629.5 300C629.3 295.9 626.5 231.6 629.5 228Z" fill="url(#gShkR)" stroke="#22364f" stroke-width="0.8"/>
<path d="M646 238L678 236L682 252L681 310L643 310L642.5 262Z" fill="url(#gIn)" stroke="#2a2e31" stroke-width="0.7"/>
<path d="M648 238L652 238L652 310L648 310Z" fill="#33383c"/>
<path d="M670 236L674 236L674 310L670 310Z" fill="#33383c"/>
<path d="M652 282L670 282L670 288L652 288Z" fill="#e9ecee" stroke="#555b5f" stroke-width="0.5"/>
<path d="M654 292L668 292L668 309L654 309Z" fill="#70767a" stroke="#33383c" stroke-width="0.5"/>
<path d="M660 212v98" fill="none" stroke="#f2f4f5" stroke-width="3.2"/>
<path d="M661.8 212v98" fill="none" stroke="#8a9094" stroke-width="0.8"/>
<ellipse cx="660.5" cy="258" rx="8.5" ry="9" fill="#1f2225"/>
<path d="M652 240L670 240L668 248L654 248Z" fill="#e9ecee" stroke="#555b5f" stroke-width="0.5"/>
<path d="M660 250v26" fill="none" stroke="#f2f4f5" stroke-width="3"/>
<path d="M632 208C631 210.2 631.2 223.6 632 226C632.8 228.4 638.2 231.2 640 232C641.8 232.8 649 235.2 650 234C651 232.8 649 221.7 650 220C651 218.3 657.8 217.1 660 217C662.2 216.9 670 218.3 672 219C674 219.7 679.1 222.5 680 224C680.9 225.5 680.2 233.3 681 234C681.8 234.7 687.1 233.2 688 231C688.9 228.8 690.3 214.7 689.5 212C688.7 209.3 683 205.6 680 204.5C677 203.4 663.8 201.6 660 201.5C656.2 201.4 644.8 202.8 642 203.5C639.2 204.2 633 205.8 632 208Z" fill="#7b8186" stroke="#2c3135" stroke-width="0.8"/>
<ellipse cx="661" cy="207.5" rx="28" ry="6.8" fill="#a9afb3" stroke="#3e4347" stroke-width="0.8"/>
<ellipse cx="661" cy="207" rx="19" ry="4.2" fill="#73797e"/>
<path d="M646 220C647.2 218.9 649.7 214.7 653 213.5C656.3 212.3 662 212.2 666 213C670 213.8 675.2 217.2 677 218" fill="none" stroke="#f5f6f7" stroke-width="1.6"/>
<path d="M631 226L646 233.5L646 240.5L631 233Z" fill="#e8ebed" stroke="#40464a" stroke-width="0.6"/>
<path d="M679 235L690 229L690 236L680 242Z" fill="#e8ebed" stroke="#40464a" stroke-width="0.6"/>
<path d="M652 221L670 220L672 236L650 238Z" fill="#cfd3d6" stroke="#4a5054" stroke-width="0.5"/>
<path d="M660 206v24" fill="none" stroke="#f4f5f6" stroke-width="3"/>
<path d="M636.3 199.5v7" fill="none" stroke="#b9a75f" stroke-width="2.4" stroke-linecap="round"/><path d="M635.8 199.5v5.6" fill="none" stroke="#efe6bb" stroke-width="0.8" stroke-linecap="round"/><ellipse cx="636.3" cy="206.5" rx="3" ry="1.9" fill="#9b8c4c" stroke="#5b5230" stroke-width="0.5"/>
<path d="M673.6 194.5v8" fill="none" stroke="#b9a75f" stroke-width="2.4" stroke-linecap="round"/><path d="M673.1 194.5v6.4" fill="none" stroke="#efe6bb" stroke-width="0.8" stroke-linecap="round"/><ellipse cx="673.6" cy="202.5" rx="3" ry="1.9" fill="#9b8c4c" stroke="#5b5230" stroke-width="0.5"/>
<path d="M658.4 208.5v5.5" fill="none" stroke="#b9a75f" stroke-width="2.2" stroke-linecap="round"/><path d="M657.9 208.5v4.4" fill="none" stroke="#efe6bb" stroke-width="0.8" stroke-linecap="round"/><ellipse cx="658.4" cy="214" rx="2.8" ry="1.8" fill="#9b8c4c" stroke="#5b5230" stroke-width="0.5"/>
<path d="M690 266C692.7 266.3 701.3 266.7 706 268C710.7 269.3 715.3 271.7 718 274C720.7 276.3 721.3 280.7 722 282" fill="none" stroke="#7f8d99" stroke-width="6.5" stroke-linecap="round"/>
<path d="M690 266C692.7 266.3 701.3 266.7 706 268C710.7 269.3 715.3 271.7 718 274C720.7 276.3 721.3 280.7 722 282" fill="none" stroke="#bcc8d1" stroke-width="4.5" stroke-linecap="round"/>
<path d="M618 270C620.1 269.1 627.7 272.2 632 273C636.3 273.8 644.7 275.5 650 276C655.3 276.5 666.1 277.1 672 277C677.9 276.9 689.2 275.7 694 275C698.8 274.3 704.8 271.9 708 272C711.2 272.1 716.1 274.4 718 276C719.9 277.6 722.3 281.9 722 284C721.7 286.1 718.4 291.2 716 292C713.6 292.8 707.5 290.7 704 290C700.5 289.3 694.8 287.1 690 287C685.2 286.9 673.9 288.9 668 289C662.1 289.1 651.3 288.7 646 288C640.7 287.3 632 285.1 628 284C624 282.9 617.3 281.9 616 280C614.7 278.1 615.9 270.9 618 270Z" fill="#b2bfc9" stroke="#62707b" stroke-width="0.8"/>
<path d="M624 273C627.7 273.8 638.3 276.9 646 278C653.7 279.1 662 279.6 670 279.5C678 279.4 687.3 278.2 694 277.5C700.7 276.8 707.3 275.4 710 275" fill="none" stroke="#eef2f5" stroke-width="2"/>
<path d="M630 284C633.3 284.4 643 286 650 286.5C657 287 664.7 287.2 672 287C679.3 286.8 690.3 285.3 694 285" fill="none" stroke="#7c8a96" stroke-width="1.6"/>
<path d="M613.5 268.2h10.5a6.3 8.3 0 0 1 0 16.6h-10.5z" fill="#8c959c" stroke="#4d555b" stroke-width="0.8"/>
<path d="M613.5 272h12.5" fill="none" stroke="#e4e8eb" stroke-width="2.4"/>
<ellipse cx="613.5" cy="276.5" rx="7.7" ry="9" fill="#aab3ba" stroke="#4d555b" stroke-width="0.8"/>
<ellipse cx="613.2" cy="276.5" rx="4.7" ry="5.8" fill="#464c51"/>
<circle cx="612.9" cy="276.7" r="3.2" fill="#b9a55a" stroke="#3a3a2a" stroke-width="0.6"/>
<circle cx="612.4" cy="276.3" r="1.3" fill="#efe5b5"/>
<ellipse cx="711.5" cy="292.5" rx="10.5" ry="4.6" fill="#25282b" transform="rotate(8 711.5 292.5)"/>
<ellipse cx="711.5" cy="296" rx="9" ry="3.6" fill="#3a3e42" transform="rotate(8 711.5 296)"/>
<path d="M704 298L719 299L718 311L705 309Z" fill="#b5bdc3" stroke="#5a6268" stroke-width="0.7"/>
<path d="M706 299L710 299.3L709.5 309.6L706 309.2Z" fill="#eef1f3"/>
<path d="M708 309L714.5 310L714 314.5L708 313.5Z" fill="#e6dc8e" stroke="#7a7030" stroke-width="0.5"/>
<path d="M700 300C702.4 298.9 709.2 301.1 710 304C710.8 306.9 706.9 317.2 706 322C705.1 326.8 703.3 335.2 703 340C702.7 344.8 703.2 353.5 704 358C704.8 362.5 707.4 369.7 709 374C710.6 378.3 714 385.5 716 390C718 394.5 721.9 402.9 724 408C726.1 413.1 730.1 422.9 732 428C733.9 433.1 737.5 441.5 738 446C738.5 450.5 737.9 458.8 736 462C734.1 465.2 727.2 470 724 470C720.8 470 714.1 465.2 712 462C709.9 458.8 709.3 450.5 708 446C706.7 441.5 703.6 432.8 702 428C700.4 423.2 697.6 414.8 696 410C694.4 405.2 691.3 397.1 690 392C688.7 386.9 686.8 377.6 686 372C685.2 366.4 684 355.6 684 350C684 344.4 684.9 335.1 686 330C687.1 324.9 690.1 316 692 312C693.9 308 697.6 301.1 700 300Z" fill="url(#gKn)" stroke="#5f6d78" stroke-width="0.9"/>
<path d="M696 312C695 315.3 691.2 325.3 690 332C688.8 338.7 688.3 345 688.5 352C688.7 359 689.8 367 691 374C692.2 381 694 387.3 696 394C698 400.7 700.8 407.7 703 414C705.2 420.3 708 429 709 432" fill="none" stroke="#e9eff3" stroke-width="2.2"/>
<path d="M706 324C705.3 327.3 702.5 338 702 344C701.5 350 702 354.3 703 360C704 365.7 705.8 372 708 378C710.2 384 713.3 389.7 716 396C718.7 402.3 721.5 409.3 724 416C726.5 422.7 729.8 432.7 731 436" fill="none" stroke="#73818d" stroke-width="1.8"/>
<circle cx="699.5" cy="378" r="1.4" fill="#2a3036"/>
<path d="M704 452C700.8 452 699.7 463.7 698 468C696.3 472.3 692.1 480.1 691 484C689.9 487.9 689.1 494.5 690 497C690.9 499.5 695.6 502.9 698 503C700.4 503.1 705.6 500.5 708 498C710.4 495.5 714.1 488 716 484C717.9 480 723.6 472.3 722 468C720.4 463.7 707.2 452 704 452Z" fill="#a9b6c0" stroke="#5f6d78" stroke-width="0.8"/>
<path d="M702 458C701 460.7 697.5 468.7 696 474C694.5 479.3 693.5 487.3 693 490" fill="none" stroke="#e9eff3" stroke-width="2"/>
<circle cx="699.5" cy="494" r="2.6" fill="#b9a75f" stroke="#5b5230" stroke-width="0.6"/>
<path d="M712 452C715.7 449.3 725.2 444 730 444C734.8 444 743.7 448.8 748 452C752.3 455.2 759.1 463.5 762 468C764.9 472.5 769.7 481.2 770 486C770.3 490.8 766.9 500.3 764 504C761.1 507.7 752.3 512.9 748 514C743.7 515.1 735.7 511.2 732 512C728.3 512.8 723.2 519.7 720 520C716.8 520.3 710.1 516.9 708 514C705.9 511.1 705.1 502.5 704 498C702.9 493.5 700.3 484.5 700 480C699.7 475.5 700.4 467.7 702 464C703.6 460.3 708.3 454.7 712 452Z" fill="#aeb6bc" stroke="#5d656b" stroke-width="0.8"/>
<path d="M716 456C718.3 455 725.3 450 730 450C734.7 450 739.7 453 744 456C748.3 459 754 466 756 468" fill="none" stroke="#eef1f3" stroke-width="2"/>
<path d="M744 416C744.8 411.7 748.5 409.6 752 408C755.5 406.4 764.9 404 770 404C775.1 404 786.3 406.1 790 408C793.7 409.9 797.5 414.3 798 418C798.5 421.7 795.9 432 794 436C792.1 440 787.2 445.3 784 448C780.8 450.7 773.7 455.5 770 456C766.3 456.5 759.2 454.1 756 452C752.8 449.9 747.6 444.8 746 440C744.4 435.2 743.2 420.3 744 416Z" fill="#c9ced2" stroke="#5d656b" stroke-width="0.8"/>
<path d="M752 416L764 410L774 414L780 426L776 444L766 452L756 448L750 436Z" fill="#c6c0d8" stroke="#77718a" stroke-width="0.7"/>
<path d="M754 418L763 413L766 416L760 444L754 440Z" fill="#e3dfee"/>
<path d="M769 412L784 408L792 416L790 430L778 436L770 428Z" fill="#b5a56a" stroke="#5b5230" stroke-width="0.7"/>
<path d="M771 413L784 410L789 416L776 420Z" fill="#ddd0a0"/>
<path d="M706 510C707.9 506 716 504.3 720 504C724 503.7 732.8 505.9 736 508C739.2 510.1 743.5 516 744 520C744.5 524 741.9 534.3 740 538C738.1 541.7 733.2 546.9 730 548C726.8 549.1 719.2 547.9 716 546C712.8 544.1 707.3 538.8 706 534C704.7 529.2 704.1 514 706 510Z" fill="#c4c9cd" stroke="#5d656b" stroke-width="0.8"/>
<path d="M714 512L728 510L736 518L734 536L724 544L714 538L710 526Z" fill="#c6c0d8" stroke="#77718a" stroke-width="0.7"/>
<path d="M716 514L723 512.5L720 540L714 536Z" fill="#e3dfee"/>
<path d="M700 506l-9 22" fill="none" stroke="#f2f4f5" stroke-width="1.6"/>
<path d="M703.6 507.5l-9 22" fill="none" stroke="#3a3e42" stroke-width="1.6"/>
<path d="M707.2 509l-9 22" fill="none" stroke="#f2f4f5" stroke-width="1.6"/>
<path d="M710.8 510.5l-9 22" fill="none" stroke="#3a3e42" stroke-width="1.6"/>
<path d="M742 452C743.3 451.2 750.5 454.9 754 456C757.5 457.1 765.1 460 768 460C770.9 460 774.4 455.5 776 456C777.6 456.5 780.8 461.9 780 464C779.2 466.1 773.2 471.5 770 472C766.8 472.5 759.5 469.3 756 468C752.5 466.7 745.9 464.1 744 462C742.1 459.9 740.7 452.8 742 452Z" fill="#4a5055"/>
<path d="M722 508C724 508.3 730.7 508.7 734 510C737.3 511.3 741.3 513.7 742 516C742.7 518.3 738.7 522.7 738 524" fill="none" stroke="#454b50" stroke-width="2.5"/>
<path d="M746 440C746.7 442 747.7 449 750 452C752.3 455 758.3 457 760 458" fill="none" stroke="#3d4348" stroke-width="2"/>
<path d="M756 454L764 456L762 476L754 474Z" fill="#c6c0d8" stroke="#77718a" stroke-width="0.6"/>
<path d="M741 436L750 433L754 446L746 452L740 446Z" fill="#a99b63" stroke="#4b4429" stroke-width="0.6"/>
<path d="M729.6 488.9C729.6 488.4 729.2 486.8 729.1 485.7C729 484.6 729 483.4 729.1 482.3C729.2 481.2 729.4 480.1 729.6 479.1C729.9 478 730.3 477 730.8 476C731.2 475 731.8 474 732.4 473.1C733.1 472.2 733.8 471.3 734.6 470.6C735.3 469.8 736.2 469.1 737.1 468.4C738 467.8 739 467.2 740 466.8C741 466.3 742 465.9 743.1 465.6C744.1 465.4 745.8 465.2 746.3 465.1" fill="none" stroke="#5a6268" stroke-width="11.5" stroke-linecap="round"/>
<path d="M729.6 488.9C729.6 488.4 729.2 486.8 729.1 485.7C729 484.6 729 483.4 729.1 482.3C729.2 481.2 729.4 480.1 729.6 479.1C729.9 478 730.3 477 730.8 476C731.2 475 731.8 474 732.4 473.1C733.1 472.2 733.8 471.3 734.6 470.6C735.3 469.8 736.2 469.1 737.1 468.4C738 467.8 739 467.2 740 466.8C741 466.3 742 465.9 743.1 465.6C744.1 465.4 745.8 465.2 746.3 465.1" fill="none" stroke="#dfe3e6" stroke-width="10" stroke-linecap="round"/>
<circle cx="726.5" cy="488.6" r="1.9" fill="#f4f5f6" stroke="#3a3e42" stroke-width="0.6"/>
<circle cx="726" cy="483.6" r="1.9" fill="#f4f5f6" stroke="#3a3e42" stroke-width="0.6"/>
<circle cx="726.7" cy="478.7" r="1.9" fill="#f4f5f6" stroke="#3a3e42" stroke-width="0.6"/>
<circle cx="728.4" cy="474" r="1.9" fill="#f4f5f6" stroke="#3a3e42" stroke-width="0.6"/>
<circle cx="731.1" cy="469.9" r="1.9" fill="#f4f5f6" stroke="#3a3e42" stroke-width="0.6"/>
<circle cx="734.8" cy="466.4" r="1.9" fill="#f4f5f6" stroke="#3a3e42" stroke-width="0.6"/>
<circle cx="739.1" cy="463.9" r="1.9" fill="#f4f5f6" stroke="#3a3e42" stroke-width="0.6"/>
<circle cx="743.8" cy="462.4" r="1.9" fill="#f4f5f6" stroke="#3a3e42" stroke-width="0.6"/>
<circle cx="731.6" cy="485.7" r="1.9" fill="#f4f5f6" stroke="#3a3e42" stroke-width="0.6"/>
<circle cx="731.6" cy="482" r="1.9" fill="#f4f5f6" stroke="#3a3e42" stroke-width="0.6"/>
<circle cx="732.5" cy="478.4" r="1.9" fill="#f4f5f6" stroke="#3a3e42" stroke-width="0.6"/>
<circle cx="734.2" cy="475" r="1.9" fill="#f4f5f6" stroke="#3a3e42" stroke-width="0.6"/>
<circle cx="736.5" cy="472.1" r="1.9" fill="#f4f5f6" stroke="#3a3e42" stroke-width="0.6"/>
<circle cx="739.5" cy="469.9" r="1.9" fill="#f4f5f6" stroke="#3a3e42" stroke-width="0.6"/>
<circle cx="742.9" cy="468.3" r="1.9" fill="#f4f5f6" stroke="#3a3e42" stroke-width="0.6"/>
<circle cx="746.6" cy="467.6" r="1.9" fill="#f4f5f6" stroke="#3a3e42" stroke-width="0.6"/>
<path d="M740 476L750 474L756 482L752 491L742 492L737 485Z" fill="#b5a56a" stroke="#5b5230" stroke-width="0.7"/>
<path d="M741 477.5L749 476L752 480L743 482Z" fill="#e2d69e"/>
<ellipse cx="767" cy="494" rx="11" ry="14.5" fill="#9aa2a8" transform="rotate(-20 767 494)" stroke="#4f575d" stroke-width="0.8"/>
<ellipse cx="768" cy="494" rx="7.5" ry="10.5" fill="#7f9aa2" transform="rotate(-20 768 494)" stroke="#4f575d" stroke-width="0.6"/>
<ellipse cx="769" cy="494" rx="4" ry="6.5" fill="#c4d3d8" transform="rotate(-20 769 494)"/>
<path d="M733 503l14 8" fill="none" stroke="#b9a75f" stroke-width="3.2" stroke-linecap="round"/>
<path d="M733 502.4l12 7" fill="none" stroke="#efe6bb" stroke-width="1" stroke-linecap="round"/>
<circle cx="749.5" cy="512.5" r="3.2" fill="#a5954f" stroke="#5b5230" stroke-width="0.6"/>
<circle cx="710" cy="490" r="2.6" fill="#b9a75f" stroke="#5b5230" stroke-width="0.6"/>
<circle cx="736" cy="440" r="2.6" fill="#b9a75f" stroke="#5b5230" stroke-width="0.6"/>
<circle cx="745" cy="450" r="2.6" fill="#b9a75f" stroke="#5b5230" stroke-width="0.6"/>
<circle cx="716" cy="446" r="2.6" fill="#b9a75f" stroke="#5b5230" stroke-width="0.6"/>
<path d="M601 460C603.5 460.8 610.8 462.8 616 465C621.2 467.2 626.7 470.1 632 473C637.3 475.9 642.7 479.7 648 482.5C653.3 485.3 659 488.1 664 490C669 491.9 675.7 493.3 678 494" fill="none" stroke="#35543f" stroke-width="6" stroke-linecap="round" stroke-linejoin="round"/>
<path d="M601 460C603.5 460.8 610.8 462.8 616 465C621.2 467.2 626.7 470.1 632 473C637.3 475.9 642.7 479.7 648 482.5C653.3 485.3 659 488.1 664 490C669 491.9 675.7 493.3 678 494" fill="none" stroke="#6f957a" stroke-width="4.3" stroke-linecap="round" stroke-linejoin="round" transform="translate(-0.5 -0.5)"/>
<path d="M601 460C603.5 460.8 610.8 462.8 616 465C621.2 467.2 626.7 470.1 632 473C637.3 475.9 642.7 479.7 648 482.5C653.3 485.3 659 488.1 664 490C669 491.9 675.7 493.3 678 494" fill="none" stroke="#a9c8b3" stroke-width="1.8" stroke-linecap="round" stroke-linejoin="round" transform="translate(-1.1 -1.1)"/>
<circle cx="612.5" cy="464.5" r="2.6" fill="#c2b06a" stroke="#5b5230" stroke-width="0.5"/>
<path d="M670 490C670.9 487.6 679.1 487.5 682 488C684.9 488.5 690.4 491.6 692 494C693.6 496.4 694.1 502.8 694 506C693.9 509.2 692.5 515.9 691 518C689.5 520.1 685 522 683 522C681 522 677.1 520.1 676 518C674.9 515.9 675.8 509.7 675 506C674.2 502.3 669.1 492.4 670 490Z" fill="#a9b7b0" stroke="#56655c" stroke-width="0.8"/>
<path d="M678 492C679 491.8 682.2 490.3 684 491C685.8 491.7 688.2 495.2 689 496" fill="none" stroke="#e9f0ec" stroke-width="1.8"/>
<ellipse cx="684" cy="505.5" rx="8.6" ry="2.6" fill="#2b2f2d" transform="rotate(4 684 505.5)"/>
<path d="M681.5 482v6" fill="none" stroke="#b9a75f" stroke-width="2.6" stroke-linecap="round"/><path d="M681 482v4.8" fill="none" stroke="#efe6bb" stroke-width="0.9" stroke-linecap="round"/><ellipse cx="681.5" cy="488" rx="3.2" ry="2.1" fill="#9b8c4c" stroke="#5b5230" stroke-width="0.5"/>
<circle cx="666" cy="489" r="2.4" fill="#c2b06a" stroke="#5b5230" stroke-width="0.5"/>
<circle cx="659" cy="488" r="2" fill="#c2b06a" stroke="#5b5230" stroke-width="0.5"/>
</g>
<!-- ===== watermark ===== -->
<g id="watermark">
<path d="M890 641.2C897 640 900 634.5 908 632.2 916 630 922 625.6 930 624.4 940 622.6 956 622.4 970 624.2 980 625.6 988 627.2 992.5 628.6" fill="none" stroke="#dcdcdc" stroke-width="1.3"/>
<text x="907.5" y="645.2" font-family="Liberation Sans, sans-serif" font-size="13.5" font-weight="bold" font-style="italic" fill="#dadada" textLength="37" lengthAdjust="spacingAndGlyphs">PC</text>
<text x="945.5" y="644" font-family="Liberation Sans, sans-serif" font-size="10" font-weight="bold" font-style="italic" fill="#dedede" textLength="37" lengthAdjust="spacingAndGlyphs">auto</text>
<rect x="896.5" y="647.6" width="88" height="9.6" fill="#e3e3e3"/>
<text x="899.6" y="655.6" font-family="'Liberation Sans','Noto Sans CJK SC',sans-serif" font-size="8.6" fill="#fff" textLength="79.5" lengthAdjust="spacing">太平洋汽车网</text>
</g>
<!-- ===== header bar ===== -->
<g id="header">
<polygon points="0,0 350.5,0 305.5,45.6 0,45.6" fill="#000"/>
<polygon points="350.5,0 379.6,0 335.2,45.6 305.5,45.6" fill="#818181"/>
<polygon points="379.6,0 405.8,0 360.8,45.6 335.2,45.6" fill="#cbcbcb"/>
</g>
<!-- ===== leader lines ===== -->
<g id="leaders" stroke="#1a1a1a" stroke-width="1.1" fill="none" stroke-linecap="butt">
<line x1="351" y1="132" x2="504" y2="123"/>
<line x1="492.8" y1="286.7" x2="642.7" y2="166.8"/>
<line x1="699.5" y1="377.6" x2="827" y2="221.9"/>
<line x1="301.5" y1="458" x2="411" y2="424"/>
</g>
<!-- leader dots -->
<g fill="#1a1a1a"><circle cx="411" cy="424" r="1.3"/><circle cx="699.5" cy="377.8" r="1.3"/><circle cx="463.5" cy="310.4" r="1"/></g>
<!-- ===== labels ===== -->
<g id="labels" font-family="'Liberation Sans','Noto Sans CJK SC',sans-serif">
<text x="23" y="36" font-size="32" fill="#fff">稳定杆位置示意图</text>
<text x="507" y="131.5" font-size="32" fill="#111">上摆臂</text>
<text x="646" y="161.5" font-size="32" fill="#111">下摆臂</text>
<text x="809" y="203.5" font-size="32" fill="#111">转向节</text>
<text x="197" y="477.5" font-size="32" fill="#111">稳定杆</text>
<text x="134" y="545.5" font-size="24" fill="#111">稳定杆在汽车转弯时，可减</text>
<text x="134" y="575.5" font-size="24" fill="#111">少车身侧倾程度，使车身尽</text>
<text x="134" y="605" font-size="24" fill="#111">量保持平衡。</text>
</g>
</svg>
</body>
</html>
